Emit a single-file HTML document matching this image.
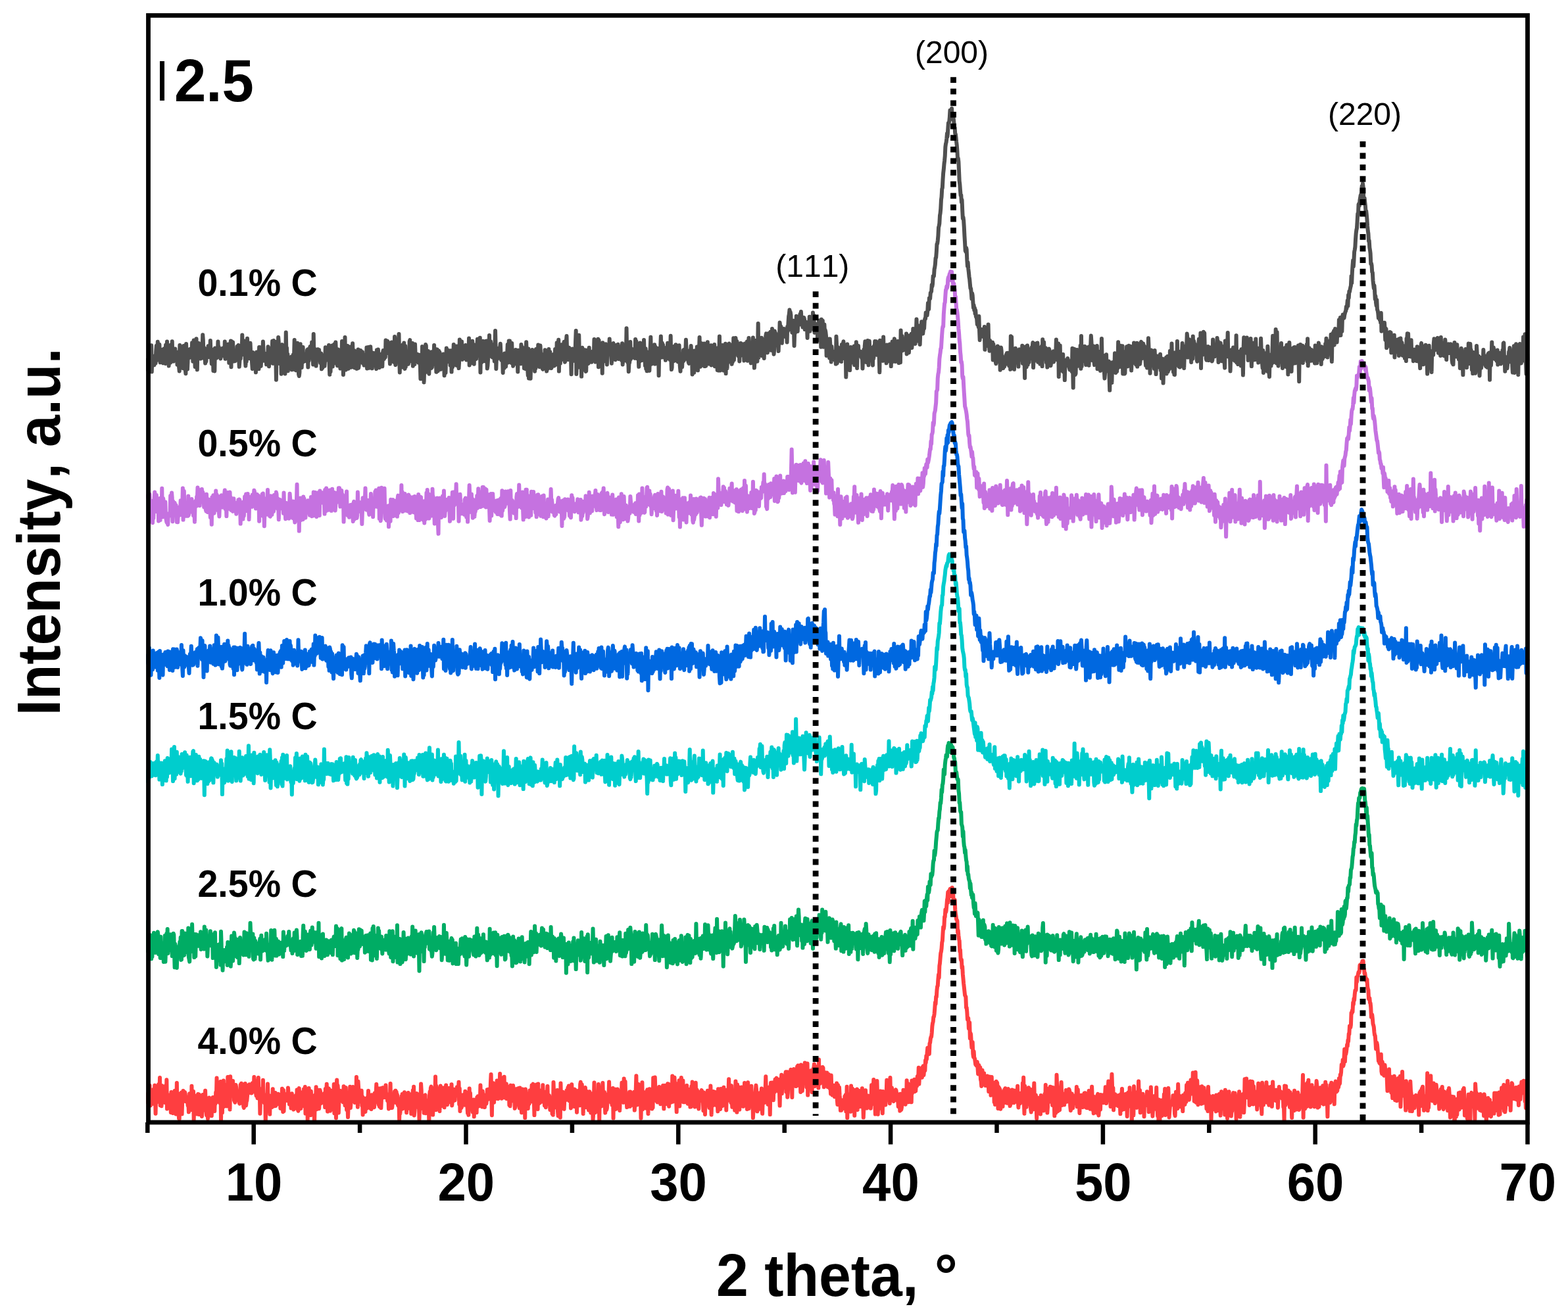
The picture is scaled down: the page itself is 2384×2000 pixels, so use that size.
<!DOCTYPE html>
<html><head><meta charset="utf-8"><title>XRD</title><style>html,body{margin:0;padding:0;background:#fff;}svg{display:block;}text{font-kerning:none;font-feature-settings:"kern" 0;}</style></head><body>
<svg width="2384" height="2000" viewBox="0 0 2384 2000">
<rect width="100%" height="100%" fill="#fff"/>
<defs><clipPath id="pa"><rect x="222" y="20" width="2104" height="1690"/></clipPath></defs>
<g clip-path="url(#pa)">
<path transform="translate(224.30 0) scale(0.64560 1)" vector-effect="non-scaling-stroke" fill="none" stroke="#4f4f4f" stroke-width="6" stroke-linejoin="round" stroke-linecap="round" d="M0 547.2 l1 15.8 1-1.4 1-20.4 1 2.6 1-2.7 1 13 1-7.4 1 9.4 1-30.8 1 40.2 1-19.8 1 8.9 1-9.9 1-3.1 1 9.6 1 4 1-12.5 1 .2 1 9.5 1-18.7 1-8 1 22.1 1-12.9 1-15.1 1 12.7 1 3.7 1-8.8 1-3.8 1 17.8 1 9.9 1-13.5 1-6.2 1 13.2 1 3.8 1-12.1 1 9.9 1 5.9 1-14.8 1-7.2 1 13.7 1-1.2 1 10.1 1-28.1 1 7.4 1-2.1 1-10.5 1 21.9 1 4.8 1-14.9 1 25 1-6.6 1-2.3 1-2.7 1 6.6 1-27 1 22.9 1-.1 1-27.9 1 25 1-7 1 12.2 1-14.3 1 5.1 1 4.4 1-14.2 1 17.6 1-8.2 1 7.3 1-11.8 1 19.2 1-5.4 1-8.9 1 9.8 1 7.7 1 6.6 1-39.4 1 29.2 1-4.7 1-6.4 1-10.5 1 26.9 1-29.6 1 21.7 1 8.7 1-34.2 1 15.3 1-12 1 18.2 1 14.8 1 5.8 1-45.2 1 13.9 1 14.7 1 9.9 1-14.2 1-14.2 1 11.8 1-4.3 1-2.8 1-6.9 1 12.6 1-1.5 1-5.4 1-2.1 1-13.2 1 8.9 1 19.4 1-17 1-15.2 1 32.2 1-9.9 1 18.3 1-24.5 1-6.5 1-11.8 1 32.5 1 14.6 1-40.1 1 2.1 1 14.6 1-16.8 1 6.8 1-.8 1 6.6 1 10.9 1-12.4 1 10.9 1-15.4 1 9.2 1-28.7 1 8.5 1 27 1-16 1 14.3 1-.1 1 9.7 1-5.6 1 2.8 1-12.9 1-6.5 1 0 1 3.2 1-7.3 1 7.1 1 5.6 1 4.3 1-6.9 1-18.5 1 21.9 1 3.5 1 10.1 1-6 1-14.5 1-1.1 1 32.1 1-15 1 12.4 1 3.2 1-35 1 13.9 1 .6 1 .9 1-.5 1-4.4 1-.6 1-20 1 15.5 1-7.2 1 10.1 1-7.2 1 12.6 1 2.2 1-6.2 1 0 1-2.8 1-6.4 1 3.3 1-4 1 10.4 1-4.4 1 6.7 1-22.5 1 26.3 1-19.4 1 .4 1 6.4 1-4.2 1 10.2 1-10.1 1-5.7 1 2.8 1 25.6 1-14.8 1-14.1 1 14 1-18.3 1 39.6 1-39 1 23.8 1 .9 1-23.4 1 20.8 1 8.3 1-6.1 1-2.4 1 8.2 1-9.3 1 2.1 1-5.4 1 8.9 1-18.6 1 20.4 1-15.3 1-7 1 17.1 1 15.6 1-8.8 1-17.5 1 14.2 1-13.8 1 3.8 1 2.4 1-28.5 1 29.6 1-14.5 1 3.9 1-9.2 1-.6 1 6.8 1 20.9 1 10 1-19.9 1 13.3 1-15.8 1-19.3 1 24.5 1 3.7 1-10.1 1 8.9 1 3.5 1-16.7 1-6.9 1 15.1 1 .4 1-1.3 1 16.1 1 9 1-25 1 13.5 1 3.1 1-2.5 1 4.2 1-16.8 1 13.5 1 15.3 1-14.3 1-16.6 1 14.5 1 7.8 1-10.5 1-11 1 24.9 1-33 1 20.6 1-6.2 1-14 1 28.4 1-10.4 1-18 1 20.7 1-12.3 1-17.5 1 14.1 1 11.1 1 4.2 1-5.7 1-1.6 1 4.8 1-8.2 1 16.2 1-12.3 1 1.5 1 2.7 1-19 1 3.9 1 26.2 1-14.3 1-7.5 1 7.1 1-9.9 1 8.7 1-11.4 1 10.8 1-22.1 1 34.1 1-22 1-12.9 1 15.7 1-1.9 1 5.9 1-15.6 1 18 1 37.8 1-58 1 18.9 1-7.8 1 5.8 1-23.8 1 7.7 1 19 1-5.9 1 19.8 1-27.6 1 10.5 1 32.4 1-43.2 1-1.4 1 10.5 1 .2 1 10.8 1-8.1 1-10 1 11.8 1 29.1 1-15.6 1-47.3 1 31.7 1-8 1 18.2 1-8.7 1 25.4 1-11.1 1 .2 1-7.7 1-2 1 5.1 1 11.9 1-8.3 1-9.8 1 19.8 1-12.3 1-2.6 1-8 1 3.1 1-.4 1-25 1 45.2 1-5 1-9 1 15 1-7.1 1-.8 1-33.6 1 26.3 1 8.9 1 12.5 1 2.5 1-5.2 1-30.9 1-12.6 1 32.1 1-6.9 1 10.5 1-13.4 1 3.4 1-21 1 22.4 1-11.3 1 8.7 1 .6 1-7.5 1 4.4 1-4.6 1 8.5 1-3.7 1-13 1-1 1 27 1-22.3 1 12.5 1-7.5 1-11.6 1-2.5 1 10 1 1.5 1 4.1 1-22.2 1 7.9 1 6 1 20.1 1-46.5 1 33.3 1-11.3 1 11.9 1-10.5 1 10.5 1 14.6 1-13.8 1 1.4 1-.2 1-12.7 1 15.8 1-8.4 1-6.6 1 9.6 1-1.8 1 12 1-8.9 1-5.4 1 23.8 1-5.2 1 3.6 1-7.5 1-8.3 1-3.4 1 1.7 1 14.6 1-9.8 1-18.8 1 17 1-16.3 1 18.6 1-16.3 1-.8 1 16.1 1-2.5 1-18.9 1 28.2 1 16.4 1-43.3 1 38.7 1-29.9 1 2.1 1 3.4 1-15.2 1 32.1 1-9.8 1-14.9 1 5.3 1-14.8 1 13.6 1 15 1-31.5 1 15 1 6.8 1 10.5 1 3.5 1-21.4 1-3.4 1 14.1 1-9.6 1 .7 1 16.5 1 7.3 1-16.6 1-5.3 1 9.2 1-28.9 1 22.3 1-12.1 1 40.9 1-19.5 1-6.5 1-3.7 1-27.2 1 38.3 1 11.1 1-27.5 1 16.9 1 .7 1-26.5 1 29.5 1 5.2 1-13 1-3.2 1 10.3 1-27.3 1 19.5 1 11.6 1-27 1 26.6 1-16.5 1-19.5 1 23.4 1-10.1 1 15.2 1-17.5 1 26.2 1-21.1 1 12.9 1-11.3 1 3.1 1 17.7 1-11.6 1-7.4 1-10.3 1 28.2 1-5.2 1-12.8 1 6.5 1-15.2 1-.1 1 2 1 13.6 1-.8 1-12.5 1 17.3 1 .4 1-7.4 1 10.1 1-15.7 1 2 1 6.9 1-5.9 1 9.8 1-24.1 1 31.8 1-25.9 1 7.5 1-14.1 1 23.6 1 8.3 1-2.1 1-2.5 1-27.9 1 9.5 1 4.1 1-5.2 1 24.6 1-10.7 1-2.2 1 6.2 1-16.7 1 .7 1 .4 1 16.4 1-1.9 1 2.8 1 5.8 1-28.9 1 9.2 1 8.1 1-18 1 9.2 1 17.9 1 .5 1-.8 1-12.8 1-3.6 1 14.6 1-17.8 1 7.7 1 10.9 1-20.7 1-3.5 1 6.4 1 6.5 1-2.1 1-4.5 1 4.1 1-26 1 8.2 1 11.6 1-13.3 1-5.3 1 1.3 1 3.1 1 8.5 1-10.1 1 14.7 1 17.3 1-21.8 1 16.9 1-11.5 1-16.5 1 10.4 1-8.3 1 20.9 1-22.4 1 29.6 1-8.4 1-30.3 1 33.5 1 9.4 1-27.3 1 21.4 1-32.5 1 24.5 1-22.3 1 25.6 1-26.5 1-9.8 1 35.9 1 22.5 1-34 1 16.8 1-8.5 1-5.1 1 10.9 1 12 1-34.1 1 21 1-2.8 1-21.1 1 35.6 1 3.7 1-34.6 1 31.5 1-20.2 1-2.8 1 19.4 1-15.3 1 .9 1 14 1-2.8 1-4.8 1-27.1 1-2 1 32 1-24.1 1 12.9 1-14.2 1 10.9 1-12.6 1 34.8 1-30.8 1 11.1 1-.3 1 17.1 1-30.3 1 17 1-1.4 1 9.5 1 0 1-10.3 1 9 1-6.5 1 10.7 1-6 1-5.8 1 8.1 1 5.2 1 23.1 1-32 1 10 1 14.1 1-41.4 1 4.4 1 6.9 1 12.9 1 30.3 1-24 1 9.8 1-16.8 1-26.5 1 1.8 1 39.2 1-10 1-17.6 1 28.3 1-31.6 1 31.2 1 3.5 1-26.5 1-4.4 1 22.7 1-23.2 1 22.7 1-24.7 1 23.3 1-8.8 1-6.7 1-5.8 1 13 1-25.4 1 18.7 1-1.8 1 12.4 1-23.1 1 34.7 1-24.2 1-10 1 29.5 1 3.1 1-22.1 1-8.5 1 10.5 1-8.5 1 4.3 1 21.9 1-13.9 1-3 1 2.3 1-4.9 1 10.5 1 .4 1-14.8 1 5.6 1 27.2 1-23.5 1-7.2 1 26.3 1-24.1 1-13.1 1 20.9 1-18.6 1 4.7 1 9.6 1-5.4 1-7.6 1 2.4 1-.5 1 20.6 1-22.4 1 1.7 1 30.6 1-30.7 1 23.9 1-2.2 1-17.6 1-15.1 1 21.8 1 2.4 1 3.3 1-10.8 1 13.1 1 2 1-29.1 1 29.1 1-15.1 1-9 1 2.8 1 25.7 1-10.8 1-32.9 1 21.9 1-2.8 1-.6 1-4.1 1-11.2 1 27.2 1-21.4 1 6.7 1-2.9 1-1.6 1 17.4 1-4.3 1-12.5 1-3.2 1 5.6 1 16.9 1-9.9 1 1.3 1-6.6 1 .9 1 5.7 1-24.3 1 40.9 1-28.2 1 2.7 1 22.5 1-13 1-2 1-7.3 1-11.4 1 20.7 1 12 1-24.6 1 26.8 1-29.3 1 4.7 1 14.6 1-5.9 1 8.2 1-16.9 1-3.4 1-9.9 1 7.8 1 1.4 1-4.2 1 20.4 1-11.6 1-15.8 1 52.7 1-39.3 1-5.2 1 29.3 1-1.1 1-27.5 1-3.9 1 5.4 1 24.9 1-17.1 1-6 1 9.1 1 14.3 1-30.7 1 11.8 1-11.9 1 41.9 1-4.2 1-10.3 1-12.9 1 9.4 1-32.6 1 28.1 1-19 1 .1 1 7.4 1 4.3 1 10.9 1 1.6 1-5.1 1-14.2 1 19.2 1-9.3 1 15.4 1-24.7 1-21.7 1 27 1 31.1 1-19.8 1-7.8 1 12.7 1-4.4 1-.5 1-11.4 1 7 1 1.5 1-9.9 1-5.6 1 14.9 1 9.9 1-3.8 1-1.7 1 .2 1 24.7 1-27.3 1 9.3 1 10.9 1-22.3 1 2.7 1 9.4 1 7.7 1-16 1 .7 1-3 1-15.1 1 27.5 1-16 1-17.1 1 18.7 1-18.6 1 8.6 1 12.2 1-11 1 23.6 1-29.9 1 20.5 1 3.6 1 10.7 1-6.3 1-8.1 1-1.8 1-1.6 1 14.2 1-21.1 1 14 1-7.2 1 4 1-5.8 1 28.4 1-32.8 1 10.9 1 .4 1 4.1 1-1.6 1-.1 1 6.8 1-29.2 1 18.1 1-14.4 1 17.6 1-16.5 1 2.9 1 10.9 1 17.5 1-9.4 1-3.1 1 13.3 1-27.4 1-13.3 1 19.9 1 2 1 18.1 1 10.9 1-40.7 1 45.1 1-10.5 1-8.3 1-5.4 1 24.5 1-27.5 1-6.3 1 7.5 1-17.6 1 21.9 1-6.6 1 5.3 1 .6 1-16.6 1 28.2 1-27.3 1 22.7 1-29.2 1 23.4 1-13.9 1 10.3 1-8.1 1-18 1 12.7 1 14.1 1 6.6 1-24.7 1-7.7 1 14.8 1 7.8 1-5.1 1-2.1 1 19.5 1 1.2 1-2.8 1-20 1 11.7 1-3.4 1-14.9 1 27 1-9.7 1-7.1 1 22.1 1-8 1 .6 1 3.7 1-6.2 1-23.8 1 9.8 1 16 1-21.4 1 9 1 3.8 1 11.9 1-2.1 1-5.2 1-13.2 1 12.6 1-4.9 1-8.5 1 17.7 1-10.5 1-15 1 23.7 1-18.1 1 9.9 1-25.1 1 17.7 1-11 1-.3 1-11 1 47.9 1-26.9 1 4.7 1 10.4 1-14.4 1 7.7 1-21.9 1 18.6 1-7 1 11 1-3.5 1-18.3 1-5.3 1 10.1 1 20.9 1-3.5 1-.1 1-28.5 1-7.7 1 24.5 1 3.5 1-3.2 1 11.3 1-6.2 1-12 1 3.6 1 12 1-.9 1-1.8 1 27.5 1-30 1 4.5 1-13.3 1 7.4 1 10.3 1 .4 1-8.6 1 6.5 1-4.1 1-22.8 1-16.4 1 65.9 1-17.3 1-10.4 1-19.7 1 5.6 1 31.3 1-48.7 1 29.3 1 14.3 1-8.2 1 7.5 1-10.2 1 30.1 1-40.1 1-3.7 1 19.6 1 13.9 1-17.3 1 13.2 1-18.5 1-7.5 1 30.6 1 2.1 1-.4 1-23.3 1-8.5 1-.2 1 11.1 1 9.4 1-1.1 1-23.2 1 19 1-2.4 1 .6 1-1.7 1-2.5 1 9 1-5.9 1 .7 1-11.2 1 12.4 1-6.6 1-24 1 30.2 1-9.3 1 13.6 1-13.3 1 .3 1 3.2 1-3.1 1-5.6 1-16.3 1 42.5 1-40.8 1 14.2 1 11.4 1-3.6 1 1.9 1 2 1 5.5 1-11.7 1 30.5 1-46.5 1 14.3 1-7.1 1-2.5 1 9.7 1 13.6 1-25.7 1-.2 1 16.8 1-2.2 1 16.6 1-11 1-9.4 1-6.6 1 6.5 1-4.5 1-13.9 1 16.3 1-2 1-.5 1-2 1 25.3 1-11.5 1 3.2 1-17.9 1-4.5 1 9.1 1 6.6 1-6.6 1 2.2 1 13.9 1-7.5 1-14.8 1 6.9 1-2.5 1 10.2 1-15.7 1 11.8 1 10.5 1-7.8 1-11 1 3.5 1 8.7 1 4.2 1 4.2 1-11.7 1-14 1 32.2 1-13.5 1 1.1 1-1.3 1-16 1 8.2 1 6.7 1 8.9 1-11.6 1-37.6 1 33.8 1 7 1 11.1 1-6.9 1 20.9 1-12.5 1-.8 1-4.7 1-27.3 1 26.4 1-2.7 1-13.1 1 13.3 1-1.7 1-10.3 1 4.3 1-1.4 1 6 1-7.5 1 11.6 1-28.9 1 19.5 1-16.4 1 14.3 1 11.9 1-5.8 1-1.5 1 2.2 1 17.7 1-31.5 1 23.5 1-28.3 1 12.3 1 7.5 1-12 1 12.5 1 6.2 1-22.6 1 13.2 1-3.4 1-18.3 1 20.8 1-7 1 25.4 1-25.9 1 30.7 1-26.1 1 29.5 1-16.2 1-.6 1 4.5 1 1.4 1 6.3 1 4.2 1-24.2 1-10.4 1-16.5 1 27.2 1 13.7 1-4.3 1-3 1-5.4 1-3.4 1 4.3 1 7.9 1-25.5 1 29.3 1-26 1 15.1 1-5.9 1 2.9 1-8.3 1-1.6 1 10.6 1-10.5 1 41.4 1-34.3 1-3.2 1 .9 1-6.5 1-16.7 1 25.6 1 6.4 1-21.8 1 17.5 1-14.6 1 13.5 1 4.5 1 1.2 1-.8 1-13.7 1 18.5 1-15.9 1 9.3 1 4.1 1-12 1-11.6 1 22.4 1-20.4 1 2.7 1-2.5 1 23.1 1-11.8 1-24.4 1 35.3 1 16 1-3 1-27.8 1 7.9 1 5.3 1 4.8 1-9.9 1-13 1 22 1-1.4 1-22.7 1 11.6 1 7.7 1-3 1 6.4 1 3.3 1-2.8 1-7.7 1-14.5 1 23.3 1 9.3 1 6.8 1-23.7 1 0 1 17.5 1-.1 1-13 1 4.4 1-17.4 1 15.9 1-16.6 1 8.1 1 .3 1-4 1-19.3 1 15.3 1 13.8 1-4.5 1-3.8 1 9.9 1 3.3 1 2 1-19.3 1 9.9 1-4 1-6.2 1-7.1 1 16.6 1-9 1 35.8 1-26.4 1-1.4 1-2 1 26.9 1-33.2 1 9.2 1-7.2 1 7.6 1 1 1 13.3 1-29.7 1 16.4 1 19.3 1-25.2 1 3.9 1-8.5 1-20.5 1 29.6 1 15.1 1-19.4 1-16.4 1 25 1-2.3 1 10.9 1-1 1-13.9 1 7.9 1-25.9 1 34.5 1-10.9 1 10.7 1-.2 1-15.9 1 1.8 1-8.5 1-13.9 1 23 1 3.5 1-14.4 1 21.3 1-7 1 4.4 1-14.3 1-11.5 1 30.2 1-1.7 1-8.3 1-3.5 1 1.9 1 1.9 1-4.2 1-17.5 1 33.2 1-26.7 1 13.9 1 .4 1 6.9 1-22.1 1 33.4 1-6.5 1 1.3 1 5.8 1-24.5 1-27.6 1 40.7 1 11.3 1-2 1-20.3 1 4.9 1 4.1 1-25.2 1 13 1-.1 1 25.7 1-27 1 25.6 1-18.9 1-20.6 1 45.4 1-38.3 1 18.2 1 12.2 1-27.1 1-8.8 1 26.2 1-12.1 1-15.8 1 1.2 1 7.6 1 15.5 1-15.2 1 10.7 1 11.4 1-4.9 1 1.7 1-2.6 1-33.8 1 33.3 1-10.7 1-5.5 1-11.4 1-6 1 5.7 1 12.9 1-13.6 1 4.4 1 2.5 1 15.3 1-11.2 1 2 1 17.6 1-19.2 1 11.1 1-19.3 1 16.6 1-2.2 1 .9 1-7.4 1-6.4 1 8.9 1-1.8 1 17.9 1-1.4 1-24.8 1 21.7 1-13 1 11.1 1-11.1 1-11.7 1 29.3 1-6.8 1-20 1-8 1 15.8 1-7.9 1 9.4 1 11.3 1 9.7 1-21.9 1 20.1 1-2.8 1-19.3 1-14.9 1 29.3 1-3.3 1 20.2 1-11.3 1-8.1 1 10.3 1-32.7 1 14.3 1-6 1 23.4 1-14.3 1-43.2 1 51.9 1-27.3 1 19.5 1-15.2 1 8.1 1 4.2 1-5.5 1-14 1 27.4 1-12.2 1-5.3 1 8.2 1-15 1 28.2 1-19.9 1 1.3 1-.5 1-15.1 1-3.4 1 16.1 1 1.4 1 11.5 1-10.8 1-18.4 1 18.9 1 3.4 1 1.9 1-8.1 1-18.5 1 28 1-22.5 1 15.2 1-25.5 1 27.5 1-18.5 1 21.9 1 7.8 1-7.2 1-27.9 1 2.4 1 .6 1 17.7 1-4 1-2.6 1 1.3 1 2.8 1 .4 1 11.8 1-21.1 1 2.5 1-24.9 1 5.8 1 6.8 1-6.4 1 16 1 9.1 1-18.1 1-1.2 1-.9 1 6.9 1-8.6 1 10.8 1-2.1 1-.2 1 4.2 1-9.6 1 .1 1 17.3 1-23.6 1 6.8 1-12.6 1-10 1-3.3 1-6.4 1 9.3 1-6 1 4.5 1 22.4 1-13.1 1 17.3 1-8.8 1 7.8 1-17 1 9.1 1 29.2 1-21.4 1 1.9 1-9.2 1 7.3 1-23.9 1 3.6 1 15.1 1 4.6 1-14.5 1 2.6 1-2 1 2.1 1-11.9 1-2.8 1 16 1-19.4 1 9 1 3.8 1-4.6 1 15.3 1-8.1 1 4.4 1-10.9 1 3.1 1 14.9 1-1.7 1-9.8 1 9.9 1-2.1 1-.3 1 17 1-23.5 1 9.8 1 .1 1-7.7 1-10.9 1 22 1-4.9 1-2.4 1-.2 1 .1 1-10.7 1 14.2 1-24.5 1 21.1 1-17.1 1 13.7 1 12.8 1-11.2 1-2.3 1 12 1-8.9 1-1.2 1 .5 1 22.9 1-9.5 1-1.6 1-19.2 1 21.9 1-21.9 1 21.6 1-18.1 1 36.9 1-42 1 35.1 1-4 1-29.2 1 19.1 1 20.9 1-2.4 1-31.7 1 14.6 1-6.4 1 3 1 5.8 1 30.4 1-18.8 1-3 1-.1 1 12.9 1 1.4 1-17.9 1 29 1-29.1 1 10.3 1 9.2 1 15.5 1-23.5 1 8 1 12.5 1-7.5 1 6.4 1-.7 1-8.8 1 4.7 1 3.6 1-10.8 1 19.3 1-41.8 1 12.7 1 27.9 1-11.8 1-12.4 1 12.1 1 8.5 1-19.2 1 15.7 1-10.3 1 .3 1 .6 1 14 1-25.9 1 8.9 1 12.3 1-21.8 1-4.1 1 25.4 1-6.4 1-1.5 1 3.6 1-12.8 1 45.8 1-45.3 1 6.7 1-11.2 1 12 1 23 1-17.3 1 7 1-12.3 1 27.1 1-18.9 1-16.2 1 23.8 1-13.1 1 11.6 1-5.3 1 1.7 1-1.4 1-12.1 1-6.8 1 28.9 1-13 1 5 1-8.8 1-18.2 1 8.6 1 31 1-25.6 1 4.6 1-12.8 1 10.7 1 1.6 1 1.5 1 1.4 1-6.7 1 .3 1 6.2 1 3.6 1-5.7 1 21.5 1-18.2 1-.9 1-9.8 1 19.1 1-24.1 1-7.3 1 7 1 18.1 1-20.8 1 27.7 1-15.6 1-17.6 1 14.4 1 22.8 1-30.9 1-5.6 1 20.6 1 8.7 1-3.7 1-15.9 1 5.6 1 1.2 1 9.4 1 10.8 1-26.2 1 15.9 1-19 1 10.4 1-17.5 1 1.8 1 13.4 1-15 1 20.4 1-16.4 1 7.3 1-1.7 1-2.6 1 5.5 1 11.1 1 23.3 1-48.4 1 17.3 1-4.9 1-7.9 1 14.1 1-12.6 1 9.6 1 15.4 1-36.3 1 26.2 1 2.7 1-15.3 1 17.2 1-1.5 1-7.4 1 17.9 1-27.9 1 22.1 1-9.5 1-9 1 9.9 1-1.8 1 13.1 1-25.8 1 14.4 1-3 1 22.3 1-30 1 23.8 1-31.4 1 22.8 1-5.7 1 5.2 1-12.4 1-14.1 1 3.9 1 30.7 1-12.6 1-12.2 1 18.6 1-18.5 1-.5 1-5.7 1 25.3 1 7.8 1-32.1 1 12.9 1 6.8 1 11.6 1-48.7 1 26.5 1 4.9 1-23.1 1 19.5 1-2.7 1 5 1-14.2 1 10 1-11.1 1 12.2 1-5.1 1-6 1-11.1 1 31.1 1-6 1-2.8 1-16.1 1 2.8 1 20 1-9.7 1-16.4 1 8.5 1 .6 1-3.8 1-7.8 1 21.1 1-7 1-8.1 1-13.7 1 9.1 1 5 1 7.7 1-12.2 1 13.2 1-9.6 1-8.7 1-19.2 1 14.1 1-3.4 1 11.2 1 3.5 1 8.3 1-13.1 1-10.5 1 28.5 1-18.1 1-5.8 1-1.1 1-9.8 1 14.3 1-3.4 1 7.5 1-5.3 1-3.4 1 .8 1-12.4 1-2.9 1 .5 1-9.4 1 4.5 1-3.4 1 3 1-6.4 1-12.1 1 6.5 1 2.9 1-16.9 1 1.1 1-.3 1-9.2 1-.6 1-1.4 1-9.9 1 2.4 1-4 1-11.6 1 .5 1-.7 1-10.4 1-2.8 1-4.7 1-9.4 1-.9 1-8.6 1-11.9 1-.2 1-5.2 1-7 1-12.9 1-2.5 1-3.5 1-12 1-3.6 1-7 1-13.2 1-4.8 1-11.7 1-2.1 1-12.6 1-9.6 1-5.6 1-7.8 1-5.6 1-7 1-13.8 1-4.8 1-2.4 1-5.8 1-7.6 1 5 1-11.3 1-9.5 1-.7 1-.9 1-6.9 1-10.9 1 6 1-1.1 1 8.4 1-16 1 15.1 1-5.3 1 7 1-2 1 5.6 1 8.1 1 .5 1 9.2 1 1 1 4.7 1 7.2 1 5.6 1 8.6 1 13.4 1-3.1 1 5.5 1 14.5 1 14.8 1 5.1 1 8.9 1 7.5 1-.4 1 11.2 1-3.9 1 15.9 1 12.4 1-1.7 1 5 1 10.1 1 13.1 1 10.5 1 12.3 1 1.5 1-6.1 1 2.6 1 16 1 9.3 1-5.7 1 9.8 1 5.3 1 6.8 1 3.8 1 7.4 1 6.6 1 .1 1 6.8 1 9 1-8.7 1 3.5 1 9.8 1 8.9 1-3.8 1 7.4 1-3.6 1 9 1-5.4 1 9.8 1 1 1 2.4 1 8.7 1 .4 1-8.9 1 12.2 1-16.3 1 21.2 1 15 1-14.7 1 1.6 1-1.9 1 7.7 1-8.8 1 10.6 1-6.5 1 0 1 5.8 1-.3 1-13.6 1 34.7 1-16.1 1-15.4 1 26.1 1-9.1 1 3.1 1 5.7 1-14.1 1-18.4 1 27.7 1 4.2 1 8.3 1-16 1 5.6 1 7.4 1-6 1 1.6 1 5.9 1-11.5 1 26.7 1-24.1 1 10.5 1-2.7 1-2.9 1 13.6 1 5.8 1 5.5 1-8.1 1-9.8 1 14.4 1-23.2 1 16.2 1 5.7 1 1.1 1-17.5 1-3.1 1 33.8 1-22.5 1-11.7 1 4.6 1 13.6 1 12.8 1-12.5 1 13 1-10.4 1 2.6 1 5.5 1-14.8 1 7.2 1-7.6 1-2.9 1 13.8 1-16.3 1 9.5 1-9.8 1 7.3 1-5.1 1 17.5 1-11.4 1-.3 1 17 1-50.5 1 19.4 1-18.2 1 30.1 1 4.7 1 2.2 1-4.3 1-12.7 1 29.3 1-16.2 1-6.2 1-9.6 1 17.4 1-10.1 1 .6 1 7.6 1 .3 1-11.5 1 23.5 1-25.2 1-1.1 1 16.2 1-1.9 1-.5 1-5.3 1 5.2 1-6.9 1-12.3 1 27 1-19.9 1 8.8 1 10.8 1-8.3 1 30.8 1-47.5 1 7.1 1 9.3 1 14.2 1-18.6 1-13.9 1 29.1 1-23.9 1 7.9 1 12.1 1-18 1 2.2 1 10.5 1-8.2 1 5.4 1-14.3 1 9.3 1-11.3 1-5.5 1 38.1 1-15.1 1 5.4 1-21.8 1 10.9 1-2 1-14 1 22.8 1-14.6 1 6.1 1-15.1 1 29.1 1-2.6 1-4.2 1-15.1 1 4.4 1 20.4 1-17.3 1 6.3 1-1.5 1-14.6 1 30.6 1-40.8 1 25.6 1-3.7 1-17.8 1 22.6 1 2 1-5.5 1-10.3 1 14.7 1 7.7 1-10.5 1 17.5 1-10.2 1-1.1 1 7.2 1-23.9 1 1.7 1 12.1 1 .1 1 11.7 1-4.2 1-11.1 1 .7 1-5.6 1-.8 1-.7 1 16 1-15.7 1 1.7 1 6.3 1-7.4 1 3.7 1-22.5 1 30.4 1-7.6 1 6.2 1 2.6 1-25.6 1 50.3 1-25.7 1 .7 1-22.5 1 28.8 1-2 1-8.6 1 7.6 1 12.6 1-18.5 1-6.3 1 26.7 1-12.2 1-4.8 1 29.4 1-24.9 1-3.6 1 5.4 1-7.6 1 7.4 1-.5 1-9.4 1 4.8 1 6.8 1 1 1 2.4 1 2.5 1-6.3 1 3.2 1-10.6 1 1.5 1 15 1-35.5 1 27.4 1 32.6 1-59.2 1 39.1 1-38.6 1 24.5 1 14.4 1-2 1-28.7 1-5 1-2.2 1 24.8 1-13.6 1 4.1 1 2.3 1 1.2 1 .9 1-5.4 1-20.9 1 35.4 1-49.9 1 46.3 1-22.2 1 4.3 1-4.3 1 1.4 1 3.7 1-3.4 1-9.9 1 22.7 1-17.1 1 22.5 1-17.8 1-6.6 1 13.4 1 5.3 1-21.3 1 7.5 1 20.3 1-28.5 1 1.9 1 12.1 1-16.1 1-14.5 1 9.5 1 24.3 1 3.6 1-.5 1-2.2 1-18.8 1 22.8 1 5.8 1-21.5 1 19.6 1-15.1 1 6.9 1 2.4 1-21.4 1 35.1 1-26.9 1 9.3 1-4.2 1 11.7 1 .2 1-4.3 1 16.9 1-12.8 1-7.4 1-28.7 1 31.2 1 .5 1-6.2 1 .7 1 17.8 1 5.9 1 10.7 1-8.4 1-21.2 1 11.8 1-18.5 1 25.1 1-4 1-11.1 1 6.2 1-1.5 1-4.5 1 23.2 1 21 1-26.9 1 2.6 1-10.8 1-6.3 1 29.7 1-30.6 1 8.5 1-6.6 1 7.8 1-8.2 1 7 1-22.6 1 13 1 16.7 1-29 1 3.6 1 23.3 1-12.1 1 7.1 1-39.6 1 27.4 1-17.3 1-1.9 1 20.7 1 8.6 1-32 1 4.2 1 5.8 1 5 1-14.5 1 42.2 1-19.9 1-11.4 1-2 1 33.5 1-1 1-32.3 1 9.9 1 10.9 1-28.9 1 7.1 1 23 1-24 1 3.2 1-10.7 1 7.1 1 17.2 1-17.7 1-5.6 1 8.1 1 28.5 1-18.7 1-8.7 1 8.5 1 3.5 1-3.8 1-22.8 1 24.9 1-6.1 1 12.4 1-26.2 1 28.4 1-18.5 1-14.5 1 35.8 1-22.1 1 10.4 1-6.6 1 14.7 1-.1 1-.1 1-5 1-27.9 1-.9 1 22.2 1-13.9 1 16.8 1-3.7 1-18.8 1 4.5 1-1.1 1 3 1 8.2 1 10.8 1 8 1-27.2 1 5.1 1 25.6 1-7.5 1-7.5 1-30.3 1 16.4 1 14.3 1-8.4 1 31.2 1-22.2 1 2.8 1-15.9 1 1.2 1 4.9 1 1 1 5.1 1 7.7 1-1.2 1 9.6 1-27.7 1 19 1 .7 1 16.4 1-21.2 1 6.8 1-13.3 1 15 1-.1 1-12 1 2.5 1 5 1 7.4 1-20.4 1 24.4 1-14.4 1 26.7 1-5.1 1-22.1 1-2.6 1 36.9 1-21.8 1-.6 1-11.8 1 3.5 1 11.2 1-2.2 1-17.2 1 24.7 1-11.2 1-15.1 1 23.2 1-14 1 11.4 1-16 1 10.8 1-23.7 1 23.7 1-22.7 1 19.9 1-32.3 1 29.3 1 9.1 1-3 1 8.2 1-27.3 1 31.2 1 .1 1-33.8 1 4.4 1 2.3 1 6.1 1 2 1-32.1 1 36 1-10.7 1-9.6 1 22.9 1-16 1 17 1-7.8 1-10.8 1 17.2 1-5 1-16.2 1-13.8 1 12 1 13.3 1-10.8 1 23.3 1-18.4 1-1.4 1 2 1-15.8 1 8.6 1-6.8 1-20.5 1 6.4 1 29.6 1-14.4 1 3.5 1-16.4 1 10.3 1 16.1 1-8.4 1-7.6 1 24.2 1-19.1 1-3.6 1 17.6 1-34.4 1 27 1-20 1 3.6 1 1 1 9.5 1-.5 1 2.1 1-1.4 1 13.9 1 3.2 1-11.9 1 .3 1-13.7 1-8.8 1 19.9 1-6.8 1 9.7 1-32 1 53.5 1-47 1 15.6 1 11.4 1-28 1 10 1-17.2 1 7.3 1-5.7 1 24.6 1 2.6 1-6.9 1 19.1 1 1.9 1-16.3 1-2.2 1-.4 1-1.8 1 21.1 1-12.5 1-6.5 1 1.3 1 9.4 1-11.2 1 8.6 1-4.2 1 16.5 1-2.3 1-30.7 1 14.8 1 10.2 1-13.9 1 14.7 1-5.8 1 2.8 1-7.9 1 4.1 1 2.4 1-23.9 1 6.4 1-1.4 1 31.9 1-16.6 1 .8 1-2.5 1-8.3 1-2.7 1 18.9 1-14.5 1 23.2 1-16.3 1-1.1 1-3.6 1 2 1 1.4 1 18 1 9.9 1-41.1 1 17.1 1 5.7 1-18.7 1 3.6 1 2.5 1-22.7 1 36.6 1-7.8 1-.1 1 2.5 1 2.4 1 24.9 1-24.9 1 8.1 1-15.6 1 10.6 1-7.6 1 2.3 1-8.7 1 1.3 1 15.3 1 3.5 1-3.2 1-13.3 1 11.8 1-33.7 1 41.1 1-11.6 1 3.7 1 10.5 1-18.9 1 16.3 1-16.7 1 11.5 1-11.4 1 8.2 1 13.3 1-25.1 1 .3 1 3.1 1 7.1 1 28.7 1-39.6 1-17.6 1 16.2 1-11.3 1 11.8 1 6.6 1-11.8 1 3 1-14.2 1 24 1-11.1 1 21.5 1-.5 1-22.8 1 5.8 1 5 1 8.3 1-28.6 1 19 1 23 1-22.9 1 3.8 1-2.4 1-13.8 1 25.6 1-7.8 1-.9 1 7 1 1.1 1-31.3 1 28.5 1-12.2 1 9.2 1-9.9 1-1.4 1 21.9 1-10.9 1-2.9 1 .4 1 4.7 1-.8 1-27.3 1 17.9 1 7.8 1 11.8 1 7.5 1-26.8 1 34 1-21.6 1 4.8 1-11.9 1-.8 1 24.1 1-19.5 1 1.4 1 14.8 1 6.5 1-38 1 15.3 1 2 1 21.3 1 7.5 1-29.8 1 4.8 1 5.6 1 3.1 1-17.5 1 13.6 1-18.5 1-23.4 1 15 1 18.5 1 6.5 1-36 1 5.2 1 20.6 1-39.5 1 46.1 1 5.4 1-47.3 1 43.9 1-11.5 1 18.8 1-13.5 1-6.2 1 4 1 9.5 1-8.9 1-1.9 1-17.6 1 22.4 1-5.4 1 21 1-21.8 1-1 1-6.5 1 15.6 1-11 1-6.1 1 26.8 1 1.9 1-26.2 1-6.8 1 25 1-23 1 42.6 1-34.6 1 12.7 1-26.4 1 14.8 1 13.1 1-7.5 1-11.4 1 34.9 1-19.9 1-11.1 1-4.3 1 4.1 1 18.9 1-24.4 1 9.5 1-9.8 1 24.3 1-16.2 1 12 1-3.2 1-13.2 1 15 1 2.9 1-24 1 21.5 1 33.1 1-44.4 1 10.8 1-22.7 1 20.8 1-12.1 1 15.6 1-9.4 1-13 1 26.1 1-15.2 1-9.2 1 12.3 1-11.9 1 15.5 1-5.4 1-3.6 1 11.7 1-22.3 1 25.5 1-34.1 1 41.1 1-16.4 1-5.2 1-5.5 1 14.4 1-8.1 1-.4 1 13.6 1-16.7 1 2.1 1 7.4 1 7.1 1-13.9 1 3.4 1-1.4 1 7.7 1 8.2 1-27.2 1 8.9 1 .9 1 7 1 10 1-16.9 1 2.5 1 10 1-26.2 1 5.2 1 3.5 1 4.8 1 2.5 1-8.2 1 24.6 1-26.8 1 5.3 1 13.8 1-3.6 1-8.6 1 3.9 1 4.5 1-9.2 1 6.7 1-16.9 1 10 1-18.4 1 7.5 1-3.1 1 24.3 1-18.3 1 7.3 1-13.2 1 6.8 1-1.4 1-6.5 1 16.5 1-25.9 1 22 1 19.2 1-34.9 1 7.5 1-16.2 1 14 1-17.1 1 21.5 1-11.4 1-13.4 1 4.3 1-3.6 1 10.9 1 9 1-12.1 1-7.9 1 1.8 1 6.9 1-22.6 1 23.7 1-3 1-24.3 1 27 1-23.3 1 9 1 8.3 1-22.2 1-3.2 1 3.1 1-1.8 1 3.8 1-4.8 1-2.4 1-2.5 1-1.1 1-6.3 1 2.8 1-4.8 1-7.6 1 8.5 1-16.7 1 4.6 1-10.2 1 .5 1-3.7 1-3.1 1-2.4 1-14.5 1 10.4 1-15.7 1-10.7 1-8 1 9.6 1-9.1 1-13.3 1-3.2 1-4.2 1-11.8 1-8.9 1-5.1 1-3 1-10 1-11.8 1 2.2 1-16.4 1-1.3 1 3.3 1-8.7 1-3.9 1-3.8 1 1.5 1-6.3 1-8.9 1 9.3 1-13.2 1 5.9 1 17.8 1 .9 1-2.5 1 6.1 1 5.7 1 9.4 1-1.6 1 5.7 1 7.5 1 9.9 1 7.2 1 4 1 11.7 1-.8 1 10.6 1 3.9 1 5.1 1 15.6 1-.5 1 3 1 10.1 1 1 1 12 1 6 1 5.6 1-4.2 1 8.2 1 12.6 1-4.7 1 10.1 1 4.7 1-8.8 1 14.7 1 1.4 1 3.9 1 7.6 1-3.7 1 .5 1 5.8 1-3.5 1 7.8 1-14.7 1 27.7 1-13.8 1 9.7 1 .2 1 .2 1 1.7 1 1.3 1-12.3 1 10.2 1 15.9 1-17.3 1 .9 1 28.7 1-6.5 1 4.4 1-12.9 1 3.6 1 5.6 1-.9 1-5.1 1-12.2 1 7.7 1-6.7 1 30.4 1-18.4 1 2.7 1 5.2 1-2.1 1 5.7 1-11.1 1-8.7 1 33.6 1-24.7 1 2.7 1-3 1 2.8 1 6.2 1 7.9 1-18.7 1 14.3 1-9.9 1 20 1-25.7 1 14.4 1 6.8 1-22.1 1 16 1 .5 1-10 1 6.5 1 13.3 1-7.9 1-6.9 1 2.4 1 7.4 1 9.3 1-4.9 1-.5 1 9.5 1-34.1 1 1.4 1-9.1 1 34.8 1-34.6 1 25.3 1 9.1 1-23.9 1 8.4 1 4.6 1 11.4 1-25.1 1 20.8 1 4.4 1-6.1 1 .3 1 12.5 1-11.5 1-2.6 1-3.5 1 11.4 1-10.6 1 10.9 1-6.2 1 11.9 1-21.7 1 10 1 3.3 1 .9 1 8.5 1-8.3 1 6.1 1 12.3 1-12.6 1-21.6 1-4 1 24.3 1-11.8 1 7.8 1-5.1 1 17.2 1-1.1 1-26.6 1 16.3 1-6.5 1-11.6 1 22.6 1-9.1 1 6.8 1 23.5 1-13.4 1-2.6 1-17.7 1-9.1 1 27.9 1-18.1 1 3.7 1-5.1 1 5.2 1 26.5 1-31.9 1 0 1 5.3 1 .6 1-17.7 1-7 1 13.5 1 3.9 1-7.1 1-2.9 1 .4 1 6.1 1 2.8 1-17.9 1 12.4 1 10.3 1-5.8 1-14.5 1 11.6 1 3.8 1 9.2 1-28 1 27 1-13.3 1 7.8 1 5.7 1-18 1 .8 1 8.2 1 10 1-14.7 1-10 1 8.6 1 12.8 1 9.2 1-19.3 1 2.3 1 1.8 1 .7 1-9.3 1 6 1 7.8 1-1.2 1-.8 1-11.9 1 5.4 1-1.7 1 20.6 1 4.9 1-12.9 1 14.8 1-21.9 1 .2 1-11.6 1 18 1-7.8 1 6.6 1 4.8 1-8.3 1-10 1 12.9 1 0 1 1.4 1 7.9 1-10 1-.3 1 23.7 1-7.4 1-13.2 1-9.5 1 6.1 1 10 1 5.7 1 18.5 1-30.6 1 4.9 1-5.7 1 5.4 1-5.2 1-7.8 1 24.5 1-10.2 1 13.6 1-20.8 1 9 1 4.7 1-29.5 1 6.5 1 24.1 1-7.5 1-22.6 1 12.8 1-3.6 1 6.6 1 23.6 1-24.6 1 30.4 1-26.5 1-5.5 1 26.9 1-7.1 1 5.2 1 6.7 1-10 1 2.1 1-34 1 10.6 1 15.1 1-2.5 1 6.3 1-13.7 1 18.8 1 10.9 1-16.5 1 3.3 1-3.6 1 5.2 1-8.1 1-8.2 1 8.4 1-.9 1-19 1 20.7 1-2.4 1 2.2 1-8.8 1 12 1 1.5 1-15.6 1 12 1 5.2 1-.6 1-19.6 1-1.3 1 12 1-12.7 1 41.2 1-38.8 1 0 1 16.6 1-13.2 1-22 1 25.5 1-10 1 5.3 1-12.8 1 8.2 1 8.6 1 .9 1-12.1 1 4.6 1-1.6 1 11.6 1-3.3 1-12.8 1 22.1 1-15.6 1 12.8 1-15.2 1 14.2 1-4.8 1 2.1 1 5.3 1-.7 1-3.2 1 .1 1-16.8 1 14 1-24.7 1-.7 1 22.4 1 1 1 19.9 1-9.8 1 5 1-16.6 1 8.6 1 8.3 1-7.5 1-2.2 1-3.1 1-12.1 1 .1 1-6.4 1 21.2 1-8.1 1-4.9 1 11.8 1-11 1 18.7 1 9.8 1-17.2 1-13.5 1-9.6 1 40.7 1-18.4 1-19.1 1 26 1-32.1 1 14.1 1 2.2 1-1.5 1-9.2 1 41 1-32.6 1 9 1-4.2 1-19.1 1 12.2 1 8.8 1 8.4 1-15 1 8.3 1-8.2 1 10.8 1-35.8 1 36 1-14.3 1 .5 1-26.4 1 20.8 1 19.6 1 19.9 1-35.2 1 .5 1 13.5"/>
<path transform="translate(224.30 0) scale(0.64560 1)" vector-effect="non-scaling-stroke" fill="none" stroke="#c572e0" stroke-width="6" stroke-linejoin="round" stroke-linecap="round" d="M0 754.5 l1 2.2 1-1.2 1 8 1 24.3 1-36.1 1 29.9 1 3.7 1-19.3 1-4.2 1 13.7 1 8.6 1 10.9 1-15.1 1 8.2 1-24.3 1-5.2 1-10.1 1 6.6 1 9.2 1 6.5 1-17.8 1 25.1 1-10.8 1-6.4 1-1.4 1 33 1-21.8 1-12.4 1-.5 1 33.1 1-28.3 1 21 1 3 1-43.9 1 43.6 1-18.1 1-10.1 1 6.6 1 13.3 1-1.9 1 .8 1-13.3 1 23.8 1 2.9 1 4.1 1-9.6 1 10.7 1 2.5 1-16.2 1 2.2 1-3.3 1-.3 1 3.8 1-30.2 1 16.4 1 9.7 1-30.5 1 7.9 1 35.8 1-31.1 1 7.1 1 9.9 1-10 1-4.5 1 4.1 1 1.1 1-1.8 1 9.1 1 16.8 1-14.8 1 15 1-10.6 1 1.1 1-3 1-10.5 1 8.4 1-1.5 1-16.8 1 21.8 1-2.2 1-2.6 1-11.2 1-24.7 1 48.2 1-18.4 1-25.1 1 33.1 1-16.2 1 16.1 1-9.6 1 14.3 1-10.9 1 .2 1-1.8 1 12.4 1-30.1 1 28.8 1-6.1 1-15 1 6.2 1-5.6 1 5.6 1 10 1-19.4 1 16.4 1 1.9 1-3.9 1 10.5 1-19.6 1 8.6 1 20.7 1-29.3 1-2.3 1 1.3 1 6.6 1-14.6 1 4.1 1-18.1 1 8 1 0 1-1.8 1 8.2 1 13.3 1-12.9 1-11.1 1 18.4 1-.9 1-18.5 1 18.4 1-14.3 1 5.4 1-1 1 18.6 1-19.1 1 6.3 1 6.3 1 10.4 1 2.2 1-25.6 1 26.4 1-10 1 11 1-1.2 1-18.3 1 7.1 1-3.6 1 8.3 1 15.4 1-18.6 1-8.3 1 37.9 1-41.5 1 11.9 1-.2 1-14.8 1 24.3 1 3.1 1-13.7 1 1.5 1-2.8 1-19.2 1 23.4 1-17.8 1 3 1 15.6 1 5.9 1-21.5 1 23.4 1 7 1-19.1 1-3.2 1 3 1-7.3 1-5.5 1 17.5 1 .7 1-14.4 1 1.1 1-2.6 1-.9 1-3.1 1-6.2 1 28.5 1-14.5 1 5.1 1 20.6 1-26.5 1 12.8 1-22.3 1 8.8 1 15.9 1-10.8 1-13.4 1-.9 1 22.3 1-14.5 1 19.3 1-4.5 1-6.6 1 3.2 1 9.9 1-8.2 1-11.3 1 15.1 1-7.9 1 1.6 1 9.4 1-2.7 1 8 1-14 1-3.2 1 1.3 1 8.2 1-13.8 1 5 1-5.8 1 .5 1 6.8 1 29.8 1-32.7 1 7.1 1-2.1 1-3.5 1 2 1 22 1-26 1 21.1 1-11.4 1-17.9 1 2.2 1 1.8 1-7.6 1 25.4 1-8.8 1 1 1-18.3 1 16.9 1-11.8 1 33.9 1-29.3 1 4.1 1 1.4 1-10.4 1 .9 1-.1 1 14.3 1-18.2 1 6.6 1 5.8 1-8.4 1-10.9 1 2.2 1 9.2 1-6.1 1 22.5 1-10.6 1-.1 1-10.9 1 17.9 1-9.7 1-6.4 1 4 1 35.1 1-33.9 1-2.5 1 23.6 1-4.3 1-11.3 1 19.5 1-32.1 1 11.7 1-12.9 1 34.9 1-14.8 1 29.5 1-24 1 .4 1-18.1 1-.3 1 8.1 1 16.1 1-22.2 1-15.2 1 37.1 1 .8 1-21 1 15.5 1 7.8 1 .5 1-31.4 1 18.6 1-9.7 1 19.7 1-10.2 1-15.1 1 14.9 1 5.4 1-24.8 1 2 1 7.5 1 4.1 1-3.3 1-14.8 1 2.8 1 17.4 1 5 1-15.2 1 12 1 19.6 1-24.3 1-2.8 1-3.1 1 13.4 1-2.9 1 .1 1-7.3 1 9 1 0 1-6.5 1 14.9 1-31.3 1 26.1 1-9.7 1 11.1 1 12.3 1-21.4 1-2.8 1 2 1 16.3 1 1.9 1-15.7 1 5.6 1 13.4 1-14.4 1-23.4 1 8.1 1 4 1 10.4 1-10.8 1 22.9 1-21.3 1 24 1-25.4 1 23.5 1-13.1 1 14.7 1 6.7 1-2.1 1-7.8 1-20.3 1-.3 1-27.2 1 54.5 1-2 1-2.5 1-24.7 1 45.6 1-39.6 1 18.2 1-28.8 1 12 1 21.6 1-2.2 1-24.6 1 11.7 1 14.1 1-34.6 1 30.3 1-27.2 1 25.3 1-10.7 1 14.3 1-18 1 1.6 1-.5 1-7.5 1 7.4 1-9.1 1 4.8 1 14 1-12.3 1 15.8 1-4.8 1 .9 1-23.6 1 17.6 1 11.5 1-6.8 1 3.2 1 2.9 1-36 1 23.9 1-.8 1-9.2 1-13.5 1 16.6 1-4 1 24.4 1-7.9 1-20.6 1-7.8 1 2.1 1 9 1-8.1 1 31.4 1-37.4 1 12.8 1 2.5 1 3.1 1-15.9 1 8.1 1 4.6 1 1.6 1-10.8 1 3.2 1 6 1 19.8 1-36.6 1 22.2 1 10.3 1-35 1 33.2 1-.5 1-15.8 1 10.4 1 6 1-19.3 1 4.4 1-15.3 1 4.3 1 8.9 1-2 1 20 1-21.5 1-11.6 1 24.6 1 .4 1-6 1-6.2 1-7.5 1 1.9 1 25.6 1-8.5 1-7.6 1 4 1-8.5 1-6.4 1 5.7 1 5.3 1-18.2 1 2.8 1-2.9 1 15.4 1 12.9 1-22.3 1 2.8 1-5 1 13.8 1-8 1 2.6 1-.6 1 39.8 1-27 1-6.1 1 2.8 1 16 1 1.6 1-7.8 1-25.7 1 34.9 1 1.4 1-3 1-3.2 1-4.3 1 13.5 1-17.3 1 16.1 1-17.6 1 1.4 1-.5 1-1.1 1 1 1 14.8 1 9.5 1-26.4 1-3.9 1 26.9 1-18.5 1 7.1 1-1.5 1 8.8 1-21.1 1 23.6 1-4.2 1-35.2 1 23.6 1-2.9 1 8.7 1-5.5 1-8.5 1 4.4 1 7.8 1-3.9 1-2.7 1 27.4 1-20.1 1-19.6 1 14.1 1 2.1 1-15.7 1 12.6 1-11.4 1-16.4 1 29.8 1 3.1 1-.3 1-9.1 1-5.4 1 9.6 1 2.1 1 5.7 1 4.8 1-6.2 1-16.2 1 6.1 1-15.7 1 24.9 1-1.5 1 7.1 1-8 1 12.7 1-26.3 1 12.1 1-6.6 1 .5 1-18 1 12.1 1-14.4 1 19.5 1-4.1 1 9.8 1-22.7 1 15.4 1 3.2 1-23.8 1 46.1 1-13.3 1-14.4 1 31.1 1-6 1-44.5 1 25.6 1-3.6 1 7.9 1-11.4 1 8.2 1 4.2 1-29.9 1 30.8 1 15.2 1-14.7 1 12.2 1 5.3 1-14.8 1 1.4 1 .5 1-9.4 1 31.8 1-21.2 1 1.6 1 4.8 1 6.4 1-33 1 4.1 1 13.7 1 4.6 1-20.2 1-1.9 1 25.1 1-.6 1-11.9 1-.2 1-4.2 1-6.5 1 3.2 1 12 1-4.4 1 13.1 1-27.1 1-4.9 1 26.2 1-18.1 1 6.9 1 3.6 1-15.6 1-3.7 1 20.6 1-35.4 1 38.7 1-28.6 1 29.9 1-6.2 1-1.2 1 2.7 1-4.4 1-18 1 25.6 1-8.3 1 3.8 1-7.1 1-1.6 1 13.9 1 .2 1-8.2 1-16.8 1 3.2 1-.7 1 25.1 1-7 1-4.8 1-2.3 1-6.7 1 18.5 1-21.5 1 2.5 1 20.1 1-2.3 1-7.8 1-13.8 1 .3 1 25 1-5.3 1 13.3 1-22.7 1 4.8 1-9.9 1 30.6 1-39 1 27.2 1 11.8 1-30 1-5.6 1 5.2 1-4.8 1 20.9 1-5.1 1-9.6 1 7.4 1 21.1 1-20.7 1-1.8 1 27.4 1-33.4 1 4.9 1 22.6 1-17 1-23.1 1 12 1-16.5 1 18.7 1 11.1 1-23.4 1 37.2 1-3.5 1-5.6 1-18.2 1 8.8 1 6 1 4.7 1 3.6 1-40.6 1 17.1 1-5.3 1 9.6 1 6.5 1 24.7 1-28.1 1 12 1-9.2 1-1.5 1 21.3 1-33.5 1 21.3 1 16.9 1 16.2 1-46.1 1-4.6 1-3.6 1 10.3 1 5.2 1 .4 1 13.5 1-16.8 1 7.7 1-23.2 1 11.9 1 6.1 1-26.1 1 29.5 1 9 1-9.5 1 1.6 1-2.8 1-14.2 1 14.5 1-7.4 1 7.6 1-.6 1 .3 1-17.4 1 14.6 1 21.1 1-10 1-14.3 1-6.3 1 20 1-12.1 1-21.4 1 15.3 1 24.8 1-40.3 1 20.4 1-10 1 7.9 1-4.4 1-5.8 1-20.3 1 27.8 1 2.8 1-2 1-11.1 1 5.3 1 33.6 1-39.7 1 9.5 1-10.8 1 12.3 1 5.7 1 11.6 1-11.6 1-2.4 1 4.4 1 2.7 1-7 1 .4 1 14.9 1-22.9 1 7.6 1-9.8 1 4.8 1 23.9 1-26 1 14.4 1 18.9 1-18.8 1-8.3 1-7.4 1-21.2 1 18.7 1 .2 1 22 1-3.3 1-24 1 22.5 1-15.2 1 28.9 1-4.4 1-9.9 1-12.9 1 25.4 1-10.8 1 3.1 1-7.5 1-9.7 1 12.3 1-19.4 1 18.9 1-7.5 1-22 1 25.1 1-6.6 1-4.2 1 3.4 1 10.1 1-22.8 1 .6 1 21.3 1-6.6 1-22.7 1 21.8 1-21.6 1 28.4 1-4.9 1 2.5 1-23.9 1 8.8 1 19.5 1-26.7 1 22.8 1-8.6 1 4.4 1-11.4 1 17.1 1-2.2 1 5.6 1 19.5 1-31.7 1 3.7 1-13.1 1 33.4 1-24.6 1 13.6 1-22.4 1 10.8 1 10.4 1-1.2 1-8.8 1 14.2 1-9 1 11.4 1-15.2 1 10.8 1-13.1 1 20.8 1-14.9 1 .7 1-7.4 1 18.8 1-10.1 1-4.6 1 18.3 1-24.8 1 20.6 1 6 1-38.4 1 30.9 1-4.3 1-4.4 1 1.7 1-18.9 1 20.1 1-3.4 1-20.4 1 15.1 1-12.2 1 15.2 1-11.8 1 11.7 1-18.3 1 10.4 1 1.4 1 2.3 1 16 1 12.3 1-43.6 1 27.9 1-13 1 0 1 0 1 2 1 1 1 11.1 1 5.5 1-10.6 1-3.3 1 6.4 1-1.7 1 16.8 1-32.2 1-5 1 13.3 1 6.9 1-6 1 5.3 1-32.8 1 21.3 1 1.3 1-7.9 1 8.6 1 4.4 1 7.2 1-15.3 1-8.6 1 24 1 17.7 1-20.7 1-.4 1-13 1 13.9 1 15.9 1-41.3 1 34.5 1-34.5 1 39.9 1-7.8 1-13.2 1 6.8 1 16 1-31.8 1 26.1 1-6.9 1-6.9 1 16.8 1-36 1 17.6 1-12.5 1 13.3 1 6.8 1-24.9 1 21.9 1 .1 1-10.1 1 6 1 13.7 1-8.9 1 15.4 1-31 1-2.2 1 28.6 1-29.3 1 29.9 1-14.1 1 8.2 1-11.5 1 16.3 1 3.7 1-1.2 1-8.1 1-20.7 1 26.8 1-9.8 1 14.4 1-32.6 1 22.9 1-10.1 1 4.9 1 10.7 1-.4 1 7.1 1-10.9 1 1.1 1-2.5 1-16.9 1 25.8 1-21.9 1 3.6 1 11 1-12.9 1 2.5 1-23.5 1 18.6 1-2.9 1 5.5 1 13.4 1-9.5 1 1.5 1 2.8 1 10.4 1 .7 1-7.6 1-7.8 1 13 1-13.7 1 1.2 1 5.5 1-9.2 1-7.1 1-1.7 1 10.6 1 6 1 4.8 1-16.4 1 11.4 1-2.2 1-5.4 1 34 1-37.4 1-1.2 1 11.1 1 16.2 1-21.9 1 19.5 1-26.9 1 7 1 2.4 1-.8 1 3.5 1-1.7 1-1.2 1-9 1 17 1-5 1 2.3 1 10.7 1-7.7 1-3 1 13.4 1-21.1 1-12.8 1 11.2 1-7.4 1 11.1 1 .2 1 1.9 1 3.9 1 4 1-2.2 1-3.1 1-5.1 1-2.1 1 5.4 1-2.7 1-9.2 1 7.5 1 12.6 1-7.1 1-9.9 1 12.1 1 4.5 1-18.9 1 30.7 1-5.7 1-14.4 1 14.3 1-9.5 1 4.2 1-16.9 1 4.3 1 2.8 1 1.3 1-4.4 1-12.5 1 5.1 1 16.8 1-9.6 1 22.7 1-3.9 1-18 1 4.4 1-23 1 27.6 1 4 1-21.2 1-.6 1 1.8 1 13.9 1 3 1-22.8 1 6.2 1 9.6 1-3.9 1-6.1 1 8.6 1-16 1-6.8 1 22.9 1 1.1 1 6.1 1-18 1-6 1 9.9 1-1.8 1 1.6 1-1.6 1 15.6 1-11.2 1 11.5 1-22.4 1-3.2 1 21.5 1-23.3 1 1 1 .5 1-7.6 1 25.8 1 13.8 1-11.9 1 3.4 1-12.6 1-6.4 1 16.9 1-18.2 1-3.7 1 7.8 1 21.5 1-7.1 1-6.5 1-8.9 1 1.8 1 14.5 1-4.3 1-7.3 1 21.4 1-19.6 1-10.4 1 15.3 1 14.9 1-3.8 1 2.7 1-19.1 1 14.1 1-3.3 1-4 1-9.9 1 26.6 1-12.4 1-7.1 1 14.5 1 20.1 1-44.7 1 19.7 1 17.5 1 .4 1-31.8 1 5.7 1-16.7 1 22.5 1-16.9 1 5.5 1 27.8 1-29.1 1-6.2 1 20.4 1 2.4 1 .5 1 10.9 1-20.7 1 6.5 1 8.9 1-11.7 1 20.5 1-4.6 1-10.5 1-2.3 1 2.5 1 3.1 1-25.9 1 7.5 1 5.4 1-.9 1 2.1 1 .1 1 7.4 1-4.9 1 7.2 1-.5 1-4.6 1-4.5 1-4 1 16.7 1-14.3 1 7.2 1 6.2 1-7.1 1-20.7 1 8.9 1 30.3 1-40.9 1 32 1-26.8 1 13 1 10.7 1-23.7 1 22.3 1-36.5 1 22.9 1-5.7 1 11.6 1 4 1 4.4 1-.6 1-17.7 1-5.7 1 15 1-11.1 1-17.9 1-.9 1 19.6 1 0 1 5.4 1 1.2 1-20.4 1 21.4 1-16.4 1 17.8 1-5.2 1 18 1-13.7 1-10.3 1 3.3 1 3.3 1 5.9 1 2.3 1-18.6 1-1.6 1 20.1 1-8.3 1 12.1 1-6.6 1 13.8 1-11.9 1-21.1 1 9 1 11.1 1-18.2 1 12 1 7.5 1 5 1-2.7 1-26.9 1 30.3 1-23.3 1 10.9 1-10.2 1 19.9 1-11.3 1 3.4 1 2.1 1-5.8 1-6.4 1 23.2 1-9.5 1 2 1-28.6 1-2.9 1 41.1 1-10.8 1-28.1 1 24.5 1-3.8 1-12.1 1 6.2 1 25.3 1-28.5 1 13.6 1-14.4 1-7.9 1 44.6 1-19.4 1-12.7 1 1.6 1 1.4 1-8.4 1 17.2 1 2.5 1-11.3 1 4.6 1-13.5 1 18 1-24.5 1 21.6 1 18 1-19 1 34.2 1-42.2 1 10 1 3 1 11.1 1 3.6 1-11.2 1-18.6 1 33.3 1-8.5 1 1.9 1-26.7 1 23.2 1-7.2 1 12.7 1 8.6 1-29 1 8.2 1 1.4 1-9.2 1 14.6 1-.6 1-15.8 1 0 1 12.3 1-23 1 23.1 1 5.8 1-.3 1-20.2 1 30 1 3 1-35.7 1 31.5 1-4.8 1-4.8 1-18.5 1 19.6 1-23.7 1 12.8 1 8.5 1-3.4 1-8.8 1 7.2 1-5.6 1 4.5 1-11.7 1-4.5 1 6.8 1-7.6 1 26.1 1 16.1 1-21 1 5.3 1-24.6 1 10.1 1-10.9 1 19.5 1-5.9 1-12.4 1 26.6 1-16 1 8.9 1 1.1 1 5.8 1-1.7 1-14 1-3.1 1-4.9 1-4.8 1 30.5 1-25.9 1 21.3 1-25.4 1 1.3 1 18 1-13 1-7.4 1 26 1-32.2 1 4.7 1 15.9 1 8.6 1-17.1 1-9.5 1 33.1 1-24.8 1-7.5 1 7.8 1 11.2 1-44.2 1 18.9 1 19 1-2.4 1-5.7 1-2.6 1 7.7 1 5 1-18.3 1 1.2 1 12.7 1-12.4 1-11 1 12.1 1-10.4 1 18.7 1 2.7 1-16.7 1 5.5 1 5.2 1 9.8 1-2.6 1-8 1 1.1 1 11.1 1-7.5 1-1.3 1-17.3 1 14 1 2.9 1-3.8 1-12 1-8.3 1 26.5 1 .4 1-5.3 1-11 1 4.8 1 4.4 1 9.1 1-6.8 1-9.8 1 3.5 1-7.1 1 32.8 1-27.4 1 23.8 1-12.4 1 17.1 1-31.5 1 20 1-17.8 1 .4 1 1.7 1-6.4 1 4.7 1 6.9 1 20.9 1-22.8 1-11.9 1 23.5 1 8.3 1-43.1 1 33 1-20.6 1-5 1 27.2 1 8.9 1 4.1 1-19.9 1-4.5 1 5.9 1 4.5 1 3.2 1 5.1 1-10.6 1 1.8 1-4.1 1-11 1 12.9 1 11.2 1-8.1 1-32.2 1 40.3 1-26.6 1 34.4 1-1.8 1-16.2 1 12.7 1-29.8 1 6.6 1-5.7 1 11.4 1-3.5 1 1.8 1-1.5 1 15 1-16.5 1-5.1 1 5.8 1 3.9 1-.6 1-16.5 1 5.6 1 1.8 1-7.1 1-7.8 1 10.6 1-22.7 1 25.8 1-11.3 1 10.4 1 1.9 1 22.6 1 .8 1 2.7 1-24.1 1-6.7 1 14.8 1-21.3 1 10.3 1-7.8 1 7.8 1 8.8 1-20.8 1 14.8 1-1 1 .1 1 2.8 1-10.1 1 3.2 1-3.3 1-13.6 1 33.8 1-9.1 1-.6 1-15.1 1-12.6 1 22.3 1-13.4 1 29.9 1-.9 1-25.7 1 20.6 1-7.3 1-9.3 1-17.1 1 24 1 2.8 1 0 1-16.5 1 6.1 1-.2 1-.6 1-7.7 1 18.6 1-6.2 1-11.3 1 8.7 1 5.6 1-7.7 1-.9 1 4.6 1-17.8 1 15.6 1-15.8 1 9.1 1 10.9 1-19.5 1 17.4 1-6.2 1 7.3 1-32.7 1-27.7 1 32.6 1 33.3 1-20.5 1-6.8 1 2.6 1 4.3 1-7.5 1 27.3 1-25.1 1-16.7 1-.1 1 12.6 1 .9 1 9 1 1 1 .6 1-23.2 1 16 1-12.2 1 9.2 1-13.7 1 26.5 1 1 1-11.7 1-14.4 1 22.7 1-8.3 1-18.3 1 22.8 1 2.9 1-4 1-25.1 1 28.2 1 3.4 1-17.1 1 19.4 1-5.9 1 5.6 1-29.9 1 16.6 1 9.2 1-21.8 1 18.6 1 18.4 1-36.3 1 33.6 1-5.4 1-19.8 1 1.2 1-.6 1 13.7 1-29.7 1 34 1-24.7 1 13.1 1-.8 1 13.5 1-19.9 1 1.8 1 22.6 1 5 1-19.5 1-3.7 1 6.6 1-2.7 1-1.4 1-12.3 1-15 1 26.4 1-5 1 11.7 1-2.1 1 4.4 1-25.6 1 13.3 1-22.3 1 17.9 1 4.2 1-12.1 1 9.2 1 31.2 1-35.2 1 23.6 1-14.1 1 16.2 1-37.8 1 16.1 1 13.8 1 23.6 1-18.9 1-10.2 1 11.1 1 15.9 1-24.3 1 20.3 1-.8 1-.4 1 11.2 1-11.3 1 16.9 1 2.3 1 14.1 1-14.4 1-3.3 1-10.6 1 7.5 1-7.7 1 31.3 1-41.2 1 31.8 1 1.1 1 2.7 1-12.1 1 30.4 1-28.5 1-14.2 1 10.7 1-.9 1 23.3 1-15.3 1-10 1-.1 1 8.8 1-3.7 1 4 1 12.4 1-27.3 1 8 1 10.1 1-19.7 1 24 1 8.2 1-14.2 1 7.8 1-13.2 1 4 1 2.8 1-3.7 1 14.2 1-19.2 1 15.4 1-15.3 1 22.8 1-2.4 1-11.7 1-19.9 1 5.5 1-20.5 1 39.4 1-15 1-3.3 1 8.6 1-16.9 1 11 1 7.3 1 9 1 14.5 1-34.7 1 19.7 1-17.6 1-5 1 15.9 1-4.9 1-16.8 1 16.8 1 22.8 1-31.1 1-.1 1 22.8 1-11.3 1-11.5 1 13.9 1-11.6 1-3.1 1 13.1 1-14.8 1 18.7 1 9 1-25.9 1-.6 1-.7 1 7.6 1-8.9 1 9.7 1 7.7 1-21.7 1 14.7 1 10.3 1-3.8 1-20.1 1 24.5 1-25.6 1 22.2 1-29.8 1 24.8 1-10.6 1-.6 1-.9 1-6.8 1 16 1-3.5 1 7.4 1-18.8 1 17.5 1 3.1 1-21.7 1 24.2 1 3.2 1-30.8 1 2.9 1 38.2 1-23.8 1-5.4 1-9 1 17.9 1-12.6 1 9.5 1-2.3 1 2.9 1 2 1-10.7 1 8.2 1 1.4 1-9.8 1-5.3 1 10.8 1 14.4 1-19.8 1-3.4 1 8.5 1-8.8 1 5.9 1-1.5 1-6.1 1 10 1-13.5 1 1 1-10.6 1 9.7 1 10.8 1 10.3 1 20.3 1-34.7 1-3.7 1 26.2 1-37.2 1 25.4 1-6.4 1 14.5 1-19.9 1 4 1-20.4 1 11.7 1 6.2 1-5.7 1-1.7 1 19.1 1-27.3 1-2.2 1 1.9 1 7.8 1-2.5 1 6.7 1-4.4 1 26.1 1-26.2 1 5.7 1 7.8 1 18.4 1-26.2 1-4.1 1 16 1-14.9 1-12.3 1 0 1 11.2 1-10 1 25.2 1-7 1 12.6 1-15.3 1-6.1 1 10.1 1-.8 1-16.3 1 25.9 1-15.7 1 5.8 1-14.2 1 15 1 11.4 1-24.4 1-8.6 1 10.4 1-.8 1 4.2 1-22 1 23.7 1-7.8 1-6.3 1-9.4 1 12 1 6.7 1-6.6 1-1.3 1-4.8 1 .6 1-15.1 1 21.7 1-5.4 1-11.8 1 .6 1-12.4 1 1.9 1 6.9 1-9.9 1-5 1 2.6 1 2.8 1-12.4 1 5.3 1-2.8 1-3.4 1-4.3 1-5.7 1-5.4 1 .8 1-12 1 4.1 1-14.9 1-.7 1-3.2 1-13.5 1 3.8 1-3.4 1-14.5 1-2.5 1-2.2 1-6.4 1-5.5 1-17 1-1.3 1-1.2 1-17.8 1-6.2 1-2.7 1-7.2 1-12.8 1-5.6 1-4 1-6.5 1-.4 1-11 1-10.1 1-8.3 1-4.1 1 .6 1-18.7 1-8.8 1-7.8 1-1.4 1-10.5 1-8.6 1-.8 1-4.9 1 2.6 1-1.5 1-11.6 1-3.1 1 3.7 1-6.2 1-2.9 1 4.1 1-7.4 1 6.7 1 6.7 1-12.8 1 9.6 1-.2 1 9.1 1 2.3 1-3.3 1 7.2 1 2 1 12.8 1-2.1 1 9 1 10.2 1 .9 1 4.2 1 6.5 1 7.5 1 10.5 1 6.8 1 10.3 1 5.4 1 12.5 1 5.8 1 10.1 1-.6 1 4.9 1 17.4 1 3.5 1-2.8 1 13 1 11 1 9.9 1 11.2 1 1.6 1 2.9 1 3.3 1 4.4 1 6.5 1 4 1 9.7 1 9.7 1 3 1-1 1 11.5 1 6.4 1-.6 1 3.9 1 5.1 1 5.9 1-7.2 1 8.3 1 .9 1 10.4 1 5.9 1-3.1 1 12.9 1-2.5 1 3.3 1 1.3 1-6.6 1 23.5 1-9 1-12.4 1 19.6 1 4.3 1-16.1 1 13.1 1 14.2 1-7.2 1-2.3 1 .6 1 4.8 1-11.9 1 6.1 1 7.6 1-2 1 13.4 1-28.9 1 37.5 1-23.7 1-1.3 1 6.4 1 11.4 1-12 1 16.1 1-1.3 1-10.3 1-1.7 1 .4 1 4.5 1-16.3 1 28.6 1-12.9 1 2.2 1-8.9 1 .5 1 22.1 1-34.7 1 22.2 1-10.3 1-9.2 1 24.4 1-16.3 1 16.2 1-11 1-18.6 1 21 1-11.5 1 9.7 1-1.1 1 7.8 1-3.8 1-4.2 1-3.6 1-9.1 1-7 1 24.2 1-15.5 1 7.6 1 12.2 1 1.9 1 0 1-7.4 1 2.7 1-.5 1-1.7 1-15.8 1 15.7 1 6.7 1-10.6 1 1.7 1-27.9 1 15.4 1 36.7 1-36.8 1 17.1 1 7.1 1-2.7 1-8.7 1-2.5 1-13.5 1 32.4 1-17.6 1 11.6 1-29.7 1-4.2 1-.5 1 30.3 1-12.1 1 .2 1 5.8 1-2 1 .6 1-9.4 1-3.3 1 12.4 1 9.6 1-17.4 1 7.5 1-4.9 1 9.1 1-18.1 1 34.1 1-1.1 1-18.3 1-2.3 1-17.2 1 29.2 1-8 1 .8 1-19.7 1 26.2 1 12.9 1-32 1 9.9 1 16.7 1-5.4 1 .8 1 27.2 1-18.1 1-13.1 1-32.7 1 29.7 1-12.6 1 1.4 1 28.9 1-25.8 1 10.9 1 17.9 1-23.3 1 2.5 1-6.8 1 8.2 1-12.4 1 20.8 1-10.1 1 13.1 1 2.1 1-7.5 1 2.4 1-5.7 1 10.4 1 4.5 1-5.1 1 10.7 1-13 1-2.7 1 6.1 1-23.4 1 12.1 1-17.5 1 25.6 1 7.6 1-25.1 1 6.3 1 1.4 1 19.7 1-9 1 10.4 1-7.4 1 .2 1-29.3 1-2.1 1 38 1 11.6 1-40.3 1 1.2 1 25.8 1 10.1 1-36.5 1 5.1 1 18.4 1-7.2 1-.2 1 5.6 1-22.9 1 2.6 1 27.6 1-36.4 1 28.3 1-15.5 1 21.1 1-16.6 1-1.2 1 15.4 1-12.9 1 .1 1-26.9 1 33.8 1-8 1 14.2 1-16.4 1-7.9 1 28.7 1-14.9 1-2.4 1-12.4 1 32.5 1-5.1 1-21.9 1 20.5 1-2.2 1 8.3 1-13.5 1 25.1 1-47.6 1 4.6 1 26.8 1 2.8 1-5.2 1 23 1-23.2 1-22.8 1 37.3 1-16.9 1-5.3 1 11.5 1-.3 1-11.5 1 14.2 1-4.9 1-6.7 1 .3 1-23 1 13.3 1 .4 1 4.3 1 21.4 1-17.6 1-5.1 1-11.3 1 9.3 1-6 1-1.1 1 11.5 1-19.5 1 10.5 1 19.5 1-10.1 1-11.6 1 4.1 1-2.3 1 22.9 1-.8 1 4.8 1-23.7 1 3 1 11.1 1-22.7 1 6.7 1 18.2 1-17.9 1-2.9 1 15.6 1-8.5 1-4.1 1 8.8 1-21.4 1 28.6 1-6.1 1 2.1 1-1.6 1 5.6 1-28.2 1 20.9 1 16 1-25 1-2 1 1.6 1-8.9 1 46.5 1-33.4 1 11.4 1-20.4 1 2.8 1-2.9 1-6.9 1 11.7 1 19.2 1-21.6 1 20 1 11.7 1-17.3 1 9 1 2 1-21.5 1 1.8 1-14.8 1 15.5 1 19.5 1-10.1 1-4.7 1-3.1 1-4 1 5.3 1 32.2 1-11.5 1-10.9 1-5.6 1-4.9 1 20.4 1-17.1 1 1.6 1 1.1 1 19.4 1-13.3 1 17.3 1-27.5 1-.3 1-5 1 15.3 1-15.3 1 7.2 1 22 1-9.6 1-10 1 .5 1-36.1 1 11.2 1 32.7 1-20.7 1 2.3 1 19.1 1-25.4 1 16.7 1-5.3 1 5.4 1-2.9 1 20.9 1-11.9 1 9.8 1-26.5 1 6.7 1 5.1 1 15.5 1-9.1 1-12.5 1-13.8 1 14.7 1-14.1 1 .9 1 4.5 1 1.9 1-2.7 1 20.9 1-14.8 1-10.9 1 12.1 1-18.8 1 22.3 1 2.6 1 .6 1-20.5 1 23.8 1-1.4 1 11.2 1-14.6 1-6.7 1-2.9 1-5.5 1-3.4 1 2.5 1 19.4 1-14.3 1 2.1 1-5.7 1 9.7 1 5 1-1.6 1-21.4 1 10.6 1 27 1-20.5 1-5.2 1-6.2 1-11.2 1-4.8 1 17 1 4.2 1-10.6 1 8.1 1 7.9 1-.5 1 7 1-30.2 1 19.9 1 4.3 1-4.9 1-15.9 1-3.5 1 38 1-25.9 1 10.4 1-10 1-1.6 1 14.3 1 6.1 1-10.6 1-2 1 13.5 1-11.8 1 .1 1-3.2 1 9.2 1-4.1 1-.4 1-1.1 1 6 1 11.4 1-14.7 1-8.2 1 34.5 1-13.2 1-17 1-14.2 1 33.1 1-22.6 1 8 1-29.7 1 37.9 1 4.4 1-15.3 1-1.2 1 1.6 1-13.6 1 .5 1 24.7 1-15.8 1 3.2 1-1.4 1 10.3 1-10.1 1 6.7 1 1.7 1-14.6 1 4.6 1 6.3 1 5.5 1-6.1 1 .7 1-16.8 1 5.8 1 9.6 1-7.6 1 2.1 1 1.6 1 16.5 1-27.8 1 20.2 1-2.1 1-5 1-11.1 1 8.2 1-5.9 1 14.8 1-9.3 1 1.3 1-11.4 1 23.3 1-36 1 48.4 1-38.2 1 3.9 1 1.3 1-11.6 1 27.4 1-20 1-2.3 1 21.6 1-5.7 1-25.9 1 3.4 1 15.1 1 2.1 1 5.6 1-8.5 1 15.6 1-1.6 1-7.4 1-4.2 1 12.3 1 3 1-12.6 1-3.9 1 9.2 1-14.4 1 9.7 1 4.5 1-21.1 1 3.6 1-13.2 1 15.1 1 11.7 1-10.8 1 10.5 1-5 1-9.3 1 23.8 1-17 1 12.8 1-6.6 1-5.5 1 19.7 1-23.7 1-3 1 21.1 1-10.7 1-13 1 3.8 1-10.8 1 20.2 1 5.9 1-7.5 1 1.7 1 5.9 1-13.2 1-10.9 1 0 1 11.2 1-2.2 1-.7 1-15.8 1 12 1 15.8 1-15.7 1 12.5 1-10.2 1-6.4 1 16 1 5.9 1-11 1 6.9 1-18.3 1-7 1-7.3 1 21 1 16.8 1-21.9 1-8.9 1 17.3 1 0 1 .2 1-10 1 29.1 1-23.1 1 5.1 1-14.1 1 24.5 1 14 1-6.5 1-24.2 1 22.5 1-19.7 1 10.4 1-.7 1 13.7 1-1.7 1-8.4 1 2.9 1 18.3 1-31.8 1 11.2 1 30.7 1-21.2 1-11.2 1 17.8 1 5.1 1-20.5 1 10.1 1-4.1 1 15.4 1-4.6 1-9.3 1 17.2 1-15.1 1 29 1-9 1-17.2 1 6.1 1 10.5 1-7.1 1-17.8 1 5.6 1 0 1 2.1 1-17.1 1 27.6 1 30.1 1-36.6 1-.4 1-4.3 1 8.3 1-13.7 1 3 1 9 1-31.7 1 18.1 1 25.5 1-10 1-7.8 1 .9 1-31.4 1 35.6 1-11.9 1 17.7 1-10 1 3 1-24.8 1-1.5 1 40.3 1-25.6 1-2.4 1 20.5 1-9 1 .3 1 12.2 1-16.5 1-6.2 1-2.8 1-19.2 1 22.4 1-.4 1-5.6 1 34.6 1-38.1 1 5.8 1-1.8 1 1.3 1 13.2 1-12.4 1 11.5 1 22.3 1-32.5 1-3.1 1 1.5 1 20.7 1-9.7 1-.3 1-8.1 1-1.8 1 27.7 1-2.3 1-29.2 1-.7 1 4.5 1 .1 1 16.1 1 6 1-17 1-9.6 1 21.3 1 6 1-34.2 1 20.4 1-14.2 1-.1 1 .5 1 26.4 1-11.9 1-12 1 7.3 1 5.1 1-21 1 24.1 1-19 1 2.7 1 27.5 1-56 1 50.1 1 .6 1-15.8 1 16.5 1-11 1-8.8 1 11.6 1-10.4 1 2.2 1-6.5 1 41.8 1-18.5 1-15 1-15 1 6.1 1 1 1-3.7 1 10.6 1 .5 1 20.8 1-2.7 1-33.3 1 32.8 1-28.6 1 24 1-10.2 1-1.6 1 3.2 1-11.5 1-6.1 1 35.9 1-38.8 1 26.3 1-19.4 1 16.1 1-5.4 1 2.5 1-11 1 13.8 1 17.7 1-12.2 1 6.6 1-21.5 1 2.7 1 13.7 1-28.1 1 31 1-12.5 1-2 1 20.4 1-27.3 1 26.9 1-30.7 1-1 1 26 1 1.7 1-30.1 1 18.1 1 21.9 1-22.9 1-15.4 1 10.7 1 3.8 1-2.4 1-11.2 1 5.6 1 11.5 1 2.8 1-8.9 1 6 1-3.2 1-20.4 1 35.8 1-2.2 1-15.8 1-2.8 1 2.4 1 .7 1 7.1 1 1.7 1-14.9 1-8.9 1-.9 1 31.2 1-21.6 1-11.9 1-13.4 1 33.7 1-8.7 1 .7 1-14.4 1 6.2 1-1.7 1 8.3 1 21.5 1-29.3 1-7.5 1 24.5 1-1.4 1-15.6 1 6.5 1-10.7 1 31 1-16.7 1-23.7 1 28.5 1 .8 1-29.2 1 17 1-.5 1-19.2 1-2.7 1 54.9 1-46.8 1 19.3 1 1.6 1 3.7 1-1.7 1-9.7 1-11.2 1-5.2 1 20.2 1-16.7 1 22.3 1-14.1 1 17 1-34.1 1 39.4 1-24.5 1 9.7 1-21.7 1 23.9 1-5.3 1 10.6 1-5.3 1 16.7 1-43.2 1 13.3 1-10.6 1 14.6 1 12.5 1-.1 1-18.5 1-10.3 1 17.4 1 7.4 1-24.4 1 18.1 1-10.1 1 14.2 1-12.9 1 20.5 1-18.9 1 7.9 1 35.9 1-85.1 1 44.6 1 1.6 1 6.4 1 .7 1-3.1 1-9.8 1 5.3 1 8 1-23.6 1 28.1 1-12.7 1 14.8 1-18.6 1 9 1-8.3 1 12.1 1 1.7 1-18.8 1 12.4 1-9.9 1 7.2 1-12.8 1-1 1 7.7 1 3 1-8.6 1 .6 1-9.9 1 11 1-11.2 1-10 1 19.4 1-25.8 1 18 1-11 1-.4 1 9.8 1-22.9 1-5.5 1-5 1 5 1 3.3 1-11 1-2.5 1-2.5 1-5.8 1-1.9 1-10.2 1-7.7 1 1.5 1-3.5 1 2.9 1-7.7 1-10.1 1 5.4 1-6.1 1-10.8 1 6.7 1-12.1 1-8.2 1-2.6 1-.2 1-6.3 1-10.5 1 7.4 1-11.5 1-6.7 1-1.7 1-2.2 1 2.3 1-4.5 1-16.9 1 2.9 1-1.6 1-2 1 .2 1-3.6 1-9.5 1 9.7 1-5.7 1-12.1 1 10.8 1-4.1 1-7.5 1 5.9 1 2.1 1-1.5 1-3.4 1 3.3 1 .7 1 .7 1 5.9 1-4.2 1 7.1 1 3.7 1 4.7 1 1.1 1-.3 1 2.9 1 2.8 1 13.1 1-4.9 1 2.4 1 6.1 1 9.3 1 5 1-5.9 1 15.5 1-.2 1 12.3 1 3.6 1-4.3 1 3.4 1 4.5 1 7 1 7.7 1 4.6 1 4.8 1 5.4 1 .3 1 5.3 1 6 1 7.2 1-1.9 1 2 1 10.2 1 1.6 1 4.9 1 .2 1 6.5 1-2 1 .3 1 9.2 1-9 1 17.2 1 13.4 1-21.5 1 3.9 1 12.5 1-8.6 1 12.5 1-4.2 1-1.1 1 13.1 1-11.5 1 1.6 1-7 1 20 1-5.6 1-3.3 1 14.8 1-8.4 1 14.2 1-1.8 1-12.4 1-1.1 1 22.9 1-15.1 1-5.1 1 6.5 1-16.4 1 21.3 1-16.2 1 21.7 1-12.9 1 9.7 1 17.1 1-4.1 1-16.9 1 8.6 1-16.8 1 17.2 1 11.1 1-3.7 1 2.3 1-7.4 1-17.8 1 13.6 1-12.6 1 23.5 1-13.6 1-2.9 1-6.3 1 15 1 3.1 1-1.8 1-23.5 1 24.4 1-12.1 1-21.1 1 34.5 1-5.6 1-22 1 29.7 1-5 1 14.4 1-14.7 1-4.6 1-21.8 1 44.9 1-42.9 1 12.4 1 12.7 1-11.8 1-30.8 1 29.4 1-1.6 1 17.6 1-14 1 18.8 1-5.9 1 1.2 1-4.8 1 19.5 1-14.8 1-.6 1-12.3 1-4.5 1-11.8 1-7.7 1 9.1 1 24.1 1-18.8 1 6.4 1-3 1 5.4 1 5.8 1 13 1-34.2 1 40.5 1-27.8 1-6.4 1 3.3 1 20.5 1-7.7 1 7.9 1-21.7 1 22.2 1-18.5 1 7.6 1-14.3 1 4.2 1-3.2 1 18.6 1-1.7 1-48.8 1 40.8 1-.1 1-16.6 1 1.4 1 28.1 1-17.3 1 14.6 1-.5 1-40.2 1 47.7 1-32.9 1 10 1 5.3 1 7.5 1 .5 1-8.6 1 1.6 1 8 1 6.2 1-15.2 1 11.4 1-.6 1-13.3 1 4.2 1 2.4 1 30.1 1-23.9 1 6.4 1 .1 1-17.3 1 13.5 1-24.8 1 2.7 1 22 1-10.6 1 8.6 1 4.1 1 17.4 1-26.4 1 2.3 1-28 1 43.1 1-16.7 1-6.8 1 18.1 1-10.8 1-9.1 1-1.7 1 18.2 1 3.8 1-11.8 1-1.7 1 27.8 1-30.9 1-7.4 1 20.1 1-15.6 1-9.3 1 20.4 1-8.4 1 26.7 1-16.4 1 7.7 1 3.5 1-8.2 1 5.3 1-26.5 1 2.4 1 9.6 1 14.1 1-5.8 1 2.2 1 3.2 1-13.7 1-7 1-.7 1 27.5 1-37.7 1 3 1 21.4 1-17.1 1 19.3 1-16.9 1 9.1 1-10 1 17.4 1-1.7 1 14.3 1-10.7 1-.5 1-16.9 1 6.5 1-3.2 1-14 1 4 1 14.9 1 6.1 1 17.1 1-29.6 1-8.2 1 26.1 1-13 1-4.9 1 4.1 1-22.1 1 27.1 1 3.6 1-2.5 1-6.6 1 5 1 15.5 1-23.5 1 35.8 1-25 1 3.9 1 31.6 1-30.9 1-8 1 8 1-18.7 1 31.9 1-15 1-1.4 1-8.7 1 12.4 1 6.4 1-43.3 1 14.9 1 24.3 1-13.5 1 4.9 1-13.4 1 1.1 1 27.9 1-9.2 1 2.1 1-44.4 1 39.6 1 2.1 1 1.1 1-13.5 1 20.1 1 2.3 1-14 1-30.5 1 30.3 1 3.8 1 6.3 1-13.7 1 13.3 1-9.3 1 2.1 1-1 1 9.4 1 8.9 1-3.5 1-23 1 22 1-12.8 1 8.1 1-36.1 1 42.6 1-13.1 1 .5 1 5.9 1-15.4 1 3.5 1-20.7 1 36.7 1-10.9 1 9.1 1 3.2 1-11 1 14.1 1-33.9 1 21.8 1 8.9 1-14.1 1 9.8 1-7.4 1 16.2 1 1.7 1-21 1 2.6 1 8 1-6.5 1 6.3 1-4.7 1 4.4 1-15.9 1 16.3 1 8.2 1-26.4 1 18.9 1-2.2 1 4.3 1-32.3 1 22.8 1-3.3 1 12.1 1 1.7 1-43.2 1 24.4 1 12.6 1 1 1-.2 1-16.6 1 5.1 1 10.1 1 5.5 1-6.9 1-14.3 1-25.7 1 29.8 1 3.1 1 1.5 1 7.5 1 1.5 1 18.4 1-24.5 1 4.8 1 14.6 1-8.7 1-18.9 1 16.2 1-24.1 1 24 1 .8"/>
<path transform="translate(224.30 0) scale(0.64560 1)" vector-effect="non-scaling-stroke" fill="none" stroke="#0068e0" stroke-width="6" stroke-linejoin="round" stroke-linecap="round" d="M0 1007.3 l1-11 1 13.8 1-6.1 1-18.8 1 30.7 1-12.7 1 8.8 1 14.7 1-18.2 1-15.5 1 5 1 20.3 1-28.9 1 20.6 1 1.6 1-17.8 1 15.8 1 4.8 1-15.5 1 3.5 1 12.2 1-21.7 1 5 1 21.7 1-10.3 1-17.7 1 16.7 1 22.7 1-40.9 1 27.3 1-.8 1-11.3 1 9 1-15.4 1 25.9 1 1.8 1-31 1 7.5 1 3.8 1-9.3 1 11.1 1-16.7 1 18.7 1-10.8 1 2.6 1 5.8 1 5 1-22.9 1 20.6 1 .7 1-12 1 19.2 1-27.4 1 2.4 1 10.7 1-12.6 1 24.3 1-14.2 1 17.9 1-32.7 1 1.2 1 27 1-28 1 25.2 1-22 1 12.8 1 10.9 1-14.3 1-12.5 1 8 1 19.5 1-10.8 1 6.4 1-7 1 2.7 1-5.3 1-9.4 1 18.7 1-4 1-25.3 1 23.7 1 11.6 1 11.5 1-38.6 1 17.4 1 5.4 1 2.4 1-17.2 1 14.3 1-11 1 4.3 1-5.9 1 9.8 1-8.4 1 8 1-4.8 1 11.6 1 8.7 1-21.1 1-8.1 1 5.6 1-3.9 1-13.7 1 19.5 1-6.5 1 16 1-12.6 1 12.1 1-2.4 1-15.3 1 1.5 1-2.7 1 .5 1 14.6 1-16.2 1 .8 1-4.9 1 25.6 1-21.1 1 2.1 1-8.7 1 12.7 1-12.2 1 1.2 1-16.4 1 4.5 1 21.5 1 6.7 1-28.7 1 21.6 1 .3 1 33.7 1-47.5 1 4 1-4.4 1 22.3 1 2.8 1-15.2 1 21.3 1 7.2 1-30 1 12.3 1-8.5 1-4.9 1 2.3 1 2.9 1-12.1 1 14.4 1 10.7 1-20.4 1 5.2 1-4.5 1 15.3 1-5.6 1 12.2 1-14.7 1-13.7 1 23.8 1-10.3 1 16.8 1-5.3 1-39.8 1 7.4 1 23.3 1-9.7 1-18 1 19.7 1 21.1 1-8.2 1-18.4 1 13.4 1 8.1 1-14.5 1 22.7 1-29.7 1 32.9 1-7 1-12.3 1-3.7 1-2.4 1-11.5 1 22.5 1 3.4 1-5.7 1-5.8 1-1.9 1-12.1 1 3.6 1-9.1 1 23.1 1-15.9 1 20.9 1-17.3 1 25 1 2.2 1 .1 1-4.2 1-16.6 1 .3 1-4.6 1 13 1 16.3 1-32.3 1 41.7 1-35 1-6.9 1 18 1 8.8 1-16.8 1-7.8 1 32.7 1-33.6 1 24.6 1-10 1-6.3 1 4.9 1-13.6 1-.4 1 16.6 1-16 1 3 1 26.1 1 4 1-8.3 1-2.6 1-13.6 1 4 1-9.8 1-24.5 1 35.5 1 .3 1 9.1 1-25.7 1 27.8 1-19.9 1-8.1 1 11.7 1 14.1 1-11 1 5.6 1-15.5 1 16.2 1 6.2 1-21.9 1 15.6 1-20.7 1 18.7 1-20.1 1 22.6 1-4.7 1-12.9 1 17.6 1-15.6 1 12.8 1-11.5 1 17.3 1-12.7 1 23.8 1-11.3 1 1.3 1-21.8 1-8.6 1 15.5 1 31.1 1-32.1 1 25.9 1 .7 1-21.3 1 4.7 1 18.3 1-18.1 1-1.4 1-1.7 1 8 1-1.9 1 16.2 1-11.5 1 11.4 1-14.9 1 31 1-30.7 1-.2 1-7.5 1-10.4 1 9.8 1 12.8 1-14.1 1 21.4 1-29 1-.6 1 23.2 1 .7 1-18 1 25.8 1 3.3 1-12.3 1-19.8 1 29.5 1-18.5 1 .9 1 7.3 1-14.4 1 25.3 1-25.6 1 19.2 1-4.1 1 11.1 1-15.5 1 3.5 1-15.4 1 1.2 1-5 1 15.3 1-17.1 1 24.8 1-19.7 1-13.2 1 5.6 1 21 1-19.8 1 12.2 1-25.9 1 23.5 1 3.5 1-3.3 1 3.1 1-20.9 1-7.9 1 4 1 25.3 1-5.1 1 4.8 1-15.8 1 16.2 1-27.3 1 23.1 1-16.6 1 7.4 1 13.1 1 2.9 1-11.8 1-1.9 1 20.4 1-3.3 1-19.7 1 11.7 1-5.5 1 14.2 1-5.6 1 .1 1-3.6 1-7 1 19.5 1-7.7 1-31.6 1 22.9 1 7.9 1-11.6 1-1.9 1 3.6 1 11.7 1-15.1 1 15.5 1 11.7 1-4.7 1 .5 1-14 1 16.3 1-13.6 1 9.9 1-23.7 1 27.7 1-21.6 1 6.9 1 11.8 1-12.7 1-5.9 1 3.2 1 14.3 1-.3 1-5.6 1-15.7 1 2.2 1 11.9 1 .5 1-17.6 1-.4 1 15.8 1 4.2 1-12.3 1-15.4 1 32 1-18.6 1 4.6 1-31.1 1 16.3 1 5.8 1 5.6 1-14.5 1-7.9 1-1.5 1 14.5 1 7.7 1-.6 1-23.2 1 11.9 1 7.2 1 12.8 1-5 1-3.3 1-22.4 1 32.6 1-13.4 1 3.9 1-9.9 1 5.9 1-1.1 1-.3 1-5 1 18.7 1 3.3 1-16.2 1-2.8 1 .8 1 6.7 1 20.7 1-17.5 1 23.5 1-35.3 1 2.6 1 4.2 1-.3 1 14.5 1 17 1-28.2 1 13 1 12 1 12.9 1-25 1 9.4 1 4.4 1-14 1 5.8 1-10.4 1-5.9 1 3.6 1 20.5 1 2.3 1-12.5 1-17 1 28.6 1-14.2 1 17.4 1-16.2 1-14.6 1 10.1 1-4.5 1 26.3 1-45 1 19.5 1 3.2 1-20.1 1 28.7 1 2.2 1 2.7 1-.2 1-10.9 1 12.1 1-16.1 1 5.6 1 2.2 1-1.6 1 5.1 1-13.5 1 6.3 1-5.3 1 7.7 1 3 1-12.3 1 25.8 1 5.9 1-16 1-5.2 1-8.2 1 5.5 1-.4 1 10.7 1-8 1 8.4 1-1.5 1-12.1 1-9.8 1 1.8 1 1.3 1 12 1 14 1-24.6 1 18.2 1-9.8 1 16.5 1 11.2 1-14.1 1-8.8 1 1.6 1 8.9 1-19.1 1-6.2 1 10.4 1 16.2 1-27.6 1 20.5 1-3.5 1-13.5 1-7.4 1-10.5 1 4.7 1 14.7 1 5.9 1-16.7 1-.1 1-3.1 1 36.7 1-45 1-1.9 1 29 1-25.7 1 24 1-21.8 1 21.3 1 3.7 1-21.7 1 4.8 1-11.5 1 21.7 1-14.1 1-7.4 1 16.2 1-.8 1-4.8 1-4.4 1 16.4 1-18.7 1-2.3 1 7.5 1 9.2 1-10.3 1-2.5 1-4.3 1 3 1 1.9 1 31.5 1-43.9 1 16 1 6.5 1-10.6 1-3.2 1 20.9 1 10.1 1-2.8 1-12.3 1-4.9 1 13.4 1-26.7 1 10 1 27.5 1-11.8 1-2.7 1-3.7 1-1.9 1-5.1 1 17.1 1-.5 1 .5 1-34.6 1 44.1 1-4.7 1 8.6 1-24.9 1-18.8 1 10.4 1 5.1 1 34.3 1-32.5 1 3.5 1 17.3 1-1.2 1 .9 1-16.9 1 27.5 1-17.3 1-14.8 1 14.7 1-21.5 1 1.9 1 6.5 1-6 1 8 1-2 1 2 1-4.8 1 23.3 1-25 1 5.4 1-4.6 1 3.7 1-8.4 1 40.1 1-28.1 1 12.9 1-14 1-11 1 9.4 1-1.9 1-6.4 1 16 1 17.9 1-16.6 1 10.3 1 3.2 1-37.8 1 45.5 1-37.6 1 37.5 1-18.8 1 4.9 1 19.3 1-13.4 1-31 1-2 1 7.4 1 26.2 1-7.9 1 7.1 1-5.4 1 9.5 1-26.5 1-9.4 1 13.8 1 17.6 1-21.5 1-15.7 1 21.1 1 14.5 1-3.3 1-9.1 1-2.2 1-19 1 24.2 1 22.3 1-28.5 1 24.8 1-34.1 1 9.3 1-1.1 1 5 1-21.3 1 34.8 1-18.3 1-22 1 32.7 1-6.2 1-17 1 13.4 1 10.8 1-1.5 1-4.3 1-12 1 11.2 1 11.7 1 10.5 1-18.2 1 2.1 1 1.8 1-14.5 1-17.8 1 13.8 1 4.1 1 4.6 1-3.2 1-9.2 1 1.7 1 3.1 1-8 1 .1 1-10.8 1 15.6 1 5.2 1-9.3 1 4.3 1 4 1-14.1 1 5.2 1-3.2 1 16.1 1-18.5 1 13.5 1-24.1 1 44.5 1-13.9 1-15.8 1 9.1 1 23.3 1-20.9 1-18.3 1 17.3 1-5 1 12 1-3.6 1-20.6 1 22.2 1 8.9 1 5.5 1-12.1 1 18.2 1-4.6 1-7.7 1 9.4 1-47.7 1 44.6 1 2.6 1-18.2 1 11 1-17.3 1 5.9 1-.1 1-10.2 1 9.8 1-18.3 1 19.1 1 21.7 1 2.3 1-22.6 1 20.7 1-15.7 1-19.9 1 7.6 1 6.5 1 .4 1 7.8 1-16.1 1 3.3 1 17.1 1-10.7 1 3.2 1-5.6 1 8.9 1 .6 1-18 1 22.5 1-21.1 1 11.7 1-7.7 1 11.4 1-4.5 1 3.4 1-5.1 1-3 1 3.8 1-2.6 1-9.6 1-8.6 1 24.6 1 8.9 1-26.5 1 17.3 1-13.1 1 9.4 1 8.2 1-6.1 1-7.1 1-20 1 20.4 1 2.1 1 14.8 1-22.7 1 7 1 3.5 1 12.5 1-28.7 1 23.6 1-10.8 1-6.8 1-8.1 1 4.7 1 21 1-15.8 1-5.1 1 6.3 1 20.4 1-4.1 1-2 1 1.8 1-2.4 1-14 1-8.1 1 27.4 1-15.9 1 2.9 1-7 1 11.4 1 9.9 1-20.5 1 6.5 1-.9 1 7 1-7.7 1 .6 1-7.3 1 7.5 1-8.8 1 17.2 1-10.2 1 21 1-27.3 1-4 1 22.7 1-3.2 1-23.5 1 46.5 1-32.6 1 15 1-17.8 1 12.5 1 4.7 1-18.8 1 9.6 1 5.8 1 13.6 1-12.6 1 4.6 1-9.8 1 1.1 1-1.9 1-9.2 1-19.3 1 1.4 1 23.4 1 1.3 1-5.1 1-7.9 1 .7 1-9.1 1 28.4 1-33.5 1 38.6 1-24.3 1 34.9 1-24.1 1-9.3 1 5.3 1-6.9 1 23.6 1-17.9 1 3.3 1-12.8 1 17.5 1-24 1 10 1 22.9 1-38.5 1 28.2 1 10.8 1-11.8 1 16.3 1-1.9 1-8.4 1-23.9 1 13.7 1 2.3 1 16.1 1-12.2 1-1.9 1-11.2 1 13.2 1 5.5 1-30.8 1 28.3 1 5.6 1-7.2 1 1.8 1-4.6 1 17.4 1-16.6 1 20.6 1-9.5 1-26.4 1 19 1 6.9 1 6.5 1-8.4 1-3 1 10.9 1 9 1-39.8 1 13.4 1 26.8 1-16.6 1-15.2 1 31.1 1 2.7 1-26.1 1 11 1-9 1 3.6 1 6.8 1-15.1 1 1.7 1-3.2 1-17 1 24.9 1 3.9 1-8.4 1-1.9 1 8.5 1-18.1 1-4.6 1 17.2 1-3.9 1 18.2 1-37.4 1 15.7 1-14.2 1 38.9 1-29.9 1 13.5 1-35.3 1 14.5 1 20 1-14 1-2.6 1 15 1-6.8 1 0 1 1.5 1-8.8 1 23.5 1-6.1 1-13.5 1-2.8 1-17.3 1 8.4 1 28.6 1-29.3 1 9 1 24.4 1-6.9 1-8.4 1 .8 1-8.4 1 6 1-1.5 1 15.1 1-6.3 1-17.3 1 25.2 1-6.4 1 3.4 1 1.9 1-5.2 1-6.5 1 13.1 1-1.3 1-16.1 1 1.2 1 5.3 1 3.3 1-6.3 1-15.3 1 30.1 1-21.3 1-5.3 1 3.8 1 10.8 1-3.1 1-24 1 9 1-.3 1 9.9 1 10.4 1-8.8 1 30.5 1-12.4 1 7 1-8.2 1-22.8 1 20.4 1-22.5 1 5.6 1 14.3 1-1.9 1 6.8 1-10.1 1 15.5 1-3.1 1-5.3 1-12.5 1 1.5 1 19.1 1 21.1 1-38.8 1 7.3 1-12.2 1-18.5 1 35.5 1-5.4 1 5.9 1-15.4 1-2.4 1 26.8 1-28.1 1 18.7 1 2.9 1-11.2 1-6.6 1 9.3 1-23.3 1 17.2 1-1 1-12 1 13 1 13.8 1 16.5 1-39.4 1 18 1-.1 1-8.1 1-3.1 1 12.6 1 2.9 1-24.9 1 34.3 1-19.1 1 3.1 1-7.7 1 21.1 1-29.5 1 9.9 1 7.3 1-12.1 1 7.9 1 8.8 1 7.8 1-15.6 1-3.3 1 10.9 1-4.1 1-13.3 1 22 1-13.4 1-7 1 21.4 1-4.6 1-15.8 1 16.8 1-16.1 1 1.4 1-5.3 1 21.1 1-11.7 1 8.2 1-22.2 1 9.8 1-14.8 1 11.6 1 2.5 1 2.1 1-15.9 1 29.7 1-31.5 1 32.5 1-15.5 1 13.5 1-24.2 1 13 1 5.2 1 18.5 1-20.4 1 15.6 1-16.2 1 12.4 1-16.2 1 1.3 1 10 1-25.3 1-4.1 1 20.9 1 22.7 1-7.6 1-15.7 1 6.3 1-4.6 1 2.2 1 12 1-29.7 1-.4 1-8.6 1 12.4 1 22.2 1-12.7 1-14.3 1 7.8 1 2 1 17.4 1-6.2 1-.9 1 9.8 1-7.9 1 6.6 1-21.8 1-1.8 1 6.7 1 28 1-36.9 1 15.2 1 3.9 1-17.3 1-3.3 1 38 1-25.8 1-2.8 1 8.4 1-3.3 1-18.3 1-3.8 1 17.5 1-7.1 1 8.1 1-13.5 1 43.3 1-24.7 1 17.7 1-29.1 1 4.3 1-4.6 1 6.3 1 4.2 1-11.2 1-6.6 1 4 1 5.5 1 11.7 1-28 1 8.9 1 13.6 1 10.9 1-20.7 1 8.7 1-5.7 1-.4 1 4.9 1-7.7 1 3.8 1-.3 1 22.1 1-17.8 1 19.9 1-20 1 3.7 1-10.9 1 12.4 1 14.6 1 3 1-30.5 1 41.6 1-24.2 1 2.8 1 6.1 1-10.4 1-10 1 10.9 1-4.3 1 26.9 1-21.5 1-26.3 1 41.7 1-8.3 1-7.3 1-21.1 1 59.6 1-41.7 1-.1 1-2.7 1 8.5 1-3 1 4.6 1 1.7 1-5.5 1 12.4 1-25.1 1 22.7 1-6.8 1-4.2 1 7.8 1-5.7 1-.8 1-8.1 1-4.9 1-7.7 1 2.4 1 6.7 1 16.4 1-12.3 1 3.9 1-14.2 1-5.8 1 18.4 1 25.7 1-40.2 1 28 1-29.1 1-.9 1 2.9 1 .5 1 19.1 1-7.7 1-1.5 1-7.3 1 16.4 1 10.2 1-17.7 1-7.8 1-8 1 8.2 1-10.8 1 29.7 1-24.2 1 22 1-27.4 1 24 1-3.2 1 2 1-5.3 1-15.6 1 43.4 1-47.6 1 29.1 1-15 1-10.5 1 21.9 1 7.5 1-4.7 1-27.2 1 6.8 1 15.3 1-1.9 1 6.3 1-13.2 1-18 1 6.2 1 17.2 1-15.1 1-4.1 1 23.1 1 8.8 1-23.3 1 5.4 1 .9 1 12 1-13.6 1-.1 1 2.5 1-13.7 1 29.3 1 2.7 1-17.3 1 .8 1 1 1-2.3 1-9.1 1 16.3 1 .4 1 3.3 1-23.4 1 13.3 1-17.5 1 36.1 1-38.9 1 15.8 1 19.4 1-38.1 1 21.2 1-20.9 1 29.9 1-14.9 1-2.6 1-4.2 1 17 1-4.5 1 6.7 1 1.5 1-16 1 10 1 12.1 1-8.8 1-.9 1-3.1 1-6.2 1 5.6 1-.6 1 29.5 1-31.6 1-8 1 16 1-6.8 1-4.4 1 16.8 1-11.2 1-7.1 1 16.2 1 16.2 1-7.3 1-12 1 .7 1-3.7 1 8.8 1-10.4 1 6.6 1-5.8 1 4.5 1-25.3 1 23.1 1-6.1 1 2.8 1 8.5 1-18.8 1 4.7 1 12.4 1-1 1 10.2 1-6.3 1-22.2 1 23.6 1-6.1 1 3.7 1 10.4 1-10 1-3.1 1-15.8 1 13.9 1 14.9 1-2.9 1-19.7 1-1.5 1 11.9 1 10.1 1-13.4 1 24.6 1 9.3 1-37.2 1 36.8 1-.7 1-45.9 1 4.8 1 17.3 1 2 1-9.8 1 10 1 9.1 1-19.4 1-15.9 1 22.4 1 12.8 1 7.8 1-4.9 1-44.8 1 17.9 1 12.3 1-9 1 15.9 1-1.5 1 4.6 1 6 1-23.4 1 26.4 1-37.4 1 3.5 1-1.1 1 1.9 1 17.4 1 11.2 1-37.5 1 25.1 1 4.8 1-11.4 1-27.7 1 28 1 4.5 1-32.2 1 14.2 1 17.4 1-9.2 1 8.4 1 .9 1-30.6 1-.2 1 23.6 1-15.3 1 13 1-4.4 1-17.2 1 19.6 1-6.6 1-13.6 1 .5 1-1.6 1 9.3 1 6.8 1-5.6 1-9.1 1-14.8 1 16.6 1-2.9 1-7.2 1-3.2 1 28.3 1-1.2 1-34.4 1 27.4 1-7.3 1 16.1 1-31 1 20.7 1-18.3 1 3.4 1 4.9 1 8.3 1-9.8 1-20 1 27.7 1-10.1 1-2.9 1-17.7 1 14.8 1 18.4 1 .9 1-9.3 1-16.1 1 19.3 1-19.3 1 19.1 1-15.7 1-11.7 1 22.9 1-2.9 1-.1 1-13 1-1.9 1 25.2 1-13.7 1 19.6 1-.1 1-31.8 1 8.3 1-29.9 1 32.9 1-6.9 1 10.3 1-6.7 1-2.4 1-3.3 1 .4 1 23.2 1-6.7 1 17.6 1-15.9 1-14 1-1 1 24.5 1-41.1 1 23.2 1-3.2 1-22.6 1 37.4 1-12.5 1-2.8 1-7.5 1 9.5 1-.9 1 13.5 1-15.7 1 32.4 1-35.3 1 8.9 1-9.1 1 17.7 1-14.7 1 22 1-4.6 1-6.8 1-24.2 1 19.5 1-.7 1 8.4 1-23.6 1 24.1 1 .7 1-8.8 1 4.4 1-9 1 17 1-24.9 1 6 1 38 1-30.7 1 .3 1-10.3 1 7.9 1 6.1 1-17 1-3.2 1 12.1 1 23.5 1-22.3 1 33.9 1-16.4 1-6.8 1-13.3 1 11.4 1 28.5 1-50.8 1 20 1 15 1-8.6 1-10.4 1-7 1 15.7 1-31.9 1 41.3 1-31.5 1-14 1 19.3 1 1.4 1-2.9 1-15.5 1 10 1 17.4 1-5 1 9 1-11.9 1-14.9 1 8.9 1 4.3 1 1.6 1 .8 1-.7 1 4.8 1 .3 1-18.2 1 22.9 1-5.9 1-12.1 1 6.3 1-5 1 4.8 1-24.6 1-.5 1 31.9 1-14.2 1 20.2 1 1.6 1-13.8 1 18.4 1-33 1 13.4 1-17.3 1 17.2 1 11.1 1-11.1 1 1.7 1-15.2 1 14.6 1-12 1 10.5 1-9.6 1 19.6 1-3.4 1-2 1 5.3 1 5.8 1-14.4 1-7.9 1 1.6 1 27.2 1-14.4 1-16.7 1 1.4 1 27.1 1-16.7 1 22.4 1-5.7 1-27.7 1-10.3 1-16.4 1 16.9 1-19.8 1 32.8 1 2.7 1 31.6 1-16.3 1-1.7 1 17.9 1-17.5 1 21.2 1-10.4 1-2.2 1 4.1 1 1.8 1-10.9 1 22.3 1-7 1-5.8 1 23 1-11.9 1 16.8 1-39.6 1 37.1 1-13.7 1 18.4 1-18.3 1-6.4 1-1.5 1 12.3 1-22.8 1 14.2 1-7.4 1 39.2 1-21 1-9.1 1-31.4 1 33.2 1-6 1 6.5 1 1 1-8.8 1-6.7 1 11.7 1 2 1 .8 1 .3 1 5.1 1-14.7 1 19.9 1-15.1 1 6.5 1-7.6 1 8.2 1 15 1-13 1-4.1 1-.8 1-8.6 1-8.1 1-10.5 1 25.1 1 4.1 1 1.6 1-30.6 1 12.1 1 13.9 1-10.4 1 13.1 1 2.1 1-26 1 24.6 1-11.3 1-5 1 9.3 1-11.4 1-11.7 1 29.1 1-3.5 1-.1 1-4.2 1-18.3 1 16.4 1 19.4 1-14.3 1-3.9 1 2.7 1-5.1 1 3.2 1 0 1-7.7 1 5.7 1 2 1 1.3 1 28.5 1-32.4 1-9.9 1 13.2 1-18.3 1 41.6 1-27.6 1 5.5 1 4.7 1 8.7 1-16.6 1 10.9 1-6.1 1 2.4 1 7.6 1-14.2 1 24.8 1-18 1 11.8 1-16.5 1 6.4 1-8.7 1 17.9 1-8.9 1-7.4 1-4.7 1 37.9 1-19.6 1 3.1 1 6.2 1-8.1 1 9.5 1-16.2 1 4.7 1 16.5 1-33.4 1 15.5 1-9.1 1 25 1-21.6 1 5.4 1-1 1-11.3 1 5.7 1-3.8 1 18 1-18.5 1 20.6 1-9.3 1 5.4 1 5.7 1-5 1-5.6 1-12.8 1 5.3 1 2.8 1 7.2 1-8.9 1-3.1 1 23.6 1-16.3 1 .4 1-14.3 1 1.6 1 .3 1-6.1 1 10.7 1 2.9 1-11.5 1 2.4 1 16.9 1-29.2 1 16 1 18.5 1-6.9 1-1.8 1 11.9 1-3.7 1-6.9 1-15.3 1-7.3 1 5.2 1 23.2 1-21.3 1 1.9 1 17.5 1-15.4 1 7.5 1-19.2 1 8.7 1-.4 1-1.2 1-9.7 1 8.4 1 18.4 1-7.9 1 7.1 1-16.5 1 27.8 1-26.7 1 2.7 1 8.5 1-9.7 1 6.9 1 14.3 1-10.8 1-9.9 1 17.5 1-19.3 1 1.3 1 7.5 1 .4 1-25.8 1 25 1-9.6 1-8.4 1-.5 1 .2 1-5.3 1 24.3 1 4 1-15.6 1 .3 1-.4 1 10.2 1-8.1 1 11.7 1-13 1 7.5 1-29 1 3.8 1 8.6 1-4.8 1-7.1 1-4.2 1-5.1 1 10.8 1-5.2 1 7 1-12.7 1 2.4 1 1.3 1-.8 1-12 1 .7 1 8.8 1-28.9 1 13.1 1-3.5 1-6.7 1-11.1 1 5 1-6.6 1-2.9 1-5.5 1-5.4 1 0 1-9.8 1 4.1 1-7.6 1-7.5 1-2.9 1-2 1-10.2 1-.7 1 1.5 1-15.7 1-4.7 1-10.4 1-3.9 1-9.7 1 2.9 1-16.1 1-1.4 1-11.9 1-3.9 1-11.2 1-7.6 1 2.8 1-8.2 1-10.4 1-9.3 1-6.1 1-11 1-1.5 1-1.5 1-15.8 1 6.7 1-15 1-.7 1-10 1-12.6 1-6.2 1 6.3 1-5.8 1-13.4 1 8.4 1-13.1 1 11.1 1-18.5 1 3.3 1-5.9 1-5.3 1 5 1-7.3 1-1.1 1 4 1-5.1 1 1.6 1 6.1 1 4.6 1 5.5 1 4.9 1-2.6 1 11.5 1-1.3 1 2.4 1 10 1 6.3 1 0 1 3.8 1 9.5 1 4.2 1 .7 1 12 1 6.5 1 7.5 1 8 1 10.4 1-2 1 11.3 1 9.7 1-6.5 1 22.5 1 2.5 1 17.7 1-1.3 1-.4 1 10.8 1 5 1 9.6 1-1.8 1 13.6 1 3.9 1 6 1 9 1 4.5 1 13.3 1-1.6 1 7.1 1-.6 1 4.8 1 14.1 1-4.2 1 1.8 1 4.2 1 5.7 1 3 1 5 1 13.3 1-3.5 1 7.6 1 12.5 1-12.8 1 3.1 1-4.4 1 21.6 1-2.4 1-13.1 1 25.3 1 .4 1-27.4 1 13.8 1 18.5 1-14.1 1 8.2 1 9.3 1-1 1-6.5 1 12.7 1 7.8 1-14.3 1 30.3 1-18.4 1-1.3 1-15.5 1 3 1 1.7 1 18.5 1-19.3 1 24.1 1-2.8 1-16.1 1 5.8 1 17.4 1-24.7 1-14.5 1 16.3 1 9.4 1 8.8 1-4.5 1 22.1 1-15.4 1-7.7 1 9.6 1 .6 1-11 1 6.6 1-1.9 1-4.6 1-2.5 1-12 1 10.6 1-8.8 1 18.4 1-7 1-14 1 11.5 1-2 1-12.3 1 8.8 1 9 1 15.9 1-16.7 1 6.4 1 9.9 1-2.4 1-10.6 1 5.8 1-9.5 1-1.5 1 4.2 1 2.1 1 9.8 1-3.2 1 3.4 1-29 1 14.4 1 3.2 1-12.5 1-12.5 1 32 1 19.5 1-35.7 1 13.8 1 19.9 1-22.5 1-.6 1-10.4 1 12 1 11.7 1 2 1-14.3 1 14.6 1-25.3 1 8.4 1 9.4 1 .4 1 9 1-14.1 1-21.6 1 38.6 1 9.9 1-17.3 1-8.4 1-2.6 1 6.9 1-17.4 1 18.1 1-5.6 1-13.6 1 19.5 1 4.7 1 15.3 1-20.2 1 18.7 1-25.1 1 2 1 9.3 1-13.2 1 10.6 1-11.3 1-.5 1 4 1 13.7 1-8.5 1-5.8 1 24.4 1-19.5 1 9.6 1-4.9 1 5.7 1-10.2 1-7.3 1 11.2 1 .8 1 2.3 1-1.7 1-.9 1-17.1 1 23 1-.3 1-12.7 1 4.3 1-1.7 1 14.9 1-34.3 1 14.7 1 10.4 1-25.7 1 11.1 1 27 1-35 1 14.4 1-9.3 1 8.2 1-7.5 1 10.6 1-18.6 1 36.4 1-14.9 1-.1 1-8.8 1 7.6 1-4.9 1 9 1-10.4 1 .1 1 20.1 1-3.3 1 7 1-8.2 1-30.4 1 25.4 1 4 1-6.3 1 8.9 1 .1 1-8.6 1 2.6 1-6.2 1 15.9 1-31.1 1-1.3 1 27.2 1-30.5 1 24 1-4.4 1 13.4 1-25.7 1-.7 1 9.6 1-.6 1-7.8 1-1.7 1 10.2 1 8.8 1-33.6 1 35 1-5.1 1-11.2 1-6.5 1 3.8 1-15.7 1 23.7 1-1 1-.7 1 4.4 1-18 1 24.5 1-12 1 2.8 1 2.5 1 .2 1 5.9 1-6.3 1 0 1-12.1 1 3.9 1-11.7 1 19.9 1-5.9 1 2.5 1 7.9 1-11.1 1 19.9 1-29.3 1 30 1-3.8 1-16.5 1 8.5 1 6.4 1-17.5 1 9.5 1 8.1 1-5.5 1-9.7 1-13 1 24.7 1 1 1 10 1-9.2 1-24 1 2.2 1-5.2 1 23.8 1-9.7 1 3.9 1-8 1-12.9 1 21.4 1-22.4 1-3.9 1 11.8 1 16.3 1 10.8 1-11 1-1.8 1 4.2 1 4.9 1 4.3 1-23.7 1 2.8 1 42.5 1-50.2 1-10.4 1 18.9 1 .9 1-3.1 1 29.4 1-6.6 1-22.2 1 39.4 1-33.1 1 7.4 1-11.3 1-1.1 1 16.6 1 12.4 1-10 1-6.4 1-3.1 1 18.8 1-32.7 1 13.9 1-7.7 1 8.1 1-.7 1-5.3 1-4.4 1 17.7 1 21.1 1-20.6 1-5.7 1-7.7 1 16.8 1-2 1 18.6 1-26.7 1 21.9 1-28.2 1 15.4 1 3.5 1-14.8 1-14.8 1 22.8 1 1.9 1 10.5 1-1.5 1 8 1-31.8 1 29.6 1-13.5 1 4.1 1-32.8 1 28.5 1-4.7 1 .5 1 29.3 1-38.8 1 3 1 7.3 1 .7 1-17 1-1.1 1 13.2 1-14.2 1 21 1-13.4 1-11 1 24.2 1-2.2 1 1.1 1-6.1 1 4.8 1-11.1 1-16.5 1 15.5 1 .3 1-2.4 1 7.7 1 16.3 1-10.6 1-4.5 1 1.4 1-19.3 1 34.1 1-21.7 1 13 1-3.3 1-.4 1 7.6 1-20.5 1 10.9 1-13.6 1 1.5 1-24.8 1 25.4 1-2.3 1 4.4 1-14.3 1-2.9 1 16.8 1-6.1 1 8.3 1-17.7 1-5.8 1 23.4 1-1.8 1-.6 1 2.4 1-2 1-3.7 1-8.6 1 12.9 1-3.3 1-2.9 1-12.1 1 11.2 1 11.6 1 2.2 1-24.3 1 27.6 1-17.7 1 19 1-13.6 1-9.7 1 23.5 1-28.4 1 21 1-4.3 1 5.7 1 1.7 1-3.1 1 10.2 1-32.2 1 27.5 1 6.1 1-31.9 1 .3 1 9.7 1-5.8 1 23.8 1-4.3 1-14.5 1 2.1 1 25.6 1-25.9 1-1.7 1 30.9 1-7.8 1-18.8 1 12 1-26.4 1 30.1 1 22.7 1-38.8 1 13.1 1-9.6 1-9.4 1 9.1 1-4.5 1-9.7 1 15.7 1 3.2 1 2.7 1-1.9 1-.9 1-2.7 1-5.6 1-12.1 1 16.1 1-5.4 1-11.3 1 15.7 1 7.8 1 10.2 1-27.4 1 24.7 1-22.4 1 10.7 1 12.7 1-14.7 1-3.9 1-7.4 1 24.6 1-22.3 1 12.4 1-2.9 1 6.3 1 11.8 1-10.1 1 18.5 1-3.3 1-21.7 1-12.8 1 11.5 1-.4 1 20.1 1-16.2 1 7.1 1-24.2 1 24 1 12.3 1-17.7 1-10.9 1 7.5 1 4.4 1-1 1-.6 1 3.1 1-13.2 1 6.4 1-1.5 1 0 1-17.5 1 21.6 1 3 1-19.6 1 32.4 1-21.4 1 1 1 6.8 1-5.5 1 10.1 1 .9 1-37.9 1 24.6 1 10.6 1-4.3 1 2.7 1-7.5 1-6 1-10.9 1 34.3 1-16.4 1-1.4 1 1 1-4.5 1 2.2 1 11.5 1-8.4 1-19.8 1 13.4 1-4.3 1 4.6 1-2.1 1 17.8 1-30.6 1 20.7 1-1.3 1-13 1-11.3 1 17 1-18.2 1 31.9 1-7.1 1-35.1 1 28.2 1-6.5 1-4.9 1-.8 1 28.2 1-28.6 1 1.8 1 21.1 1-13.1 1-17.7 1 52.5 1-28 1-13.7 1 42.7 1-25.5 1-1.1 1-6.4 1 13.6 1-2.9 1-1.3 1 12.8 1-15.2 1-8 1-2.7 1 22.7 1-4.1 1-9 1 18.4 1-4.6 1-14.5 1-9 1 10.3 1-6.6 1 11.6 1 5.1 1 2.6 1-31.3 1 19.3 1 10.6 1 1.3 1-3.5 1-7.4 1 5.6 1 11.3 1-15.3 1-4.8 1 15.3 1 1.6 1-21.9 1 5.2 1-8.9 1 14.4 1 5.7 1-7.3 1-8.3 1-.7 1 11.6 1 9.6 1-8.1 1-1.7 1 14.9 1-18.8 1-.6 1-8.1 1 26.3 1-3.7 1-12.7 1 3.5 1-15.7 1 4 1 10 1 5.4 1-35.4 1 44.5 1-8.1 1-21.7 1 16.2 1-8.5 1-2.3 1 1.5 1 0 1 7.7 1 1.2 1 9.3 1-13.1 1-6.7 1 11.1 1 4 1-4.3 1 13.5 1-17.5 1-11.3 1 21.9 1 1 1-7.5 1 1.2 1-12.8 1 10.3 1 4.4 1-4.1 1-13.6 1 16.9 1-11 1 13.6 1-2 1 5.7 1-17.5 1 12.1 1 2 1-2 1 10.6 1-24.7 1 20.6 1 2.2 1-11.3 1-12 1 10.3 1 1.1 1 .9 1 10.2 1-5.4 1-24.3 1 27.9 1-31.7 1 11.7 1-11.8 1 23.8 1-10.4 1 17.8 1-20.5 1 9.8 1 15.5 1-20.5 1 17.1 1-10 1-2.4 1-16.2 1 15.4 1 20.1 1-20 1 6 1 11.1 1-23 1 8.5 1 .6 1-7.7 1 13.5 1 8.7 1-7.9 1-6.2 1 2.8 1-20.5 1 24 1-15.8 1 23.2 1-20.4 1 20.4 1-17.3 1 1 1-12.6 1 22.8 1-.2 1 8.3 1-20.9 1-8.9 1 28.3 1-39.4 1 17.4 1 22.2 1-11.6 1-13.5 1 12.1 1 18.2 1-16.9 1-2.4 1 17 1-19.5 1 8.6 1 12.6 1-33.1 1 10.2 1 16.8 1-9.4 1 21.1 1-21.4 1 2.3 1-17.2 1 3.7 1 29.3 1-25.3 1 10.8 1-6.1 1 30 1-45.3 1 24.9 1-6.3 1-11.8 1 8.4 1 10.5 1 25.4 1-17.1 1-7.8 1-4.4 1-18.5 1 .4 1 21.8 1-23.1 1 30.1 1-6.5 1 10.1 1-12.3 1-13.8 1 23.8 1-25.2 1 11.8 1-2.5 1-7.2 1 7.6 1 2.3 1-10.7 1 26.4 1-22.7 1 1 1 9.9 1-9.4 1 2.3 1 2.5 1-21.8 1 40.1 1-32.8 1-8.3 1 23.1 1 .2 1-2.6 1-12.3 1-1.1 1 10.5 1-1.9 1 12 1-12.2 1 6.3 1-7.1 1-19.9 1 9.6 1 26.6 1-13.8 1 10.9 1-14.3 1-.6 1-5.4 1 18.1 1 4.8 1-27.4 1 12.9 1-11.4 1 9.6 1-18.1 1 1 1 21.5 1-3.7 1-3.5 1 17.2 1-24.4 1 6.4 1 15.7 1-13.9 1-6 1 17 1-12.5 1-2.2 1-9.6 1-3.2 1-1.4 1 7.2 1 7.5 1 7.3 1-19.5 1 18.3 1 12.8 1 .7 1-21.6 1 35.6 1-20.8 1 3.2 1 7.2 1-30 1 6.3 1 4.8 1 3.4 1-15.9 1 21.5 1-16.4 1 9.6 1 3.5 1-14.7 1 22 1-24.8 1-14.1 1 34.3 1-13.5 1-17 1 13.2 1 6.9 1-5.8 1 8.2 1-17.5 1 9.4 1-5.6 1 .2 1 6.7 1 7.1 1-14.1 1-2.4 1 11 1-5.5 1-26.3 1 20.9 1-4.5 1-5.6 1 3.1 1-1.3 1 25.9 1-25.8 1 1 1-15.8 1 16.1 1 9.2 1-14.3 1 10.4 1-3 1-3.8 1 26.4 1-34.8 1 9.3 1-15.4 1 19.3 1-15.2 1-.1 1 10.5 1-13.3 1 11.9 1-24.1 1 20.9 1-14.5 1-11.7 1 22.7 1 3.2 1-11.8 1 7.2 1-8 1-13.7 1 13.6 1-13.9 1 4.8 1-7.2 1-9.4 1-.7 1-6.7 1 4.6 1-11.5 1 10.3 1-11.3 1-10.7 1 3.2 1-9.5 1 5.8 1-8.2 1-10.4 1 5.1 1-6.1 1-6.7 1-11.6 1-4.1 1 8.7 1-21.6 1 3.3 1-5.4 1-10.9 1-5.9 1-5.8 1 6.2 1-12.9 1 3 1-5.8 1-6.6 1-5.7 1-4.6 1-.6 1-6.5 1-6 1 1.5 1 6.4 1-3.4 1-9.2 1-5.4 1 1.4 1 1.3 1 5 1-.2 1 5.9 1 4.7 1-5.3 1 7.5 1 .5 1-1.5 1 4.9 1 2.2 1 .2 1 15.9 1 5.3 1 3 1 1.4 1 6.7 1 6 1 4.2 1 2.8 1 6.5 1 5.4 1 8.8 1 5.8 1-4 1 20.1 1-3.4 1-.3 1 1.3 1 12.5 1 7 1-3.3 1 6 1 12.5 1 1 1 2.8 1 3.7 1 10.6 1-8.4 1 7.6 1-1.3 1-.5 1 0 1 8.5 1 1.4 1 3.7 1 10.7 1-5.5 1-.8 1 5.2 1 .5 1 4.1 1 13.6 1-12.2 1 5.9 1-1.5 1-2.6 1 9.5 1 1.5 1-3.1 1 7.9 1-5.4 1 8.7 1-13.8 1 12.7 1-1.7 1-6.8 1-3 1-1.8 1-2.6 1 5 1 .7 1 1.6 1 23.9 1-21.7 1-7.9 1 24 1-3.8 1-16.3 1 14.7 1-4.1 1 6.4 1-13.7 1 6.5 1-3.4 1-3.8 1 6.3 1 15.4 1-17.6 1-3.6 1 .3 1 13.6 1-7.9 1-11.5 1 .5 1 9.3 1 12.5 1 7.4 1-3.4 1-12.3 1 6.1 1 7.4 1-16.4 1-29.4 1 52.7 1-4.2 1-6.8 1 9 1-5.2 1-15.1 1-6.2 1 10.9 1-8 1 6.1 1 14 1-23 1 13.6 1 24 1-21.6 1-15.4 1 18.4 1-5.3 1 14.8 1-17 1 22.6 1-3.6 1 8.6 1-15.6 1 12.7 1-40.2 1 8.9 1 17.3 1-3.5 1-5 1 10.5 1 .4 1 3.1 1-25.2 1 28.4 1-2.7 1-9.8 1-4.5 1 15.8 1-8.4 1-.7 1 12.6 1 8.4 1-18.7 1-5.3 1 6.8 1-5.4 1-11.5 1 24.2 1-4.4 1-15.3 1 6.9 1 1.7 1-8.6 1 22 1-7.6 1-17.5 1-7.2 1 41.7 1-47.1 1 35.6 1-5.1 1 1.8 1-19.7 1 9 1-1.5 1 22.5 1-16.7 1-20.1 1 22.2 1 5.3 1 .9 1-15.8 1 4.4 1-9.4 1 6.4 1 7 1 1.4 1-26.1 1 20.5 1 3.8 1-1.5 1-34.1 1 26.3 1 16.3 1 6.9 1-18.5 1 .8 1-15.3 1 9.6 1 3.3 1 24.3 1-50 1 41.5 1-.7 1 1.3 1-25.2 1 13.3 1-3.4 1 7.4 1-9.4 1-3.2 1 .2 1-4.7 1 27.7 1-25.3 1 2.1 1 20.9 1-14.2 1 1.2 1 13.4 1-10.9 1 6.5 1-7.1 1-24.1 1 16.7 1 12.6 1-8.3 1 17.8 1-18 1 2.6 1-3 1 2.3 1 27.4 1-30.9 1-12.2 1 10.9 1-10.2 1 20.1 1 .7 1-4.2 1-3.2 1 2.9 1-19.2 1 23.5 1-5.2 1 26.6 1-20 1 3.6 1-11.9 1 8.7 1 13.5 1-23.5 1 14.2 1-2 1 9.3 1-13.1 1 4.1 1-2.9 1 22 1-5.7 1-13.6 1 8.1 1-18.4 1 9.8 1 .3 1 1.8 1 14.9 1-20.5 1-2 1 11.4 1-2.6 1 12.6 1 20.5 1-28.3 1-11.4 1-2.1 1 20.1 1-27.7 1 7.2 1 7.7 1-.2 1-10.4 1 24.8 1-4.2 1 1.6 1-20.7 1-5.9 1 16 1-8.3 1-.6 1-.7 1 16.3 1-21 1 43.5 1-61.3 1 20.8 1 2.2 1-5.2 1 6.6 1-3 1-13.8 1 21.2 1 19.9 1-39.1 1 6.9 1-4.1 1 13.9 1-16.2 1 16 1 1.3 1 4.2 1 7.5 1-22 1-2 1 17.9 1 5 1-15.4 1-18 1 32.4 1-.2 1-36.2 1 33.4 1-12.1 1-16.5 1 34.6 1-8.1 1 19.4 1-21.3 1-4.9 1 13.4 1 11.6 1-12.6 1-12.5 1 3.5 1-5.1 1-10.1 1 7.2 1 6.9 1-8.4 1 13.9 1-17.2 1 11.7 1-18.8 1-6.3 1 31.3 1-8.9 1-7.2 1 13.2 1 21.3 1-24.5 1 9.1 1-18.5 1 6.2 1-2.5 1 26.5 1-14.2 1-23.4 1-6.8 1 47.9 1-21.3 1-6.4 1-6.5 1 4.4 1-8.4 1 4.5 1-9.9 1 13.2 1-4.9 1 18.1 1-8.5 1-23.7 1 13.5 1 18.4 1-13.2 1-4.7 1 14.3 1-3.9 1-16 1 18.3 1-6.3 1-14.2 1 7.3 1 9.6 1-12.5 1 8.4 1 6.5 1-9.5 1-6.9 1 1.3 1 4.8 1-11.4 1 37.3 1-24.7 1 5 1-.4"/>
<path transform="translate(224.30 0) scale(0.64560 1)" vector-effect="non-scaling-stroke" fill="none" stroke="#00cdcd" stroke-width="6" stroke-linejoin="round" stroke-linecap="round" d="M0 1188.2 l1-15.8 1 2.6 1 9.5 1-3.7 1-3 1-11.3 1-7.6 1 16.3 1-10.5 1 15.7 1-7.4 1-11.4 1 11.9 1 5.1 1-6.4 1-11.5 1 12.3 1 .9 1 5.4 1-1.3 1-19.4 1 4.8 1 12.9 1-27.3 1 29 1-19.2 1 4.9 1 21.9 1-17.9 1-2.9 1 6.8 1-4.6 1-6.4 1 10.3 1 22.2 1-14.5 1-5.8 1-2.2 1 6.3 1-2.1 1-17.6 1 16 1-5.4 1 19.5 1-22.8 1 17.1 1-28.5 1 17.2 1-12.2 1-2.1 1 19.5 1-21 1 9.8 1-6.8 1 12.7 1-1.6 1-29 1 33.5 1-15.6 1 30.6 1-13.5 1 .6 1-39.3 1 48.2 1-20.2 1-16.4 1 18.9 1 11.2 1-33.8 1 30.6 1-16.4 1-3 1 1.4 1-4.9 1 11.7 1 .4 1 9 1 4 1-19.9 1 16 1-25.8 1 20.7 1-19.9 1 6.2 1 13.5 1-15.3 1 14.3 1-22.2 1 8.8 1 14.5 1 11.4 1-30.3 1 31.7 1-14.8 1 23.3 1-29.2 1-2 1 9.9 1-15.8 1 14.2 1-1.8 1 16.2 1-11 1-18 1-.3 1 4.3 1-12.4 1-.8 1 49.2 1-33.7 1 24.6 1-23.2 1 4 1-14.9 1 34.4 1-19.1 1 23.9 1-27.3 1 22.9 1 2.4 1-34.5 1 22.6 1-17.1 1-1.5 1 14.8 1 8 1 6.2 1-19.6 1 15.5 1-4.9 1-6.7 1-10.8 1 11.5 1 40.4 1-51.6 1 9 1-8.4 1 26.5 1 5.1 1-5.3 1 7.6 1-23.9 1 20.5 1-29.1 1 27.8 1-.6 1-24.6 1 18.4 1-23.5 1-3.8 1 .2 1 3.4 1-.4 1 12.1 1 21.7 1-23.3 1-6.9 1 17.9 1-10.8 1 4.1 1 3.6 1 .5 1-13 1 5.2 1 14 1-15.3 1 1.7 1 6.6 1 1.5 1-8.6 1 10.5 1-6.6 1-15.2 1 23.2 1-17.8 1 46.5 1-32.6 1-6.6 1 13.3 1 7.3 1 .7 1-14.3 1 9 1-4.3 1-7.3 1-19 1 18 1-30.7 1 19.7 1 26.3 1-14.1 1-2.9 1-10 1 0 1 1.8 1-8.6 1-10.6 1 38.7 1 7.1 1-27.3 1 16.4 1-23.8 1 18.5 1-20.7 1 26.9 1-10.2 1-15.8 1 21.4 1 12.9 1-19.5 1-.6 1 .6 1 1.4 1 13.3 1 .5 1-40.2 1 39.2 1-16.6 1 22.1 1-14.2 1 6 1-17.3 1-9.7 1 18.7 1 8.6 1-2.6 1 .5 1-6.5 1 5.9 1-18.2 1 8.1 1-16.7 1 17.8 1-3 1 4.3 1 11.7 1-11.6 1-35.1 1 50.4 1-14.4 1 7.2 1-18.6 1 19 1 8.2 1-37.4 1 33.4 1-25.8 1 1.7 1 8.9 1 24.4 1-46.4 1 13.6 1 7.7 1 6.9 1-9.3 1 6.1 1-17.7 1 21.1 1 3 1-25.8 1 3.4 1 13.8 1-1 1 2.1 1-20.9 1 9.6 1-1.2 1 21.8 1-17.3 1-4.8 1-4.7 1 10.8 1 14.3 1-32.4 1 20 1 5 1 17.9 1-15.2 1 8.4 1-15.1 1-16.6 1 .1 1 8.9 1 10.7 1-4.4 1-1.6 1 27.7 1-49.4 1 16.6 1 41.6 1-24.2 1-11 1-4.8 1 23.5 1-.7 1 1.9 1-24.7 1 17.5 1-3.8 1 8.2 1-24.2 1 26.6 1 11.4 1-34.5 1 26.9 1 9.6 1-9.4 1-11.2 1 2.1 1-8 1 8.8 1-15.3 1 12.9 1-10.9 1-7.6 1 35 1-40.4 1 43.2 1-47.6 1 36.9 1-9.2 1-21.8 1 13 1-6.3 1 .6 1 21.8 1-24.7 1-9 1 36.3 1-8.7 1-4.7 1-3.4 1 11.8 1-3.8 1-5.8 1-5.6 1 20.1 1 4.6 1-11.7 1 30.3 1-33.1 1-.4 1 16 1-14.7 1-.4 1-7.5 1 10 1-26 1 11.3 1-4.3 1-13.4 1 39.1 1-17.3 1-6.7 1 14.8 1-19.6 1 25.5 1 5.9 1-34.2 1 31.1 1-11.9 1 10.9 1-11.3 1-12.7 1-9 1 5.7 1 7.3 1 18.6 1-5 1-4 1 14.1 1-39.6 1 8.2 1 .5 1 14.6 1-20.6 1 13.2 1 23.6 1-4.2 1 6.8 1-25.1 1-5.3 1 15.8 1-14.1 1 10.2 1-.3 1 8.2 1 11 1-.4 1-5.2 1-13.6 1 10.5 1-12.4 1-6.3 1-7.3 1 11.4 1 12.9 1 2.1 1-7.7 1 6.4 1-13.9 1 26.6 1-18.3 1-5.8 1 11.6 1-10.1 1 5.6 1 13.5 1-27.6 1 6 1 1 1 2.4 1 21.8 1-12.1 1 4.5 1-46.4 1 36.3 1-2.9 1 2.9 1-6.5 1-8.4 1 16.2 1-11 1 2.1 1-7.3 1 4.6 1 8.5 1 3.4 1-10.3 1 1.4 1-3.5 1 13 1-15.8 1 1.7 1 4.8 1-6.3 1 8.7 1 16.3 1-19.6 1 17.8 1-6.2 1-8.7 1 6.3 1 9.1 1-27.1 1 18.8 1 6.6 1-23.4 1 25.1 1-7.9 1-17.3 1 15.3 1-22.1 1 2.5 1-3.3 1 21.2 1-7.5 1-4.4 1 2.9 1 5.4 1-2.9 1-1.8 1 7.9 1-13.1 1 5.1 1 20.3 1-9.5 1-25.6 1 40 1-28.5 1 29.9 1-18.4 1 10.4 1-32.6 1 11.9 1 1.5 1 1 1-2.7 1 1.8 1 6 1-5.8 1 5.4 1 5.7 1-25 1 18.2 1-8.8 1 10.2 1 8.3 1-23.8 1 11.8 1 15.3 1 1.3 1-18.7 1 16.6 1-7.3 1-3 1-6.8 1 8.8 1 4.5 1-16.1 1 13.1 1-19.4 1-.7 1 20 1-9.4 1-7.3 1 13.2 1 3.9 1-8.2 1 16.4 1-25.8 1 0 1 18.1 1-23 1 19.8 1-27.7 1 6.9 1 9.2 1-3 1 22.4 1-29.5 1 10.6 1 2 1-3.3 1 14.4 1-20.2 1 .5 1-5.6 1 21.8 1-7.3 1 .2 1-.6 1-15.5 1 19 1-2 1 13.1 1-11.6 1-13.9 1 5.8 1 24.8 1-34.8 1-1.6 1 18.9 1 14.3 1-15.8 1-14.2 1 39.4 1-34.1 1 18.7 1 7.5 1-15.5 1 6.2 1 10.4 1-32 1 24.4 1 4.8 1 1.1 1-19.2 1 10.3 1-11.7 1-.1 1-3.7 1 18.4 1-4.8 1 11.2 1-40.8 1 17.6 1 14.4 1 16.7 1-28.4 1-12.1 1 14 1 6.2 1 10.6 1 3.8 1-4.6 1-9.3 1 25.7 1-32.3 1 8.1 1 7 1-12.8 1 3.4 1 10.3 1-18 1 8.4 1 .4 1 28.3 1-16.8 1-17.5 1 16.8 1-21.1 1 17.3 1-24 1 27.6 1-10.3 1-13.5 1 20.4 1 5 1-5.3 1-2.4 1-17.2 1 24.6 1-34.4 1 18.5 1 29.5 1-38.9 1-4.5 1 9.8 1 15.1 1-5.4 1 12.5 1-11 1-12.7 1 22.7 1-17.3 1 14.1 1 8.2 1-10.3 1 9 1-29.2 1 8.9 1 6.8 1-15.9 1 28.7 1-1.3 1-9.1 1 1.3 1-8.7 1-11 1 4.9 1 3.8 1 5.4 1-4.5 1 4.5 1-18.7 1 6.3 1 10.3 1 8.9 1-30.1 1 22.4 1 4.4 1-9.4 1 1.5 1-5.7 1 4 1-4.1 1-13.1 1 32.8 1-12 1-9.8 1 21.2 1-18.5 1 10.5 1-26.6 1 12.3 1 19.3 1 4.5 1 4.7 1-5.1 1 4.3 1-28.6 1-8.2 1-11.5 1 29.1 1-3.9 1 20.6 1-20.2 1 21.6 1-37 1 38.9 1-21.1 1 16.9 1-4.3 1-21.3 1 20.8 1-17.3 1 17.6 1-3.3 1-1.7 1-6.6 1-.7 1 3.8 1-28.6 1 39.8 1-12.1 1 3.7 1-13.2 1 14.7 1-8.7 1 24.2 1-34.8 1 31.3 1-23.7 1 13.8 1-7 1-8.2 1-12.6 1 33.1 1-28.8 1 14.9 1 21 1 .4 1-12.2 1-22.4 1 17.6 1 2.4 1-10.3 1 25.2 1-13 1 .9 1-5 1-14.9 1 5.1 1-.7 1 25.7 1-13.9 1 4.8 1-.6 1-.2 1 14.8 1-9.8 1-6.5 1-1.8 1 15.3 1-38.3 1 36.9 1-22 1 12 1-8.9 1 3.6 1-3.3 1-39.8 1 29.4 1 3.7 1-6 1-6.4 1 28.3 1-18.2 1 13.4 1 13 1-26.7 1 10.7 1 15.6 1-16.9 1-.7 1-20.6 1 41 1-18.8 1-12.9 1 25.8 1-15 1 4.1 1-6.9 1 16.3 1-.8 1-13.5 1 5.6 1 17.9 1-16.5 1-7.4 1 21.8 1-24.4 1 8.3 1-15.3 1 3.7 1 3.6 1 12.8 1 5.5 1-17.7 1 13.9 1-10.2 1 9.1 1-17.8 1 12.3 1-5.2 1 3.2 1 27.6 1-26.1 1 12.9 1-4 1-30.8 1 22.7 1 7.7 1-31 1 8.8 1 50 1-39.5 1-6.2 1 5.7 1-10.4 1 11.5 1 1.5 1-5.9 1 20.3 1 3.6 1-7.6 1-21.1 1 3.2 1-9.5 1 20.8 1-10 1-.7 1-1.2 1 11.1 1-.7 1-15.2 1 31.8 1-15.7 1-17.9 1 26.3 1-20 1 31.8 1-5.5 1-9.3 1 21.3 1-38 1 14.2 1-6.6 1-7.4 1-4.5 1 28.4 1-16 1-8.3 1 5.1 1 43 1-36.2 1-8.5 1 5.8 1 16.9 1-15.2 1-.7 1 1.6 1-5.1 1 3.4 1 19.6 1-18.7 1 1.9 1-33 1 42.7 1 6.7 1-22.5 1 14 1-18.2 1 16.8 1 .7 1-30.4 1 39.4 1 2.8 1-17.1 1-11.1 1 13 1-1.6 1 12.8 1-11.6 1-.9 1 13.4 1-4.1 1-6.6 1-9.3 1-.9 1 .8 1-1.6 1 4.9 1 18.3 1-18.2 1 1 1-21.5 1 36.3 1-16.8 1 11.7 1-1.8 1-13.8 1 13.4 1-23.6 1 9.1 1 25.8 1-28.9 1 16 1-5 1-9.8 1 26.9 1-19.2 1 10.5 1 15.4 1-42.4 1 16.7 1 11.9 1-12.1 1 15.1 1-6.3 1-4.8 1 3 1-15 1-9 1-3.1 1 25 1-15.1 1 28.1 1-30.3 1-6.3 1-3.1 1 40.8 1-15.9 1 6.1 1-21.2 1 33.1 1-36.1 1 17.4 1-4.8 1 17.8 1-25.9 1 8.6 1 1.2 1 3 1 1 1 8.5 1 2.6 1-15.1 1 2.1 1 3.7 1 2.6 1-6 1 7.7 1-3 1 6 1-17.1 1 9.9 1-9.4 1-14.5 1 12.7 1 10.1 1-8.1 1-5.8 1 19.6 1 6.4 1-6.6 1 .1 1-24 1 22.1 1 12.9 1-4 1-14.5 1 12.8 1-16.8 1-1.1 1 9.4 1-.4 1-12.3 1 5 1 15 1-18.4 1 7.7 1 2.1 1 7.8 1-12.4 1 4.4 1 10.9 1-19.6 1-1.9 1-8.9 1 25.4 1-14.2 1-.8 1-14.7 1 16 1-6.2 1 7.6 1-.4 1 4.3 1 18.6 1-32.2 1 11.7 1-5.9 1 2.9 1 5.1 1 8 1-9.4 1 .8 1 4.8 1-6.6 1-7.3 1 4.3 1 1.1 1-20.7 1 27 1-7.5 1 5.6 1-6.2 1-17.6 1 6.1 1 6.9 1-14.5 1 27.4 1-28.1 1 32.5 1-16.1 1 3 1-20.6 1 10.2 1-1 1 20.2 1 7 1-2 1-48.9 1 28.8 1-15 1 13.8 1-3.9 1-13.8 1 5.5 1 21.3 1-8.8 1-5.4 1 8.7 1-13.4 1 19.6 1-11 1 16.5 1-34.8 1 26.9 1-8.5 1-10.8 1 4.7 1 12.1 1 6.3 1-11.8 1 3 1-3.3 1-.3 1 27.8 1-13.5 1 9.7 1-22.3 1 9.2 1-6 1 13.4 1-8.9 1 15.5 1-16.3 1-6.4 1-6.9 1 4.4 1 15.5 1-14.4 1 6.6 1 8 1 5.5 1-26.8 1 9.2 1-11.1 1 16 1-2.5 1 2.8 1-16.6 1 9.4 1-14.2 1 26.4 1-12.8 1-1.6 1 10.9 1 4.5 1-13.7 1 6.6 1 3 1-6.6 1-7.1 1 2.9 1 16.5 1-6.1 1-15.1 1 7.5 1 13.3 1-7.4 1-9 1-4.2 1 15.4 1 17 1-20.8 1-7.6 1-.2 1 21.2 1-33.7 1 16.7 1 4.7 1-6.1 1 30.4 1-20.9 1-.7 1 10.1 1-12.2 1-18.7 1 22.1 1-8.3 1-.9 1 20.7 1-23.9 1 10.3 1-.2 1 3.4 1 20.1 1-33.2 1 9.5 1 13.1 1-11.7 1-8.6 1 3 1 18.4 1-27.2 1 33.8 1 1.3 1-19.2 1 3.3 1 1.1 1-8.9 1 7.7 1-27.5 1 4.7 1 8.4 1 2.2 1 13.6 1-3.5 1 6.6 1-9 1 0 1 4.9 1-14.4 1-1 1 2.9 1-9 1 9.7 1 2.9 1-9.2 1 1.8 1 2.7 1 19.1 1 2.2 1-24.1 1 20.8 1-12.8 1-10.9 1 8.5 1-5.3 1-.7 1-7.2 1 16.9 1-19.1 1 10 1 13.1 1 13.6 1-21.1 1 2.5 1 7.1 1-10.1 1 16.5 1-39.9 1 29.1 1-13.2 1 11.3 1 12.8 1-13.9 1-5.1 1 6 1-5.8 1 6.1 1-5.2 1-3.9 1-6.7 1 22 1-9.9 1-10.6 1 .9 1 14.6 1-10.3 1 12 1 10.3 1 23.4 1-31 1 13.9 1-34.4 1 10.4 1 9.4 1 3.2 1-21.8 1 28.9 1-5 1-1.9 1 1.5 1-10.6 1 16.8 1-8.6 1-5.8 1 10 1-17.4 1 7.2 1-.1 1 7.3 1-6.3 1 6.2 1-17 1 1.4 1 18.3 1-5.4 1-8 1 11.2 1 .5 1 7.3 1-6.4 1-13 1 8.7 1 10.7 1-5.4 1-13.5 1 19.7 1-21.2 1 5.4 1-18.2 1 20.5 1 2.2 1-6.1 1 1.9 1-8.1 1 13.2 1-11.7 1 11.8 1-1.9 1-4 1 2.4 1-.6 1-5.1 1-15.1 1 34.2 1 6.8 1-22.1 1-11.5 1 10.6 1-17.6 1 20.5 1 11.6 1-12.8 1 .3 1-27.7 1 17.5 1-10.8 1 32.4 1-19.7 1-2.5 1 9.2 1 5.7 1-4.8 1-15 1 12.1 1 2 1-9.3 1 11.4 1-15.8 1 14.5 1 6.6 1-7.4 1-14.4 1 15.4 1 4.6 1-1.2 1-17.8 1 10.3 1 1.6 1 33.7 1-25.9 1-9.9 1 16 1-15.1 1 2.8 1 18.5 1-3.4 1-10.5 1-11.7 1-24.8 1 34.8 1-11.8 1 22.8 1 .9 1-27 1-.4 1 9.8 1 6 1 9.2 1-25.3 1-9.3 1 20 1-2.5 1 4.1 1 17.3 1-22 1 17.3 1-14.1 1 7.9 1 4.2 1-11.1 1-17.1 1 6.6 1 9.2 1-15.3 1 1.7 1 9.3 1-5.6 1 19.7 1-.4 1-37.2 1 35.5 1-15.2 1 6 1 18.1 1-14.3 1-4.8 1-6.7 1 11.3 1 4.9 1 3 1-15.1 1 28 1-23.5 1 21.8 1-19.5 1 18.3 1-.6 1-27.8 1 7.5 1-.1 1 10.5 1-18.4 1-3 1 48.1 1-25.9 1 5.2 1-11 1 1.9 1 4.9 1-5.1 1-5.9 1-.8 1 19.8 1-24.3 1 15.8 1-6.7 1-3.8 1 12.4 1-14.9 1-19.8 1 34.4 1-8.3 1 2.1 1 8.3 1-14.4 1 15.7 1-18.4 1 28.2 1-40.2 1 13.2 1-3.7 1-11.9 1 2.5 1 11 1-20.9 1 19.4 1 8.5 1-22.2 1 3.3 1-8.1 1 11.1 1 3.2 1-7.7 1 1 1 10.2 1 2.5 1-18.2 1 8 1-2 1-10.3 1 18.4 1 5.9 1-1.7 1-12.5 1 23.4 1-2.5 1-17.2 1 5 1 14.7 1-15.2 1 19.7 1 5.2 1-17.7 1 2.2 1 .6 1 15.6 1-4.6 1-21.1 1-3.3 1 9.1 1 3.9 1-7.3 1 22.4 1-8.9 1 10 1 1.3 1-21.8 1 34.1 1-4.7 1-21.1 1-7.7 1 .2 1 15.3 1-12.6 1 9.4 1 16.8 1-22.2 1-3.7 1 8.4 1-2.1 1-16.2 1-9.6 1 17.5 1-3.4 1-1.8 1 5.3 1 4.2 1-16.1 1 17.6 1-19.2 1 7.1 1 3.6 1 5.5 1 5.2 1-10.1 1-6.4 1 4.9 1-.8 1-12.6 1 7.2 1-4.2 1 6.6 1-23 1 2.6 1-9.3 1 34.9 1-14.2 1 4.6 1-22.6 1 29.2 1-3.6 1 13 1 2.3 1-12.8 1-3 1 2.6 1-4.7 1-2 1 3.6 1 2.7 1-11.2 1 5.4 1 25.7 1-27.6 1 1.4 1 10.2 1-15.9 1 6.3 1-12.5 1 16.1 1-10.1 1-13.2 1 28.6 1 3.9 1-11.4 1 24.2 1-42 1 1.5 1 18.8 1 9.8 1-13.1 1-3.9 1-8.1 1 33.8 1-28.9 1 13.7 1-5.4 1-20.2 1 26.2 1-18.4 1 11.8 1 .7 1-9.3 1 21.8 1-4.6 1-18.1 1 10 1 4.2 1 5.5 1-25.7 1 27.2 1-35.8 1-4.4 1 21.2 1-20.1 1 30.9 1-43.4 1 21.6 1 6.9 1-28.2 1 31.8 1-30.4 1 20.7 1-1.9 1-.4 1 6.9 1-.6 1-19.9 1-1.6 1 11.9 1-21.2 1 35.4 1-18.1 1 30 1-21.3 1-14.1 1-4.8 1 27.3 1-53.8 1 33.2 1 30.4 1-25.9 1 9 1-8.2 1 6.8 1-16.5 1 10.9 1 13.8 1-14.8 1 1.7 1 13 1-2 1-10.1 1-12 1-3.3 1 15.5 1-2.2 1 20.4 1 17 1-17.9 1-25.4 1 2.6 1-15.5 1 22.4 1 .1 1 8.2 1-22.1 1 15 1-3.4 1 12 1-28.4 1 32.9 1-14.8 1-.7 1-13.5 1 12.4 1 6.4 1-6.3 1 5.7 1-15.5 1 14 1-10.4 1-10.7 1 6.1 1 13.5 1 8.2 1-3 1 15.7 1-11.7 1-2.9 1-6.5 1 12.7 1-7 1-21.2 1 21.8 1 .6 1-1 1 34.4 1-25.1 1 2.8 1-2.4 1-12.9 1 8.5 1 .3 1 .3 1-12 1 12.7 1-7.7 1-10.4 1 2.1 1 7.5 1 4 1-14.4 1-3 1 6.9 1 5.6 1 24.8 1-12.1 1-32.2 1 20.7 1 8.3 1 11.2 1-13.2 1 22.9 1-29.1 1 33.5 1-28.2 1 4 1 5.8 1-10.1 1-6.2 1 18.7 1-1.8 1 16.6 1-7.8 1-17 1 14.5 1-15.8 1-9.4 1 16.9 1-3.8 1-.9 1 19.9 1-11.6 1-10 1 5.4 1 9.2 1-27.2 1 30.3 1-2.6 1 3.2 1 10.4 1-.3 1-20.2 1 18.8 1-10.5 1-16 1 13.8 1-1.3 1 7.8 1-14.8 1-.1 1 13.7 1-11.9 1 3.4 1-2.4 1 12.5 1-1.5 1-7.3 1-28.3 1 41.9 1-18.6 1 12.7 1-7.1 1-15.3 1 27.9 1-12.1 1 5.5 1 2.6 1 26 1-32.6 1 2.5 1-3.8 1 4.5 1 7.1 1-6.1 1 5.3 1-2.1 1-.7 1-.4 1 31.1 1-37.9 1 9.9 1-11.4 1 19.1 1 .3 1-9.3 1-9.7 1 20 1 6.2 1-33.3 1 9.7 1 7.6 1 1 1 1 1 7.4 1-11.5 1 3.2 1 8.3 1-11.4 1 20.6 1-14.9 1 10 1-8 1 5.7 1-8.3 1 1.3 1 3.4 1-10.3 1 23.1 1-26.1 1 21.7 1-18 1 14.1 1-4.9 1 8.5 1 19.1 1-5.2 1-33.5 1 5.3 1-10.1 1 10.6 1-17.2 1 18.4 1-21.7 1 33.3 1-22.2 1-10.5 1 7.5 1 6.6 1-15.1 1 31 1-14.4 1-11.8 1-8.5 1 16 1 1.7 1 3.2 1-10.3 1-9.3 1 18.9 1-11.5 1-10.2 1 10.7 1-2.7 1-3.6 1 12.9 1-38.3 1 38.1 1-13.9 1-1.4 1 1.1 1 7.7 1-17.5 1 12.4 1 12.2 1-2.6 1-20.8 1 2.8 1-7.5 1 .5 1 25.4 1 1 1-24.2 1 35 1-5.9 1-8.3 1-11.3 1-1 1 15 1-3 1-22.3 1 19 1-.2 1 13.1 1-24.7 1 5.7 1 1.6 1-.1 1-4.6 1 21.2 1-24.4 1 3.7 1-5.1 1 7.3 1 14.1 1-9.6 1 5.8 1-2 1-8.6 1-17.8 1 21.1 1-2.9 1-2.7 1-2.6 1 2 1-5.6 1-1.3 1 1.1 1 8.5 1 14.8 1-11.8 1-26.4 1 20.3 1 3.2 1 2.5 1-15 1-10.5 1 23.1 1-13.6 1 21.7 1-30.3 1 29.4 1-31.5 1 28.7 1-17.4 1 5.9 1-4.7 1 3.3 1-8.1 1 3.1 1-18.7 1 7.7 1-11.2 1 8.3 1 .7 1-4.3 1 7.3 1-3.8 1-3.6 1 .2 1 1.3 1-17.4 1 .6 1 .3 1-8.4 1 .2 1-8 1-.7 1 9.1 1-10.4 1-10.3 1 5.2 1-6.5 1-10.4 1 .7 1-2.3 1-2.3 1-8 1 2.4 1-10.5 1 5.7 1-10.8 1-3.2 1-6.2 1-16 1 4.6 1-.2 1-9.7 1-11.7 1-12 1 2.8 1-13 1-3.3 1-3.7 1-5.5 1-14.6 1 .9 1-8.2 1-9.8 1-6.4 1-3.4 1-.7 1-14.7 1-.5 1-12.9 1-4.3 1-3.3 1-5.5 1-4.9 1-7.1 1-3.7 1-3 1 .9 1-4.4 1-1 1-.8 1-6.9 1-3.9 1-1.3 1 9.2 1-3.1 1 3 1-.6 1-4 1 4.5 1 .6 1 11.2 1-3.7 1 7.6 1-2.3 1 9.1 1 0 1 1.2 1 12.9 1-3 1 7.2 1 10 1 4.3 1 2.6 1 8 1 11.5 1-2.1 1-1.3 1 21.2 1 0 1 7.2 1 10.9 1 1.3 1 7.3 1 11.8 1 4.3 1 3.2 1 2.9 1 5.4 1 13.6 1 4.4 1-.7 1 10.5 1-4.4 1 16.7 1 3.5 1 .8 1 12.5 1 1.6 1 1.6 1 4.4 1 4.5 1 8.7 1 3.1 1-.5 1 .3 1 7.3 1 6 1-3.1 1 2.8 1 6 1 5.5 1 4.6 1 5.4 1-17.2 1 21.8 1-2.5 1-4.8 1 12.3 1-20.5 1 2.6 1 32.7 1-25.8 1 14.3 1-10.1 1 6.6 1-3.9 1 19.4 1-26.6 1 19.2 1-8.5 1 .4 1 18.6 1-15.8 1 8.5 1 6.5 1-3.1 1 6.4 1 4.9 1-7.3 1-5.2 1 3.4 1-3 1 15 1-16.6 1 11.6 1 4 1-13.5 1-8 1 25.8 1-7.1 1-1.4 1 1.6 1 2.9 1 3 1-4.6 1-4.9 1 12.9 1 2.9 1-13.9 1-13.2 1 32.8 1-1.2 1-.5 1-12.7 1 18.2 1-7.3 1-7.9 1-4.2 1 26.8 1-16 1-1.7 1-10.1 1 19.1 1-10.4 1 21.8 1-17.3 1 3.9 1-14.8 1-4.1 1 3.1 1 4.7 1-9.1 1 2.5 1-2.6 1 19.3 1 4.4 1-17.9 1 25.5 1-11.9 1-4 1 2.4 1 16.7 1-12 1 5 1 21.7 1-36.9 1 .5 1 7.7 1-16.1 1 3.7 1-1.8 1 29.7 1-14.1 1-10.8 1-4.4 1 17.7 1 2.9 1-15 1 15.3 1-17.5 1 20.9 1-7.6 1-8.9 1-12.5 1 16.5 1 4.9 1 15.9 1-26.6 1 3.5 1-8.1 1 15.5 1-8.3 1-8.7 1 7.7 1 .4 1-6.7 1 13.1 1-10.4 1 1.5 1 5.1 1-18.4 1 20.9 1-6.2 1-4.6 1 30.3 1-16 1-14.1 1-8.1 1 9 1 24 1-40.5 1 30.4 1-17.5 1 15.6 1 23.8 1-12.4 1-8.9 1-7 1 12.3 1-18.7 1-1.5 1 13 1 20.6 1-17.3 1 10.5 1-20.3 1 8.7 1-18 1 19 1-9.2 1 21.9 1-6.2 1-.5 1 7.1 1-18.5 1-22.4 1 6.1 1 20.3 1-15.2 1 5.8 1 1.5 1 10.1 1-35.5 1 39.6 1-1.1 1-7.9 1-.8 1 22.6 1-21 1-29.9 1 43.9 1-29.1 1 13.9 1 18.2 1-30.8 1 7.8 1 11 1-10.4 1 11 1-14.9 1 .6 1 4.5 1-1.1 1 6.7 1 5.9 1 4.6 1-31 1 11 1 4.8 1 11.7 1-1.9 1-21.8 1 35.2 1-25.4 1 29.8 1-37.1 1 2.6 1 25.1 1-23.3 1 6 1 12.7 1-6.9 1 17.6 1-31.8 1 10.2 1-10.8 1 17 1 2.5 1-5.2 1-18.7 1 18.5 1-17.5 1 2.9 1 3.4 1 6.6 1 4 1-14.2 1 5.9 1 25.2 1-24.3 1 6.7 1-12.4 1 34.4 1-34.5 1 5.9 1-1.1 1 .4 1 12.8 1-12.9 1 10.9 1 15.3 1-35.4 1 7.5 1-6.1 1 12 1-6.6 1 12.4 1-45.1 1 50.2 1-19.1 1 10.8 1-27.2 1 38.4 1-38.4 1 8.5 1 18 1-14.6 1 3.2 1 33 1-19 1-9.9 1-2.2 1 15.5 1 0 1-12.6 1-19.5 1 15.1 1-21.4 1 16.8 1 19 1 10 1-1.6 1-8.3 1 4.8 1-29.2 1 24.8 1-28.2 1 9 1 14.2 1 23 1-31.7 1-4.2 1 18 1 2 1-22.5 1 15.6 1-10.7 1 17.4 1-3.5 1-3.2 1-2.8 1 6.5 1-15.1 1 30.4 1 4.8 1-13.7 1-22.6 1 33.4 1-37.1 1 25.4 1 .8 1-6.3 1 9.1 1 6.1 1-31.8 1 27.6 1-21.9 1 8.1 1-12.5 1 8 1 4.5 1-5.9 1 7.4 1-6.1 1-.2 1 1.1 1-4.2 1 23.4 1-31.8 1 33.8 1-24.4 1-11 1-3 1 11.1 1 4.8 1 5.3 1 16.7 1-36.5 1 23.8 1 .7 1-20.6 1 17.1 1 12.9 1-4.2 1-21.8 1 24.7 1-14.7 1-3.9 1-2.4 1 14.2 1-9.2 1 6.8 1-10 1 2.6 1 6 1-.2 1-8.1 1 4.3 1-4.5 1 6.1 1-17.4 1 9.4 1 20.1 1-9.8 1-2.7 1-13.8 1 15.7 1-4.4 1-3.2 1 23.9 1-39.2 1 23.9 1 11.1 1 .1 1-5.9 1-4 1-4.6 1 6.2 1-3.6 1-.7 1 1.6 1 12.5 1-13 1-8.1 1-4.7 1 16 1-25.1 1 35.5 1-22.7 1 15 1 11.5 1-8.3 1 9.9 1 11.6 1-18.4 1-23.7 1 31.5 1-12.3 1 9.3 1-1.3 1-25.6 1 27.9 1-26.1 1 7.6 1-14.1 1 34.6 1-20 1 7 1-26.7 1 11.8 1 18.9 1 6.2 1-16.1 1-9.4 1 8.4 1 3 1 2.8 1-5.2 1 16.8 1-25.2 1 16.1 1-2.7 1 7.4 1-27.5 1 13.5 1 6.3 1 6.9 1-8.8 1 8.5 1-10.9 1-4.1 1-11.1 1 27.3 1 26.8 1-57.5 1 14.1 1-6.3 1 14 1 20.7 1-27.7 1 19.2 1-13.2 1-13.5 1 1 1 24.1 1-15.8 1 20.8 1-11.9 1-.6 1-17.7 1 9.4 1-17.5 1 28.1 1-7.8 1 18.9 1-24.2 1 10.2 1-8.9 1 16.8 1-25.1 1 14.6 1-5.8 1-21 1 15.3 1 26.2 1-3 1-14.3 1 19.3 1-12.5 1 3.2 1-8.6 1-9.4 1 8.1 1 17.6 1-19.7 1-28.4 1 35.7 1-10.3 1-24.5 1 27.2 1 0 1 2.8 1 6.7 1-9.4 1 5 1-11.4 1-3.1 1 14.2 1-6.3 1-1 1-3.4 1 10.6 1-16.7 1 8.3 1-1.8 1 28.3 1-12.3 1-3.7 1 19.1 1-37.6 1 21.7 1 8.9 1-15.6 1-3.3 1 0 1 8.5 1-1.2 1-7.6 1 18.2 1 .3 1-6.5 1-29.3 1 21.7 1-3.2 1-12.5 1 18.8 1-18.9 1 22.4 1 1.1 1-12.8 1 19.6 1-34 1 33.3 1-17.2 1-5.5 1-1 1 20.6 1-18.8 1-5.3 1 30 1-26 1 24.1 1-29.6 1 7.1 1-18.4 1 1 1 6.6 1-17.8 1 11 1-6.1 1 4.7 1 17 1-15.6 1-2.6 1-7.6 1 15.7 1-3.5 1 13.7 1-12.6 1 5 1-7.7 1 14.1 1-35 1 21.3 1-16.6 1-6.8 1 16.5 1-9.9 1 21.5 1-7.1 1-11.2 1 .6 1 17.9 1-6.7 1 13.7 1-22.1 1 35.9 1-34.5 1-16.8 1 27.8 1 18.9 1-27.6 1-6.4 1-10.3 1 13.4 1 11.8 1 3.5 1 4.6 1 13.3 1-27.3 1 21.4 1-10.3 1 20.1 1-13.7 1 1.4 1 .3 1-12 1-2.5 1 11.4 1-11.3 1 30.3 1-33.9 1 19.1 1 .8 1-8.8 1 2.2 1 6.6 1 8.8 1-8.7 1 2.4 1-3.3 1 31.1 1-45.5 1-13.2 1 44 1-2.1 1-10.3 1-20.2 1 32.5 1-6 1-1.7 1 7.2 1-22.1 1-6.1 1 14.4 1-3.3 1-6.4 1 9 1-15.5 1 12.5 1 12.6 1-27.8 1 6.6 1-1.9 1-8.4 1 23 1-5 1-9.9 1 18 1-12.8 1 8.1 1-7.3 1 9.9 1 8.4 1-26.9 1 16.1 1-4.7 1-2.3 1 4.6 1-4.3 1 19.8 1-15.4 1-.5 1 22.3 1-11.1 1-14.2 1 3 1 6.1 1-4.9 1-3.5 1 5.4 1-7.6 1 27.2 1-2.7 1-23.5 1 19.4 1-13.8 1-8.8 1 11.7 1 10.6 1 6.2 1-16.3 1 .6 1 10.6 1 3 1-31.5 1 32.8 1-26.5 1 25.3 1 5.2 1-16.8 1-9.5 1 4.7 1 17 1-23.2 1-10.5 1 25.2 1-6 1-7.6 1 17.9 1-1.2 1-9.2 1-3.4 1-6.7 1 6.3 1-24.2 1 8.5 1 8.1 1 12.7 1-29.3 1 20.2 1 13.2 1-9.8 1-9.6 1 23.5 1-2.8 1 1.6 1-14.5 1-5.2 1-8.8 1 9.3 1 1.8 1 3.2 1 12.9 1-10.9 1-1.5 1-13 1 1.1 1 9 1 6.5 1-.3 1-8.9 1-.2 1-21.1 1 48.8 1-25.7 1-12.8 1 .4 1 13.4 1-7.1 1 8.4 1-18.3 1 15.3 1 16.2 1-21.8 1-4.4 1-.8 1 3 1 5.8 1 17.3 1-1.5 1-30.2 1 15.6 1-11.3 1 11.4 1-6.8 1 16.3 1-8.5 1 16.1 1-11.8 1 16.3 1-17.3 1-11.3 1 28 1-20.2 1-20.4 1 27.7 1 8.4 1-22.9 1 6.6 1 10.4 1-7.1 1-.3 1-18.8 1 5.4 1-2.8 1 26.4 1-7.2 1-4.3 1 13.1 1 7.5 1-16.8 1-16.1 1 12.2 1-23.3 1 17.4 1 6.8 1-18 1 21.6 1 6.9 1-16.6 1 .6 1 16.5 1-4 1 9.3 1-1.6 1-29.1 1 8.2 1-5.3 1 9.1 1-15.4 1 16.7 1-1.9 1 10.9 1 9.4 1 1.7 1-45.4 1 28.5 1-2.7 1-16.9 1 34 1-22.7 1 11.7 1 5.1 1-14.8 1 21.3 1-42.7 1 37.3 1-29 1 25 1-21.5 1 7.2 1 13.4 1 .8 1 10.5 1-2.7 1-29 1 7.5 1 13 1-7.6 1-9.8 1 10.1 1 6.5 1 1.5 1 6.9 1-26.2 1 8.7 1 5.9 1-20.9 1 8.6 1 2.9 1-9.2 1-2.4 1 30.5 1-31.1 1 29.1 1-4.1 1-16.5 1 18.3 1-16.2 1 4.2 1-1.8 1-.8 1 19.2 1-9 1 5.2 1-2.9 1 31.6 1-45.8 1 18.3 1 12.2 1-24.8 1 7.5 1 18.7 1 5.1 1-6 1 8.6 1-19.9 1-2.8 1 11.1 1 5.4 1-26.3 1 29.7 1-19.8 1-13.6 1 26.6 1-19.8 1-7.5 1 16.6 1-14.8 1-5.9 1 23.2 1-29 1 11.9 1 10.3 1-8.8 1-16.7 1 4.1 1-3.1 1 12.5 1-21.1 1 30.4 1-25.9 1-.4 1-12.6 1 11.5 1-8.3 1-3.6 1-10.9 1 22 1-13.2 1-12 1 1.4 1 7.2 1-8.8 1 .3 1-12.6 1 9.4 1-17.6 1 4.6 1-11.7 1 7.2 1-3.4 1-5.7 1-1.5 1-2.3 1-12.1 1-1.3 1-6.4 1 4.7 1-17.4 1-.7 1-2.5 1-3.2 1 3.3 1-14.7 1-1.2 1-3.2 1-1.9 1-7.6 1-3.1 1-5.3 1-3.4 1-4.7 1-11.9 1 3.6 1-5.5 1-4.3 1-.6 1-1.7 1-1.7 1-8 1-4.1 1-1.4 1-9.4 1 2.1 1-5.1 1 11.7 1-6.1 1-3.4 1 3.6 1-.8 1-3.9 1 3.3 1-2.1 1 4.4 1-5.1 1 3.4 1 2.9 1 4 1-4.1 1 7 1-1.6 1 6.4 1-4.7 1 1.8 1 10.9 1 5.8 1-.8 1 17.7 1-9.5 1 4.2 1 8.2 1 2.3 1 8 1-1.3 1 11.9 1-4.7 1 7.1 1 6.1 1 1.3 1 10.3 1 2.6 1 7 1-3.3 1 7.4 1 4.8 1 7.8 1 1.1 1 5.5 1 4.1 1 6.4 1-.7 1-6.1 1 9.1 1 14.7 1-8.1 1 9.1 1 10.7 1-10.4 1 3.4 1 0 1 15.2 1-5.6 1-4.7 1 5 1 .5 1-3.5 1 19.5 1 5.6 1 8 1-17.6 1 15.1 1 15.2 1-40.3 1 11 1 2.4 1 29.9 1-13.4 1-3.4 1-1.1 1-2.4 1-4.5 1 8.8 1-9.3 1 20.7 1-3.9 1 2.1 1 17.4 1-6.9 1-4 1-.3 1-8.6 1 15.2 1-8.7 1-6.9 1 3.3 1 4.7 1-10.4 1 16.9 1 20 1-42 1 5.7 1 4.6 1 4.4 1-9.4 1 21 1-14 1 13.8 1-2.3 1-12.7 1 10.4 1 21.1 1-30.3 1-3.7 1 33.4 1-26.3 1-8.2 1-11.6 1 30.2 1-3.6 1-22.4 1 23 1-22.9 1 28.6 1 7.6 1-12.3 1 15.6 1-35.6 1-3.9 1 35.2 1-28.4 1 15.8 1 22.9 1-12.7 1-10 1 .7 1 15.5 1-22.7 1 13.6 1-1.9 1 1.4 1-5.2 1-6.7 1-8 1 29 1-15.5 1 16 1-5.6 1-32.3 1 32 1-10.4 1 12.5 1-21.2 1 21.7 1 11.4 1-44.1 1 19.9 1 4.1 1 7.6 1-.5 1-18 1 10.1 1 8.1 1-19.7 1 9.9 1-4.2 1 3 1-23.1 1 30.5 1-9.5 1 10.5 1 1.5 1-1.5 1 .2 1 .1 1 7.4 1-22.5 1-16.6 1 20.7 1 1.2 1 7.9 1-5.8 1-7.1 1 15.7 1-14.4 1-14 1-8.7 1 17.3 1 32.1 1-25.9 1-5.8 1 7.2 1-20.4 1 38.1 1-33 1 1.4 1 6.3 1 21.2 1-3.2 1-4.9 1-1.7 1-29.2 1 40.2 1-12.7 1-11.5 1-6.2 1 17.9 1-20.2 1 8.7 1 27 1-28.8 1 8.4 1-4.1 1 16.6 1-22.5 1 18 1 1.3 1-6.3 1-10.2 1 12.7 1-19.3 1-17.7 1 33.7 1-18.4 1 10 1 3.5 1 13.3 1-32.1 1 29.4 1-10.3 1-8.8 1 1 1 4 1 10.7 1-6.8 1-15.5 1-.3 1 10.2 1-15.8 1 39.7 1-3.1 1-22.7 1 10.2 1-30.1 1 53.8 1-46.1 1-2.5 1 49.9 1-37.6 1 13.9 1-21.5 1 12.5 1 7.8 1-2.4 1-4.5 1 .4 1 2.1 1 4.5 1 10.5 1-23.6 1 3 1-4.5 1 4.7 1 .9 1 6.7 1-7.7 1 29 1-16 1-2.8 1 5.5 1-11.5 1 20.6 1-30 1-.2 1 18.6 1-3.1 1-5.6 1-5 1 1.7 1 32.4 1-15.3 1-38.2 1 37.4 1 3.1 1 .3 1-17.4 1 12 1 10.4 1-12.4 1-7.9 1 4.6 1 10.6 1-22 1 22 1-19.6 1 11 1-7 1 7.8 1-13.8 1 7.2 1 4.8 1-13.1 1 1.3 1 28.6 1-9.8 1-6.2 1 1.6 1-6.3 1 11.9 1-3.7 1-12.6 1 6.9 1 2.3 1 2.2 1-18.5 1 24.5 1-10 1 8.6 1-12.1 1-9.6 1-3.6 1-5.9 1 14.3 1 15.2 1 14.5 1-21 1-13.1 1 17.4 1-3.6 1 7.4 1-20 1 16.5 1-10 1 18.8 1-18 1 10.6 1 1.9 1 11.2 1-19.4 1-1.8 1-7.1 1-7.7 1 22.7 1 5 1 4 1-6.6 1 26.5 1-13.4 1-9.8 1-2.2 1 2.8 1-22.9 1 16.7 1-7.6 1 2.2 1 1.1 1 4.1 1-13.1 1-1.4 1 .6 1 21.7 1-16.3 1-6.5 1 23.4 1-9.3 1-1.8 1 0 1-21.7 1 10.7 1-5 1 2.6 1 14.1 1 28.1 1-15.4 1 2.4 1-31.6 1 26.5 1-12.4 1-12.5 1 4.4 1 16.3 1 28.6 1-37.6 1-1.4 1 14 1-20.6 1 19.2 1 1.8 1 4.4 1-16.6 1-6 1-12.9 1 39.7 1-51.2 1 31.9 1-.1 1-5.6 1 16.1 1 12.8 1-26.2 1 9.2 1 .1 1-11.6 1 3.2"/>
<path transform="translate(224.30 0) scale(0.64560 1)" vector-effect="non-scaling-stroke" fill="none" stroke="#00ac64" stroke-width="6" stroke-linejoin="round" stroke-linecap="round" d="M0 1446.4 l1-45.1 1 31.4 1 20.7 1-31.9 1 15.3 1 17 1-31.6 1 23.4 1 12.7 1-17.1 1 13.9 1-20.9 1-3.4 1 10.4 1-22.5 1 30.1 1-12.6 1-15.8 1 28.6 1-5.3 1-11.9 1-3.5 1 11.9 1-23 1 5 1 29 1-10.9 1 10.8 1-12 1 17.8 1-32.2 1 27 1-2.7 1 2.8 1 5.5 1-22.9 1 4.8 1 23.7 1-8.4 1-3.2 1-28.4 1 39.8 1-16.7 1 5.1 1-31.3 1 24.5 1-31.3 1 37.1 1-9 1 2.8 1-14.4 1 15.6 1-5.4 1-18.4 1 23.8 1-5.9 1-14.8 1 29.7 1-28.3 1 7.4 1-13.5 1 2.2 1 25.8 1 23.6 1-35.8 1 4.3 1-.5 1 16.2 1 16.5 1-24.3 1-6.4 1 14.1 1-3.7 1-11.4 1 3.8 1-11.7 1 11.6 1-18.3 1 34.2 1-.3 1-43.5 1 0 1 14.1 1 8.5 1 14.5 1-18.1 1 17.1 1-32.7 1 15.6 1 1.1 1-11.3 1 1 1 19.3 1-4.2 1 7.6 1-37 1 44 1 3.4 1 3.6 1-27.3 1-7.9 1 15.3 1-5.5 1 9.8 1-41.2 1 24.5 1 7 1-15.8 1-.5 1 35.1 1-15.8 1-19.3 1 33.5 1-26.5 1-6.7 1 .9 1 2.3 1 14.3 1-7.6 1 3.5 1-9.4 1 13.5 1-17.2 1 13.7 1-18.1 1 26.7 1-4.5 1-11.9 1 5.4 1-9.6 1 2.1 1 7.9 1 10.1 1-34 1 16.9 1 13.4 1-23.7 1-1.5 1 28.7 1-17.9 1 29.2 1-12.6 1-8.9 1-2.3 1 .1 1-1.1 1-2.2 1-11.3 1 11.3 1 10.7 1-16.5 1-.6 1 5.6 1 30.4 1-2.7 1-8.9 1-13.6 1 19.7 1-33.3 1 31.5 1-6.3 1 27.5 1-19.6 1-12.5 1 9.2 1-11.2 1 15.1 1-10 1 15.4 1 3.4 1-25.5 1 32.3 1-50.9 1 18.3 1 26 1 .4 1 14.3 1-26.4 1 1.9 1 11.4 1-17.5 1 13.9 1-14.2 1 1.9 1 15.8 1-3.9 1-18.2 1 27.6 1-35 1 22.4 1 3.9 1-15.5 1-10 1 2.3 1 14.4 1 19.2 1-25.5 1-20.7 1 16.1 1-14.9 1 36.9 1-9.7 1-1.1 1-32.3 1 5.4 1 4.5 1 11.8 1-.2 1-4.4 1 19 1-25.9 1 27.4 1-7 1-18.8 1 6.2 1 28.6 1-18.8 1-20.3 1 13.4 1-3 1 12.6 1-17 1 18.3 1-14.2 1-3.8 1 20.2 1-8.9 1-26.1 1 23.2 1-2.4 1 4 1 10 1-33 1 25.7 1-12.5 1 14.4 1-21.5 1 13.4 1 16 1-19.3 1 9.7 1-41.5 1 17.2 1 1 1 9.3 1 .4 1 11.3 1-22.3 1 37.7 1 1.1 1-32.9 1 17.4 1 14.3 1-27.1 1 7.2 1 10.7 1 1.4 1-11.3 1-4.1 1 8.1 1-7.5 1 15.1 1-15.8 1-2 1-5.5 1 32.1 1-26.9 1-9.9 1 22.6 1-13.4 1 14.5 1-8.8 1 2.2 1-.3 1 3.8 1-5.8 1-8.5 1 13.9 1 2.8 1-25.9 1 15 1 8.7 1 5.7 1 11.6 1-9.4 1-2.5 1-7.9 1 3.3 1-5.3 1 8.1 1-32.2 1 22.9 1 21.9 1-27.6 1-10 1 9.7 1 5.4 1 13.8 1-36.2 1 20.4 1 18.2 1-10.2 1-15.2 1 25.6 1-14.4 1-2.5 1 2 1-7 1 17.7 1 2 1-10.9 1 6.2 1-8.4 1-4.5 1 5.4 1-5.8 1 3.4 1-.9 1 19.2 1-37.6 1 14.7 1 13.8 1-17.4 1 6 1 2.4 1-1.7 1 3.1 1-11.1 1 3.6 1-7.2 1 8 1-5 1-9.6 1 17.6 1 2.4 1 1.7 1-1.4 1 8.2 1-5.2 1-1.8 1 11.4 1-11.5 1-11 1 19.1 1-7.9 1-20.2 1 14.1 1-7.4 1 16.9 1-7.6 1-20.1 1 9.8 1 27.8 1-14.9 1 1.5 1-5.3 1 4.3 1 12.5 1-9.4 1-8.8 1 4.9 1 17.2 1-11.6 1-8.6 1 19.9 1-31.8 1-14.1 1 23.6 1 5.3 1 1.4 1-21.4 1 16.6 1-5.1 1 17.8 1-1.1 1-10.6 1-12.8 1 16 1-4.5 1-1.2 1 2.3 1 9.9 1-23.2 1-5.2 1 18.3 1 3.7 1-5.7 1-21.5 1 17.7 1-4.4 1 6.9 1 1.7 1-14.4 1 6.5 1-4.3 1 7.5 1 15.1 1-24.4 1 18.1 1-1.2 1-13.8 1 21.6 1-39.3 1 51.4 1-6.1 1-17.7 1-8.5 1 3.1 1-3.7 1 35.3 1-34.8 1 19.3 1-21.6 1 18.7 1 5.9 1-10 1 18.9 1-13.7 1 8.7 1-9 1-10.5 1 10.4 1 7.6 1 4.9 1-16 1-5 1 8.2 1-4.8 1 6.2 1-3.8 1 8.7 1 3.4 1-19.5 1 14.3 1-9.3 1 17.4 1-20.6 1-2.1 1-4.9 1 11.2 1 3.4 1-10.5 1 9.9 1-30 1 30.7 1-2.1 1-24.9 1 41 1-11.1 1 1.4 1 5.8 1-20.3 1-7.8 1 36.9 1-30 1-15.1 1-.9 1 48.5 1-23.8 1 2.7 1-1.6 1 3.1 1 17.9 1-28.9 1 17.8 1-10.2 1-8 1-3.9 1 8.7 1-6.2 1 19.1 1 9.2 1-14.8 1-12.6 1-9.5 1 3.9 1 22.5 1-2.3 1 6.8 1-27.3 1 10.7 1 15.2 1-11.2 1-16.7 1 1.9 1-8.3 1 2.4 1 32 1-30.4 1 30.3 1-4.3 1-8.2 1-14.5 1 34.8 1-15.1 1 2.5 1-12.7 1-18.4 1 24.2 1 2 1-25.1 1 16.2 1 2.9 1-18 1 17.1 1-1.7 1 5.1 1-5.8 1-3.6 1 2 1-3.4 1 23.6 1-12.6 1-13.2 1 6.8 1 13.8 1 3.3 1-24.2 1 18.8 1-1.6 1-.8 1-16.9 1 25.3 1-20.1 1-7.9 1 40.4 1-21.9 1 1 1 21.6 1-48.4 1 11.8 1-14.8 1 18.5 1 25.6 1-14.4 1 3.2 1-17.1 1-1.5 1-.4 1 34.9 1-23.2 1 7.6 1-30.9 1 29 1-24.6 1 15.8 1 10.2 1-2.1 1 3.3 1-17.4 1-1 1 15.8 1 10 1-15.7 1 1.7 1 .8 1-5 1 6.2 1-8.9 1 4.4 1 10.7 1-21.7 1 12.4 1 1.2 1 1.4 1-7.4 1 8.8 1 6.1 1 5.1 1-34.3 1 27 1-8.9 1 21.7 1-28.8 1 7.8 1 8.3 1-27 1 45.9 1-10.9 1-14.8 1-12 1 19.7 1 4.7 1 .4 1 .2 1 6.8 1-2.6 1-46.5 1 56.4 1-7.1 1-20 1 7.6 1 10.1 1-26.1 1 38 1-27 1 5 1-11.9 1 14.1 1 17.1 1-4.5 1-17.7 1-23.2 1 21 1-5.7 1 8.4 1-14.2 1 31.7 1-11.6 1-9.6 1-.3 1 4.5 1 8.3 1-24 1 6.9 1 5.8 1-3.3 1 12.3 1-10.3 1 13.6 1-21.1 1-6.3 1 10.6 1-25.2 1 20.4 1 16.6 1 8 1-32.5 1 13.3 1 7.1 1-26.9 1 31.8 1-2.6 1 4.9 1-1.2 1-19.9 1-7.1 1 18.1 1 1.5 1 35.8 1-56 1 1.8 1 13.6 1-7.1 1-10.9 1 6.7 1 22.2 1-13.4 1 9.1 1-8.1 1 27.4 1-34.8 1 13.2 1-14.3 1-4.3 1-2.4 1-2.4 1 7.1 1-.7 1-6.5 1 3.5 1 14.9 1-18.8 1 26.9 1-3.7 1-8.6 1-3.8 1 18.9 1 .4 1 8 1-5.4 1-15.8 1-15.2 1 7.7 1-16.1 1 18.3 1 .9 1 11 1-14.4 1 19.5 1-3.1 1-12 1 4.6 1-3.7 1 2.4 1-4 1-5.3 1 4.6 1 13.5 1-17.4 1 .8 1 9.3 1 25.3 1-16.1 1-7.3 1 11.1 1-5.4 1-35.7 1 32.7 1 6.9 1 4.3 1-2.8 1 .4 1-29.3 1 14.2 1 7.2 1 20 1-29 1 19.3 1 2.6 1 7.6 1-10.3 1 8.7 1-13 1-15.4 1-4 1 24.2 1-21.6 1 35.9 1-8.8 1-6.6 1-7.9 1 4 1 11.6 1-6.4 1-16.7 1 31.5 1-19.7 1-4.3 1 7.1 1-1.8 1 18.7 1-15.5 1-6.4 1 4.5 1 2.6 1-15.6 1-7.2 1 12 1 7.2 1-20.5 1 1.2 1 12.2 1 7.1 1 3.8 1-17.9 1 20.9 1-29.6 1 15.3 1 1.8 1 25.5 1-13.8 1-25.2 1 22.3 1-11.8 1 3.4 1 12.3 1-16.3 1-9.7 1 10.5 1 4.9 1-4.3 1-9.8 1 5.2 1 1.2 1 1.6 1 9.8 1 4.4 1-17.1 1-10.6 1 19.2 1-14 1 24.8 1-11.9 1 3.5 1-34.4 1 24.7 1 9.7 1-24.3 1 15.4 1 15.8 1-6.3 1-19.7 1 23 1-1.4 1 .1 1-4.3 1-.2 1-6.3 1-4 1-12.6 1 26 1-1.7 1-4.4 1 6.2 1 1.6 1-16.4 1 9 1 6.6 1 12.1 1-21.9 1 5.9 1-9.8 1-.4 1 22.3 1-43.7 1 39.5 1-20.5 1 2.4 1 5.3 1 .7 1 6.2 1 3.1 1 .6 1-31.6 1 18 1 3.7 1 .4 1-22.2 1 34.3 1-6.7 1-12.1 1 35.4 1-47.5 1 9.2 1 1 1 9.2 1-14.7 1 .4 1 21.2 1-15.7 1 14 1 5.5 1-19.3 1-7.4 1 5.7 1 12 1 7.8 1-9.2 1-17.6 1 17.9 1 17.8 1-1.3 1-26.1 1 11.5 1 2 1-22.6 1 23.6 1-24.9 1 2 1 8.8 1-7 1 19.1 1 3.3 1-11.3 1 3.8 1 12.9 1-5 1 21.2 1-8.2 1-36.9 1 17.8 1-6.4 1-5.9 1 28.8 1-12.5 1-14 1 32.2 1-.3 1-20.8 1 10 1-13.6 1 6.1 1-18.3 1 13.9 1 6.7 1-12.1 1 26.4 1-29.6 1 15.3 1-.8 1-22 1 32.7 1-12.1 1 9.9 1-10.4 1 1.6 1 16.4 1-21.1 1 3.5 1-11 1 9.3 1-5.4 1 1 1 15 1-21.8 1 6 1-5.5 1 32.8 1-29.8 1-4.5 1 5.3 1-20.2 1 35.5 1-30.1 1 .4 1 17.1 1-21.8 1 30.2 1-14.5 1 13.3 1-38.6 1 18.4 1 7.9 1-15.3 1 28.5 1-17.9 1-5.9 1 5.4 1 7.4 1-11 1 .2 1-4.3 1 9.4 1-5.9 1-1.6 1 14.6 1-17.7 1-9.3 1 9.6 1-4.1 1-3.5 1 18 1-7.8 1 1.2 1 15.7 1-8.8 1-4.6 1-7.3 1 16.7 1-16.1 1 21.7 1-3.1 1-15.4 1 10.9 1 1.8 1-7.9 1 5.5 1 11.2 1-35.1 1 24 1 3 1 0 1-12.5 1 5.2 1 2.5 1 24.5 1-29.7 1 18.7 1 4.2 1-12.8 1 24.3 1-25.3 1-6.7 1 4.6 1 8.5 1 8.6 1-23.7 1 1.6 1 24.9 1-5.6 1-14.8 1-7 1-6.1 1 9.2 1 21.2 1-16.5 1 21.8 1-13 1-16.5 1 27.1 1-10.3 1-1.1 1 9.4 1-15.6 1 43.6 1-43.7 1 6 1 1.7 1 22.8 1-17.6 1-15.5 1 24.1 1-14.4 1 1.6 1-6.9 1 24.1 1-9.2 1-12 1 3.4 1 15.7 1-27.6 1 29 1-34.7 1 28.5 1-9.7 1 10.2 1-7 1 25.6 1-27.4 1-3.4 1 7.3 1-12.4 1-7.9 1 12.9 1 3.6 1-11.6 1 17.8 1-10.8 1 18.6 1-6.7 1-36 1 29.3 1-.4 1-19.9 1 26.1 1-26 1 12.2 1-.7 1 23.2 1-30.4 1 18.7 1-9 1 .2 1-16.8 1 54.3 1-57.7 1 14.8 1 20.3 1-17.7 1 7.1 1-12 1 16.7 1-.7 1 .4 1-13.7 1 .7 1 1.4 1-25.9 1 26.3 1 24.7 1-33 1 25.7 1-10.9 1-1 1-15.7 1 32.9 1-23.6 1 11 1 6.4 1 6.1 1-9.9 1-1.8 1-3.9 1 17.9 1-32 1 12.9 1-1.1 1 8.1 1-1.8 1 3.4 1-15.6 1 2.6 1 15.6 1 12.2 1-24.7 1-6.2 1 16.1 1-8.6 1-20.6 1 34.1 1-17.3 1 10.9 1-18.4 1-11.1 1 20.6 1 .8 1 3.5 1-1.8 1 16.3 1-8.6 1-7.2 1-10.6 1-9.6 1 21 1-7.6 1 2.8 1-9.1 1 8.4 1 1.3 1-2 1-2.6 1-5.3 1 14.5 1-1.4 1-20.4 1 4.8 1 .3 1 1.3 1-.4 1-4.4 1-8.7 1 35.1 1-22.7 1 6 1 17.1 1-8.1 1 9 1-24.5 1 10.2 1 11.4 1-14 1-7.3 1 13.5 1 10.3 1-34.4 1 29.6 1-4 1-19.9 1 6.5 1 11.4 1-29.5 1 21.4 1 4.3 1-6.8 1 .7 1-22.7 1 7.4 1 13.4 1 34.5 1-29.2 1 4.3 1-4.1 1 7.1 1-21.8 1 40.3 1-33.7 1-11.9 1 14.1 1 6.9 1-.3 1-18.5 1 20.9 1-9.1 1 23.8 1-22.3 1 22.4 1-37.4 1 20.2 1 19 1-7.5 1-4 1-7.4 1 5.4 1 4.7 1-28.6 1 25.9 1 .3 1-18 1 17.6 1-19.1 1 4.2 1 14.6 1-37.8 1 21.1 1-7.4 1 8.8 1-7.4 1 8.1 1 6.9 1 6.3 1 .3 1 10.5 1-2.5 1-.5 1-17.2 1 5.5 1 8.4 1-27.3 1 12.8 1 4.3 1-2.5 1 5.3 1-.6 1 20.1 1-24.8 1-14.5 1 3.3 1 3.2 1 13.8 1 9.5 1-5.2 1-16.1 1 16.9 1 15 1-25.5 1 1.6 1 12.2 1-3.9 1-19 1-19.2 1 14.4 1 32.5 1-32 1 17.8 1-2 1-6.6 1-7.7 1 9.8 1-1.1 1 22.3 1-13.1 1 29.5 1-16.4 1-9.5 1-22.7 1 17.6 1-6.7 1 9.8 1-9.4 1 1 1 29.3 1-22.7 1 3.5 1-7.3 1 7.9 1 19.7 1-35.4 1 14.7 1-5.1 1 13.6 1-25.2 1 34.4 1-10.1 1-3.7 1-15.1 1 13.5 1 19.5 1-12.4 1-17.9 1-1.5 1-4.3 1 30.4 1-24.9 1 3 1 9.9 1-25.5 1 20.5 1 12.8 1 6.4 1-10.9 1-15.4 1 14.7 1-7.6 1 .6 1 8 1-26.7 1 2.7 1 38 1-36.2 1 12.3 1-20.4 1 21 1 3.2 1-23.3 1 33.6 1-19.2 1 27 1-36.2 1 15.6 1 13.6 1-3.4 1 2 1-6.6 1-9.7 1 8.5 1-4.9 1-12.4 1 13.9 1 5.3 1-3.3 1-41.6 1 31.6 1 .1 1 3.2 1 5.6 1 3.7 1 0 1-8.6 1 11.7 1-25 1 13.4 1 16.9 1-15.1 1-16.1 1 11.2 1-2.7 1-11.6 1 13 1 6.5 1-20 1 19.8 1-36.6 1 20.6 1 11.9 1 .1 1 5.9 1-13.9 1-4.2 1-19.2 1 17.6 1-4.5 1 24.1 1-4.2 1-5.8 1 10.3 1 5.6 1-8.6 1-15.1 1-4.2 1 19.6 1 16 1-19.3 1-13.9 1 13.4 1-16.5 1-10.2 1 23.8 1-10.4 1 24 1-51.2 1 27.9 1 8.4 1-6.2 1 4.1 1 16.2 1-31.8 1 2.4 1 .1 1 27.2 1-17.4 1 6.5 1-18.9 1 4 1 11.6 1 37.8 1-43.2 1-4 1 22.6 1-4.8 1-36.8 1 35.5 1-13.4 1 12.7 1-5 1 18 1-16.4 1-10.4 1 15.9 1-23.9 1-4.3 1 22.8 1-17.7 1 21.7 1-4.1 1-3.5 1 11.2 1-3 1-5 1 1.7 1-1.7 1-2.8 1-19 1-19.9 1 11.5 1 9.6 1 17.3 1-27.3 1 15.4 1 1 1 4.6 1 4.6 1-9.1 1 1.3 1-23 1 15.4 1-.4 1 25.7 1-3.2 1-1.7 1-14.2 1-3.7 1-8 1 5.7 1-16 1 11.8 1-1.8 1 7.8 1 46.8 1-24.9 1-29.4 1 28.9 1-25.3 1-5.3 1 14.7 1-6.8 1-6.4 1 8.3 1 4.6 1 27.6 1-36.9 1 7.2 1 21.1 1-24 1 3.7 1-7 1 9.7 1 5.6 1-12.8 1 27.6 1-34.2 1 11.1 1-1 1 3.5 1-15.9 1 7.5 1 7.6 1 12.5 1-4.3 1-7.6 1-.9 1 22.4 1-21.8 1 3.6 1-.8 1 2.1 1 1.2 1-6.2 1 13.7 1-2.9 1-6.1 1 19.1 1-36.1 1 15.7 1 7.3 1-18 1 15.6 1-8.7 1-10.5 1 21.8 1-19.2 1 4.2 1 4.6 1-4 1-.3 1 4.3 1-1.7 1 19.6 1-14 1 19.1 1-20.9 1 16.9 1-20.3 1-9.3 1 16.8 1-20.8 1 36.3 1-6.7 1-2.4 1-7.8 1 5.2 1-4.3 1 23.9 1-14.7 1-11.9 1-2.5 1 19.8 1-10.7 1 12.3 1-10.9 1 7.8 1-37.6 1 32.1 1-15.1 1 18.5 1 .3 1-5.1 1-7 1-.2 1 0 1-.7 1-18.1 1 20.9 1-4.8 1-8.2 1 19.4 1-19.3 1 10.6 1 5.2 1 10.5 1-24.1 1 7.4 1-27.8 1 17.7 1-5.5 1 9.2 1-23.5 1 27.9 1-2.9 1 8.1 1-13.4 1-1.5 1 1.2 1 6.6 1-24.3 1 31 1-18.2 1-17.2 1 25.8 1 19 1-30.4 1-5 1-19.2 1 10.9 1 24.7 1-12.4 1 14.8 1-13.7 1 15 1-16.3 1 24.3 1-22.1 1 32.8 1-31.5 1 .4 1 21 1 4.8 1-32.5 1-7.1 1 34.3 1-20.5 1-8.8 1 29.6 1-33.3 1 18.5 1 6.1 1 4.1 1 2.2 1-23.6 1 16.1 1-.3 1 13.5 1-12 1-19.9 1-2.3 1 8.9 1 33.5 1-29.5 1-10.7 1 13.8 1 9.5 1-8 1-7.8 1 22.9 1-7.8 1 .7 1-26.5 1 2.5 1 .2 1 6.6 1 1.8 1-19.1 1 4.1 1 14.4 1 2.3 1 16.5 1-20.9 1 11 1-35.2 1 27.9 1-23.1 1 7.6 1 12.1 1 0 1-9.1 1 16.4 1-28.7 1 14.8 1 8.8 1-7.8 1 8.9 1 21.4 1-29.4 1 5.5 1-9.1 1-3.4 1 13.1 1 14.2 1-20.4 1 23.2 1-8.9 1-16.9 1-2.2 1 2.4 1 19.4 1-6.7 1 17.5 1-15.5 1 5.7 1 7.4 1 13.9 1-40 1 30.7 1-12.3 1 9.8 1-13.6 1 20.9 1-25.1 1 15.2 1 .8 1 7.2 1-25.9 1-5 1 40.8 1-5.7 1-17.3 1 3.4 1-13.9 1 35 1-37.7 1 23.9 1-5.7 1 13 1 1.6 1-26.2 1 1.7 1 14.7 1-22 1 30.9 1-5 1-29.6 1 43.7 1-30.2 1 20.2 1-22.2 1 29.1 1-20.5 1-6.6 1 22.2 1-17.4 1-6.8 1 .6 1 13.3 1 1.8 1-9.9 1-.7 1 5 1-7.9 1 22.6 1-.1 1-24.7 1 3.2 1 37.4 1-23.1 1-18.2 1 13.3 1-8.9 1 2.8 1 16.7 1-20.9 1 .4 1 4.2 1 6.9 1-7.8 1 26.2 1-31.2 1 20.1 1-23.8 1-3.2 1 12.9 1-.4 1-20.3 1 10 1 23.1 1 6.4 1 5.4 1-4.5 1-24.1 1 11.5 1-.8 1-7.7 1 16.1 1-9.4 1 13.1 1-1.6 1 2.7 1-5.6 1-14.3 1-1.6 1 14 1-3.3 1 13.3 1-27.3 1 26 1-8.6 1-18.6 1 27.5 1-6.3 1-9 1-2.6 1 20.9 1-21.5 1 27.8 1-21.7 1 8.1 1-3 1-.9 1 2.6 1-16 1 27.7 1-7.7 1-2.8 1-6 1-1.1 1 14.8 1-16.2 1-4.3 1-5.7 1-6 1 25.2 1-6 1-20 1 16 1 1.9 1 14.6 1-13.2 1 6.2 1 20.7 1-48.1 1 36.5 1-13.4 1-3.1 1-12.2 1 6.5 1 13.3 1-21.8 1-1.5 1 26.9 1-15.3 1-.9 1-11.9 1 13.3 1 .3 1-.2 1-.3 1 4.2 1 7.3 1-21.5 1 12.7 1 2.7 1-8.1 1 1.7 1-12.2 1-1.2 1 10.2 1 5.8 1 6.8 1 13.4 1-14.7 1 7.1 1-19.7 1 3.7 1-3.4 1-4.3 1 23.9 1-21.6 1 3.5 1 13.5 1-16.6 1 7.2 1 4.4 1 2.9 1-8.8 1-13.3 1 3.9 1 4.2 1-8.1 1-5.1 1 19.1 1 8.2 1-17.9 1-20.5 1 43.1 1-28.2 1 2 1 2.6 1-9.4 1 16.7 1-6.2 1 1.5 1-6.8 1-5.5 1 10.3 1-20.7 1 .2 1 9.5 1-2.4 1-13.4 1 .8 1-.8 1 16.6 1-18.1 1-5 1-3.5 1 11.2 1-10.6 1 3.5 1 12.2 1-12 1-17.8 1 16.3 1-17 1 3.6 1 5 1-11.8 1-6.1 1 8.7 1-20.5 1 7.2 1 1.5 1-4.6 1-11.9 1 4.7 1 .1 1-16.4 1 4.5 1-3.5 1 .5 1-6.3 1-10.9 1-5 1-.2 1-14.3 1 7.1 1-4.4 1-6.5 1-10.4 1-6.9 1-7.6 1-2 1-.8 1-10.4 1-7.7 1 0 1-9.9 1-4 1-9.7 1 .9 1-7.9 1-12.6 1 3.6 1-11.2 1-1.8 1-7 1-14.3 1 0 1 6.9 1-14.1 1-6.1 1-4.2 1-5.1 1-.2 1 3.3 1-11.9 1-5.5 1 3.7 1-7.4 1 3.4 1 7.5 1-4.1 1-6.5 1 13.7 1-10.7 1 8.4 1-4.9 1-.6 1 4 1 4.1 1 8.1 1 .6 1 7.5 1-1.6 1 15.2 1 3.8 1-3.4 1 5.6 1 4.9 1-.5 1 1.5 1 16.2 1 4.6 1 14 1 0 1 12.2 1 2.6 1-.4 1 18.5 1 1.7 1 2.7 1 14 1-7.7 1 14.7 1 7.4 1 2.2 1 8.3 1-4.2 1 9.1 1 6.3 1 2.6 1 13.4 1-6.8 1 12.7 1-.3 1 6.7 1 2.4 1 1.1 1 10.7 1-7 1 9.9 1 7.3 1-3.6 1 8.1 1 .8 1-5.4 1 12.6 1 7.2 1-3.6 1 12.5 1-15.7 1 11.4 1 8 1-5.7 1 4.6 1-3 1-.9 1 14.4 1 20.1 1-24.3 1 6.2 1 6.5 1-9.8 1 16.9 1-9.7 1 16.4 1-12.5 1-9.9 1 18.3 1-21.3 1 25.9 1-19.7 1 1.4 1 2.5 1 19.4 1-12.7 1 19.3 1-5.6 1-4.9 1 2.8 1-7.4 1 4.3 1-8.6 1 10 1-8.6 1 16.6 1-4.5 1-1.7 1 10.3 1-18.6 1 19.6 1-4.8 1-27.8 1 22.5 1 3.9 1-10.9 1 18 1-28.5 1 9.9 1-1.9 1 26.1 1-11.2 1-20.1 1 32.8 1 2.2 1-5.7 1-33.8 1 10.9 1 5.9 1 3.1 1 4 1-7.3 1 9 1-8.8 1-15.2 1 10.9 1-10.9 1 6.4 1 15.3 1 4.3 1-5.3 1-23.9 1 4.8 1 16.4 1 4.7 1-30.1 1 1.4 1 13.9 1 5.5 1 2.3 1-12.3 1 24.5 1-36.2 1 22.1 1 3.8 1 3.9 1-7.8 1 12.3 1-10.7 1-19.4 1 15.4 1 6.2 1-17.1 1 38 1-42 1 21.5 1 12.7 1-21.2 1 23.1 1-31.4 1-1.4 1 20.2 1 5.6 1 7.7 1-.8 1 2.3 1 1.9 1-7.6 1-1.2 1-13.8 1-10.1 1 32.2 1 7.5 1-25.6 1 2.4 1 6.2 1-18.1 1 8.5 1 2.5 1-16.7 1 32.4 1-19.2 1 7.9 1-19.8 1-6.1 1 20.8 1 .8 1-2.3 1 2.2 1 1.5 1-8.4 1 8.4 1 13.1 1 7 1 1.6 1-31.7 1 11.6 1-4.2 1-.3 1 23.5 1-23 1-1.9 1-4.1 1 7.1 1-4.8 1 9.9 1-4.5 1 23.5 1-11.6 1-24.1 1 14.4 1 6 1 5.4 1-23.8 1 .1 1 9.6 1 14.9 1-3.5 1-.4 1-31.2 1-7.1 1 25.3 1 6.6 1-1 1 4.7 1-16.7 1 40.7 1-41.4 1 26.1 1 5.4 1-32.3 1 12.8 1 6.1 1-6.6 1-10.5 1 18 1-5 1-3.1 1 10.5 1 1.8 1-7.7 1-3.1 1 8.1 1-19.8 1 6.8 1 16.8 1-1.3 1 2.3 1-17.9 1 13 1-13.3 1 10.1 1 5.8 1-23 1 16.2 1-5.7 1 8.3 1 19 1-23.9 1 8.9 1 7.4 1-22.9 1 5.4 1 8.3 1-5.7 1 3.9 1 .7 1-8 1-12.6 1-1.4 1 9.2 1 13.6 1 6.7 1-16.7 1-8.5 1-.8 1 11.2 1-8.8 1 6 1 4.4 1 15.9 1-2.7 1-32.4 1 19 1-14.5 1 26.7 1-1.7 1-28.3 1 27.7 1-4.7 1 5.1 1 15.6 1-12.9 1-4.2 1-14.4 1 5.1 1 6.3 1 11.2 1-23.7 1-9.3 1 35.7 1-.3 1-26.4 1 34.4 1-18.1 1 3.2 1-18.8 1 24.3 1-20.7 1-8.3 1 11.5 1 16.9 1-.7 1-1.9 1-17.1 1 13.4 1-13.8 1 13.9 1-14 1-4.3 1 3.7 1 3.2 1-5.2 1 8.6 1-5 1-7.5 1 18.2 1-10.4 1-1.9 1-6.8 1 24.3 1-11.4 1-17.2 1 19.7 1 3.5 1-17.7 1 4.1 1 .4 1 16.1 1-9.8 1 9.8 1-3.7 1-13.2 1-2.7 1 7.9 1-15.4 1 18.4 1-5 1 13.1 1-11.2 1-8.2 1 25.8 1-8.1 1 .3 1 10.3 1-15.2 1-14.3 1 26.9 1-23.9 1 1.9 1-6.8 1 13.7 1 4 1 7.3 1-17 1 2.2 1-10.7 1 .5 1 16 1-16.4 1 15.5 1 4.5 1-6.7 1 16.5 1-12.2 1-.5 1-.1 1-12.7 1 20.6 1-9.4 1-.2 1 2.3 1 2.1 1 6.2 1-21.5 1 22 1-23.6 1 16.6 1 1.1 1-2.8 1 17.1 1-31.8 1 21.6 1-20 1-13.6 1 2.1 1 21.1 1-4.8 1 24.1 1-6.2 1-26.9 1 18.9 1-11.8 1 9.9 1 20.7 1-23 1-8.4 1 3.5 1 4.6 1-7.1 1 12.9 1-3.9 1 21.8 1-43.4 1 11.6 1 2.5 1 7.4 1-2.2 1-1.4 1 8.2 1 11.5 1-16.3 1 1.7 1-23 1 2.7 1 .2 1 19.7 1-19.1 1 22.8 1-1 1 11.8 1-28.3 1 18 1 2.7 1-31.2 1 20.9 1 9.5 1-14.3 1 18.4 1-6.5 1 28.6 1-44.9 1 16.4 1-1.3 1-18.7 1 15.4 1 19.3 1-32.9 1 32.1 1-25.7 1-6.5 1 1.6 1 1.6 1 6.3 1-5.3 1 11.8 1-3.3 1 5.2 1-2.5 1 4.8 1-12.9 1-16.7 1 13 1 12.9 1 15.3 1-46.3 1 28.9 1 11.4 1-7.7 1-18 1 10.2 1-12.5 1 3.5 1 13.9 1-1.6 1-5.2 1-6 1 1.1 1-7.3 1-2.9 1 7.3 1 16.7 1 4.8 1-11.5 1-6.3 1 11.6 1-6.9 1 3.2 1-19.6 1 23.9 1 5 1-26.4 1 2.9 1 30.8 1-7.4 1-11.1 1 7.8 1-17.6 1 13.7 1-17.9 1 34.1 1-32.3 1 2.5 1 .3 1-5 1 18.5 1-16.9 1 45.9 1-36.3 1-.1 1 22.3 1 9.2 1-19.6 1-22.1 1 12.7 1 15.3 1-16.1 1 1.9 1 13 1-4.9 1 18.4 1-16.2 1-11.8 1 14.7 1-15.7 1 2.6 1 12.4 1 5.9 1-17.9 1 10.2 1-13.7 1 6.2 1 5.3 1-13.6 1 20.5 1-23 1-6.5 1 19.9 1 .4 1 .4 1-19.4 1 32.4 1-21.5 1 11.9 1-28.4 1 22.2 1-3.6 1 9.1 1-6.2 1-16.2 1 3.9 1 12.6 1 1.6 1 25.2 1-38.5 1 1.3 1-13.2 1 1.9 1 10.1 1-5.3 1 20.5 1-6.2 1-12 1-10.9 1 14.5 1-10.3 1 16.7 1-6 1-18.8 1 16.1 1 18 1-43.3 1 18.2 1 2.4 1 5.9 1-13 1-2.9 1 12.3 1-1.9 1 6.6 1-13.3 1 17.9 1-21.6 1 .6 1 1.9 1-2.1 1-4.3 1-8.9 1 36.5 1-28.9 1 9.7 1 7.1 1 9 1-1.9 1-13.4 1-1.8 1 8.9 1 14 1-32.4 1 10.8 1 1.3 1 1.7 1-14.5 1 12.2 1 21.1 1 5.4 1 13.4 1-26.6 1-19.9 1 28.7 1-9.8 1 7.5 1-24.4 1 25 1-1.1 1-19 1 18.7 1 19.6 1-22.6 1 3.2 1-1.3 1 4.2 1 10.6 1-6.1 1-.9 1-21.7 1 31.6 1-6.1 1-12.9 1 .2 1 6.6 1 9.8 1-28.3 1 20.1 1-2.5 1 18.9 1-16.3 1 .4 1-13.2 1-10.6 1 19.5 1 7.1 1 13.5 1-5 1-6.6 1-11.3 1 4.5 1 4.4 1-7.7 1 12.8 1-5 1-17.8 1 5.2 1 23.6 1-25.3 1-2 1-3.7 1 10.2 1 7.8 1-19.4 1 17.6 1-25.9 1 14.8 1 4.9 1-4.3 1 22.5 1-23.1 1 7.6 1-21 1 27.1 1-9.8 1-1.4 1-3.3 1 7.6 1-11.1 1 1.7 1 11.5 1-17.6 1 4.5 1-3.2 1 32.3 1-17.4 1-4.3 1 17.4 1-30.1 1 1.6 1 14.9 1 2.4 1-7.9 1 1.9 1 9.4 1-7.5 1-6.2 1-4.3 1 5.2 1 7 1-20.7 1-10.5 1 17.6 1 3.3 1-5.6 1 15.7 1-10.6 1 4.4 1-9.6 1 9.3 1-5.7 1 9.8 1-13.6 1 16.5 1-1.9 1-12.6 1 21.1 1-14.1 1-6.4 1 9.6 1-7 1 10.1 1-19.4 1 22.5 1-5 1-8.1 1 9.5 1 3.1 1 3 1-19.7 1-15.1 1 14.9 1 1.7 1-8 1 5.3 1 4.6 1-16.1 1 38.7 1 8.6 1-31.3 1 16.5 1-9.2 1-11.8 1 10.7 1-13.5 1 46 1-39.9 1-1.9 1 10.1 1 .9 1 8.8 1 7.9 1-10.2 1-3.5 1-10.6 1 23.4 1-27.1 1 4 1 8.7 1 22.6 1-25.2 1 16.9 1-8 1 5.9 1 23.2 1-41.8 1 1.2 1 23.5 1-11 1 9.5 1 7.7 1-31.8 1 15.2 1-4.5 1-6.1 1-13.1 1 31.8 1-4.5 1-4.9 1 7.1 1-8.9 1 4.3 1 5.5 1-11.1 1 3.6 1-12.2 1 4.2 1-13.6 1-3.7 1 14.7 1 15.8 1-37.1 1 7.7 1-8.8 1 12 1 25.2 1-5.3 1-1 1-10.6 1 6 1 0 1-5.1 1 16 1-30.5 1 12.3 1 4.5 1-20.2 1 16 1-7.4 1 23 1-19.3 1-6.6 1 10.7 1 11.7 1-8.4 1 17.3 1-23.9 1-16.4 1 25.2 1-6.1 1 7.9 1 8.7 1-9.6 1-4.1 1-5.3 1-2.8 1 7.3 1 12.5 1 11.5 1-14.4 1 8.5 1-5.8 1-2.2 1-30.6 1 20.5 1-.1 1-2.3 1-2.1 1-3.8 1 13.2 1 2 1-6.3 1 10.3 1 16.8 1-20.9 1-4.6 1-9.5 1 .6 1 22.2 1-9.3 1-20.8 1 20.2 1-19.9 1 3.5 1 24.5 1-5.7 1-.2 1-29.2 1 29.5 1 6.6 1-22.3 1 15.6 1-17.9 1 6.2 1 2.2 1-13.4 1 1.4 1 21.3 1-23.2 1 13.7 1 1.1 1 5.1 1-5.1 1-17.5 1 19.5 1-19.3 1 23.9 1-28.5 1 15.5 1-5.3 1-5.9 1 3.2 1-5.7 1 2.7 1-3.1 1 18.4 1-17.4 1 4.2 1 31.7 1-7 1-16.5 1-.4 1 19.1 1-21.8 1 3 1 14.3 1-29.2 1 29.2 1-23.1 1 .5 1 10.3 1 6.9 1 1.7 1-34.3 1 23.3 1 6.5 1-2 1-.7 1-5 1 14 1-15.3 1-3.1 1 18 1-13.5 1 8.5 1-9.2 1-.4 1 1.9 1-36.4 1 31.8 1-9.1 1 13.4 1-32.1 1 13.8 1-5.4 1 20.7 1-2 1-35.3 1 18.8 1 4.6 1-3.8 1-16 1 10.8 1-18.3 1 15.2 1-3.6 1-19.7 1-1.3 1 12.2 1-6.9 1-9.2 1 .1 1-15.6 1 5.9 1-9.4 1-.4 1-1.2 1-10.1 1 .1 1-12.3 1-1.2 1-2.4 1-7.7 1-8.3 1-2.8 1-9.8 1-1.2 1-9 1 .9 1-10.3 1-4.5 1-12.4 1 1.8 1-8.3 1-2.6 1-13.1 1-10.1 1 .7 1-8.7 1-.7 1 .2 1-7.5 1 0 1-4.1 1-2 1 3.6 1-4.3 1 9.1 1-5.8 1 2.8 1-5.7 1 5.9 1 11.8 1 3.1 1 6.6 1 9.5 1-7.7 1 16.6 1-4.5 1 10.9 1 8.6 1 11.8 1-2.5 1 15.6 1 1.2 1 9.2 1 7.1 1 1.5 1-6.5 1 22.1 1 .1 1 10.9 1-2.4 1 4.3 1 8.1 1 6.4 1 3.1 1 2.4 1 5.1 1-2.6 1 .5 1 2.2 1 .4 1 16.8 1 .6 1 6.1 1 0 1 14.5 1-18.4 1 3.5 1-5.6 1 31.7 1-6.4 1-14.7 1-4.7 1-2.9 1 14.5 1 22.4 1-3.4 1-11.7 1-7.3 1 22.8 1-10.9 1 12.1 1-7.4 1 .1 1 1.3 1-10.2 1 15.4 1-7.6 1-12.3 1 30.9 1-11.1 1-15.1 1 23.2 1-16.4 1 5.3 1 3.6 1 1.6 1-5.3 1-15 1 12.4 1 4.4 1 9.3 1-18.3 1 5.6 1 21.8 1-29.1 1 13.6 1-11.9 1-.7 1 3.2 1 18.7 1-2.9 1-5.3 1 6.1 1 5 1-11.4 1 7.8 1-.8 1 9.3 1-7.4 1-4 1-7.2 1 42.6 1-40.3 1 2.6 1 .6 1-11.9 1 19.5 1-4 1-10.1 1 17.2 1 5.5 1-18.7 1 9 1-21.1 1 7.3 1 23.5 1-20.4 1 8.6 1-1.3 1-1.8 1 3.7 1-.3 1 3 1-1.3 1 .6 1-13.5 1-1.2 1 25.8 1 10.3 1-37.8 1 14.5 1-1 1-7.6 1 14.3 1 1.5 1 11.9 1-30.4 1 19.1 1-9.8 1 3.4 1 3.1 1-1.6 1 14.7 1-15.9 1 10.3 1-35 1 25.6 1 13.2 1-22.6 1 1.8 1 16.2 1-.9 1 9.8 1-15.2 1-4.4 1-14.3 1 35.7 1-33.4 1-3.8 1 13.1 1 15.2 1-20 1 7.6 1-23.7 1 28.5 1 2 1 9.3 1-9.9 1-14.6 1 25.3 1-42.4 1 30.5 1 2.7 1 8.8 1-9.3 1-2 1-17.6 1 9.9 1 14.6 1-18.3 1 8.6 1-5.5 1 6.5 1 9.5 1-3.6 1 16.1 1-27.7 1 3.8 1 5 1 7.6 1-8.5 1-8.3 1 2.7 1 1.5 1-1.2 1 8.2 1-9.1 1-8.4 1 4 1 19.5 1-8.7 1 18.5 1-19.6 1 13.9 1-6.8 1-7.6 1-2.3 1-3.3 1 20.4 1-5.9 1-2.2 1 4.8 1-17 1 23.9 1 1.5 1-15.6 1 9.5 1-27.1 1 12.7 1-4.3 1 1.9 1 23.7 1-12.4 1 7.8 1-13.3 1-.6 1 3.6 1 2.5 1-27.8 1 14.2 1-12.2 1 16 1 29.4 1-23.2 1-20.3 1 28.8 1-16 1-5.8 1 21.2 1-13.2 1-6.3 1 23.6 1 8.9 1-21 1 11 1-21.5 1 9.2 1-10.9 1 11.3 1 6.8 1-18 1 2.2 1 1.6 1-6.5 1 31.5 1 1.9 1-24 1 7.7 1 12.3 1-14 1 10.5 1-44.1 1 12.5 1 18.3 1 6 1 2.1 1 1.7 1-11.3 1 8.2 1-4.1 1 4.9 1-18.3 1 10.5 1-1.8 1 4.9 1-15.9 1 28.1 1-12.6 1-20.8 1 16.6 1-3.1 1-2.5 1 8.1 1-9.6 1 26.6 1-1.5 1-9.7 1-12.7 1 17.8 1-18 1 12.1 1-1.4 1 5.1 1-12.1 1 29.2 1-13.6 1-8 1-1.7 1-11.7 1 8.8 1 7.8 1-20.9 1 13.4 1-3.1 1 4 1-6.4 1 7.9 1-2.7 1-19.7 1 20.1 1 22.7 1-33 1 6.3 1 9.1 1-4.3 1 4.8 1-19.1 1 24.1 1-24.9 1 19.7 1-13.4 1 4.8 1 6.4 1-13 1 31.5 1-33.9 1 34.8 1 12.4 1-23.6 1-6.5 1-1.7 1 24.7 1-17.5 1-9.4 1 4 1 22.4 1-16.3 1-6.6 1 10.6 1-14 1-.6 1 18.2 1-7.6 1-18.7 1 3.7 1 11.3 1 4.4 1-5.2 1-36.6 1 16.5 1 10.6 1 4.6 1-.8 1 10.3 1 1.5 1-11.7 1 1.8 1 19.3 1 .3 1-6.4 1-21.3 1-10.4 1 35.8 1-33.3 1 6.7 1 4.3 1-7.3 1-.9 1 13 1 20.3 1-11.5 1-2.2 1-16.5 1-12 1 7.3 1 21 1 3.5 1 11.1 1-25.4 1 15.6 1-16.8 1 15.1 1-21.3 1 6.6 1 4.6 1 7 1-28.1 1 12 1 17.9 1-15.4 1 8.6 1 15.1 1-22.9"/>
<path transform="translate(224.30 0) scale(0.64560 1)" vector-effect="non-scaling-stroke" fill="none" stroke="#fe3e40" stroke-width="6" stroke-linejoin="round" stroke-linecap="round" d="M0 1676.4 l1-12.9 1 .3 1-6.9 1-3.4 1-2.9 1 23.9 1 7 1-8.2 1-2.2 1-.2 1-5.3 1 12.7 1-21 1 21.5 1-14.8 1 .8 1-14.1 1 15.1 1 28 1-30.3 1-4.1 1 9.1 1 6.8 1 .4 1-20.7 1-5.8 1 1.4 1 11.6 1-23.1 1 42.1 1-26.2 1 5.3 1 21.9 1-31 1 12.2 1-7.8 1 15.2 1-14.6 1 11.4 1-12.4 1 21.7 1-17.5 1-8.4 1 18.7 1-27.4 1 44.1 1-12.8 1-.9 1-1.9 1 13.7 1-13.3 1-2.3 1-3.8 1 9.8 1 17.1 1-31.1 1 23.3 1-7.6 1 3.5 1 13 1-9.3 1-20 1 11.3 1-16.1 1 19.5 1-13.6 1 29.6 1-12.3 1-35.3 1 46.2 1-22.7 1-1.6 1 22 1 10.4 1 .7 1-32.4 1-6.3 1 28.6 1-12.4 1-17.8 1 32.7 1-21.2 1 2.7 1-16.8 1 13.6 1-2.5 1 .3 1-9.3 1 2.8 1 11.1 1-7.1 1 5.3 1 1.6 1 .7 1 5.8 1-5.4 1 15.4 1-9.8 1-18.3 1 7.3 1 6.1 1-7 1 18.4 1-36.2 1 27.9 1 1.9 1-20.7 1-1.1 1 43.7 1-21.8 1-.8 1-14.3 1 21.6 1-15.4 1 1 1 12.8 1 7.8 1-13.6 1-16.9 1 16.4 1-15.9 1 30.7 1-17.9 1-6.4 1 1 1 8 1 9.6 1 8.5 1-8.1 1-24.8 1 7.1 1 16.3 1-12.1 1 9.2 1-18.2 1-8.5 1 22.2 1 3.3 1 11.8 1-16.6 1 5.5 1 16.4 1-9.9 1-12.4 1-9.6 1 19.2 1-16.2 1 24.2 1-12.3 1 .8 1 11.9 1-16.9 1 4.5 1-15.6 1 7.3 1 1.4 1-4 1 16.2 1-22 1 10.6 1-17.4 1 6.1 1-27.8 1 36.6 1-7.4 1-.6 1-10.8 1 .5 1 1 1 1.4 1 17.8 1-32.9 1 58.5 1-26.8 1-12.8 1 28.2 1-35.6 1 11.2 1-24.4 1 39.5 1-21.2 1 6.2 1 7.3 1-25 1 18.7 1-2.7 1 16.2 1-5.9 1-38.6 1 31 1-24.8 1 8.7 1 6.5 1 28.1 1-50.2 1 20.5 1-7.4 1 12.8 1 2.6 1-11.5 1-10.1 1 22.7 1-11 1 17.9 1 1.3 1 1.6 1-18.8 1-7.7 1 4.1 1 7.9 1 3.8 1 1.1 1-.4 1 7.1 1-10.1 1 13.7 1 1.3 1-.3 1-28.6 1 18.5 1-20.5 1 8.3 1 18.3 1-3.5 1-17.2 1 29 1 2.4 1-24.1 1-1.2 1-11.6 1 17.4 1 15.9 1-6.1 1-1.4 1-7.2 1-3.7 1-12.3 1 5.5 1 6 1-12.9 1 .3 1 .1 1 10.5 1-10.3 1 12.6 1-12.7 1-2.5 1 7.5 1 2.5 1 2.9 1-22.1 1 17.3 1-.1 1-8.1 1 14.7 1 4.8 1-22.8 1 18.6 1 7.8 1-22.7 1-8.7 1 26.9 1-6.8 1-2.3 1 37 1-21 1-16.5 1 12.1 1 2 1 2.9 1-3.5 1-27 1 24 1 .5 1 10.2 1-7.8 1-3.8 1 42.2 1-31 1 9.5 1-16.8 1 5 1-26.1 1 25.4 1 1.3 1-9.4 1 12.9 1 15.8 1-26.6 1 5.1 1 4.4 1-9.6 1 16.1 1-10 1-17.8 1 23.9 1-15.3 1 17.5 1-19 1 16.1 1-17.4 1 19.9 1-6.9 1 3.4 1 1.1 1-10 1-4.9 1-.7 1 5.8 1 5.5 1-3.6 1-1.4 1 15.5 1-2.4 1-12.1 1 1 1-16.4 1 26.7 1 8.4 1-33 1 31.9 1-19 1-7 1 9.9 1-6.4 1 5.8 1-.6 1-6.8 1 8.2 1-8.4 1-11 1 9.6 1-1 1 16.4 1-11.5 1 7.8 1-10.2 1 19.8 1-2 1-20.1 1 10.6 1 8.1 1-4.5 1 10 1-6.2 1-12.7 1 12.8 1-13.6 1-1.8 1 3.4 1 16.2 1-28.2 1 9.3 1 21.2 1 1.7 1-31.2 1-3.3 1 20.5 1-.2 1 2.3 1 8.2 1-15.8 1-8.5 1 12.7 1-1.3 1 8.9 1-15.3 1-10 1 3.7 1-1.4 1-5.8 1 40.5 1-18.1 1-13.7 1-4.8 1 7.2 1 38.7 1-45.5 1 29.5 1-31.9 1 6 1 29.2 1-25.6 1 31.5 1-36.3 1 9.6 1-3.6 1 15.8 1 5.6 1-7.8 1-4.9 1-1.9 1 38.8 1-31.7 1-14.4 1 9.7 1-21.8 1 34.1 1-30.3 1 10.3 1 .3 1 3.4 1 5.7 1 9.5 1-9.3 1-19.2 1 2.6 1 7.5 1 10.1 1-6.7 1-3.7 1 .2 1-3.4 1 9.9 1-8.1 1 3.8 1-7.4 1 21.6 1-28.2 1 10.7 1-5.5 1-12.3 1 33.5 1 8.3 1-28.8 1 14.3 1-20.5 1 1.6 1 6.2 1 26.2 1-31 1 17 1-5.9 1 4.9 1-11.9 1-1.7 1 9.6 1 17.4 1-38.9 1 44.1 1-30.1 1 13 1-2.7 1 27.1 1-51.6 1-6.3 1 20.5 1-12.3 1 9 1 32.7 1-20.5 1-10.4 1 .4 1-3 1 10.7 1 4 1-14.3 1 9.2 1 4.3 1 3.2 1-2 1-21.9 1 11.4 1 0 1 17.6 1-6.1 1-20.9 1 18.8 1 14.9 1-8.8 1 1 1 19 1-15.7 1-9.1 1-10.3 1 7.1 1-18.4 1 32.4 1-7.8 1-8.1 1-4.4 1 6.7 1-11.2 1-7.3 1 2.8 1 15.4 1 .4 1 5.3 1-15.2 1-5.9 1 16.5 1-34.3 1 36.3 1-8.9 1 18.3 1-38.9 1 10.7 1 20.4 1-8.7 1 6.5 1-15.1 1 7.2 1 6.4 1-13.4 1 22.5 1-13.4 1 27.6 1-24.3 1 7.4 1-1 1-7.1 1 10.6 1 9.8 1-12.7 1 .4 1-3.9 1 10.8 1-16.3 1 2.5 1-12.7 1 19.8 1-13.4 1 14.5 1-9.2 1 15 1-19.7 1 20.9 1-21.7 1 17.8 1-14.7 1 1 1 6.1 1 2.2 1 6.6 1-21.7 1 14.1 1-2.5 1-11.6 1-13.4 1 25.6 1-10.7 1-.9 1-7.8 1 24.3 1-3.2 1 6.5 1 .6 1-7.6 1-20.7 1 29.9 1-15.2 1-8.6 1 8.6 1-15.7 1 15 1-8 1 4 1-3.7 1-.5 1 3.7 1-14.2 1 19 1-5.9 1 .4 1 10 1-9.1 1 5.6 1 15.9 1-19.6 1 17.9 1-14.7 1-22.1 1 37.1 1-16.7 1 .3 1 16.4 1-6.4 1-13.5 1 4.5 1 .7 1-4.4 1-6 1 13.4 1-14.6 1 18.2 1-16.5 1 5.7 1-1.3 1 15 1 1.8 1-10.2 1 .1 1 31.1 1-24.4 1 15.3 1-21.4 1 3 1-7.8 1 13.4 1-16.8 1 22.5 1-10.4 1-.8 1 3.9 1-17.9 1 12.3 1 2.3 1 .8 1-5.5 1 21.1 1-22.6 1 16.9 1-13 1-11.6 1 18.8 1-8.5 1 7.4 1 4 1-8.7 1-5.6 1 24.7 1-29.9 1 .5 1 8.6 1-15 1 21.3 1-26.7 1 43.7 1-5.8 1-7.6 1-7.7 1-6.3 1 4.7 1-10.7 1 3.4 1 7.1 1-.1 1 11.1 1-8.8 1 26.9 1-20 1-19.1 1 14.6 1-29.7 1 10 1 27.2 1-8.8 1 4.3 1-10.4 1 1.4 1 20.5 1-1.1 1-25.1 1-1.1 1 27.8 1-19.2 1 10.3 1 2.9 1-1.2 1-12.6 1 .4 1 4.2 1 29.3 1-40.8 1-6.2 1 3.8 1-9.6 1-1.9 1 5 1 19.9 1-18.2 1 36.3 1-15.3 1-11.2 1-11.5 1 25.2 1-16.5 1-28.9 1 50.7 1-36.6 1 6.3 1 21.3 1-6.4 1-12.2 1 6.3 1-8.6 1 17.9 1 13.8 1-33.2 1-5.3 1 10.5 1 20.2 1-.5 1-1.8 1-11 1-4.9 1-9.4 1 3.2 1 26.6 1-17.5 1-.8 1 .9 1-16.5 1 9.7 1 6.8 1 13.3 1-7.1 1 2.2 1-2.3 1-17.9 1 9.2 1-5 1 16.9 1-9.9 1-.2 1-16.9 1 32.2 1-6.1 1-6.4 1 .8 1 4.6 1-17.6 1 9 1 7.6 1-14 1 6.3 1-4.2 1 3.9 1-12.1 1 8.8 1-3 1-1.9 1-11.4 1 33.8 1-23.9 1 34.3 1-18 1 8.1 1 4.9 1-1.4 1-17.6 1-.5 1 15.4 1-11.4 1 1.5 1 6.8 1 2.9 1-20.8 1 18.4 1-16.9 1 18.8 1-14.7 1 17.8 1 9.8 1-13.7 1 16.5 1-12.2 1-28.1 1 26.2 1-19.1 1 15.3 1 3.9 1-4.2 1 5.5 1-9.2 1 17.4 1-9.1 1-9.6 1 25.7 1-12.6 1-1.4 1-1.2 1-6.1 1 8.2 1 6.9 1-23.2 1 .6 1-2.2 1 10.1 1 5.1 1-9.5 1 7.4 1-4.9 1-25 1 22 1 .8 1-9.6 1 19.7 1-23.9 1 7.1 1-.8 1 9.7 1-10.1 1 18.7 1-10.3 1 5.8 1-9.8 1 8.8 1-8 1-13.3 1 15 1-11.8 1-3.8 1 11.2 1-8.3 1-1.7 1 13.4 1-25 1-12.3 1 34.9 1 27.4 1-39.4 1 12.6 1-22.2 1 17 1 12.3 1-20.3 1 5.6 1-10.1 1 8.3 1 10.7 1-11.8 1-15.6 1 17.8 1 1.4 1 8.6 1-11.5 1-15 1 8.4 1-20.1 1 26.9 1-3.6 1 9.9 1 4.6 1-31 1 25.3 1-7.7 1 6.8 1-16.6 1-9.9 1 31.8 1-.1 1-14.6 1 13.7 1-19.9 1 22.5 1-12.5 1 1.8 1 3 1-9.8 1 .5 1 26.5 1-20.5 1 22.1 1-31.4 1 18.6 1-1.7 1 6.8 1-11 1 8.3 1-20.7 1 12.2 1-5.2 1 9 1 18.7 1-1.7 1-4 1-23.9 1 17.1 1-11.5 1 10.9 1-4.3 1-13.2 1 13.7 1 2 1 14.4 1-30.9 1 25.2 1-21.8 1 26.9 1 7.6 1-33.4 1-2.4 1 6.7 1 17.6 1-15 1 1.8 1-10.6 1 43.1 1-43.6 1 8.9 1 3 1-1.5 1 10.3 1-3.6 1 12.5 1-14 1-1.8 1 8.3 1-20 1 6.5 1 2.9 1 2 1-.9 1-18.5 1 24.9 1-22.3 1-4.6 1 21.7 1 2.4 1 23.4 1-44.1 1 14.3 1-5.9 1-2 1-9 1 5.2 1 3.4 1 29 1-38.4 1 30.2 1-9.6 1-11 1 19.1 1-11.6 1 10.3 1-16.2 1 12.1 1-3.4 1 7.1 1-25.3 1 21 1-7.7 1-3.2 1 20.9 1-11.8 1 6 1 8.7 1-17.6 1-4 1 1.5 1-12.1 1 26.5 1-10.3 1 7.5 1-9.6 1 6.2 1 15.6 1-7.1 1-9.7 1 0 1-1.6 1 24.5 1-14.8 1 16.5 1-49.6 1 17.5 1 .4 1 2.2 1 18.2 1-9.1 1 5.5 1-3.6 1-11.3 1-7.8 1 31.9 1 7.3 1-11.9 1-5.8 1 .2 1-7.8 1 27.7 1-52.2 1 32.1 1-2.2 1-13.1 1 16.1 1-19.6 1 8.7 1 8.3 1 9.1 1-13.5 1-9.7 1 2.7 1-1.2 1 7.9 1-14.5 1 2.5 1-.3 1-6.6 1 3.3 1-6.1 1 22.7 1-11.8 1 5.4 1-13.7 1 31.4 1-3.1 1-33.1 1 17.7 1-8 1 18 1 .7 1-20.8 1 26.2 1-26.2 1 .5 1 9.6 1 4.2 1-10.3 1 30.9 1-20.1 1-7.6 1 .6 1-5.8 1 6.4 1 8.7 1 7.3 1-32.1 1-3.4 1 21.8 1-4.3 1-13.8 1 12.6 1 6.4 1 25.5 1-34 1 7.8 1 4.6 1-14.1 1-4.2 1 16.6 1 13.6 1-1.5 1-22.7 1 15.8 1-14.2 1 19.9 1 6.9 1-19.6 1-8.5 1 6.3 1 3.3 1 22.6 1-29.2 1 23.3 1-2.5 1-9 1 28.3 1-9.8 1-18 1-29.2 1 28.3 1 17.4 1-21.6 1 5.2 1-.3 1-7.8 1 20.2 1-12.6 1 15.4 1-41.5 1 19.4 1 35.7 1-34.2 1 2.6 1-12.6 1 5.9 1 16.7 1-2.2 1-24.4 1-8.9 1 21.4 1 8.7 1-13.7 1-2.6 1 17.8 1 13.8 1-17.3 1-10.7 1 23.5 1-2.4 1-9.7 1-1.5 1-7 1-2.5 1-19.4 1 24 1-9.3 1-2.5 1 10.3 1 9 1-4.1 1 7.8 1-7.8 1-17.8 1 45.5 1-36.1 1-.4 1 5.4 1 6.8 1-19.6 1 30.2 1-9.7 1-17.7 1 5.1 1-8.2 1 5.7 1 12.6 1-13.8 1 2.4 1 25.6 1-18.4 1 1.5 1-.7 1-1 1-23.5 1 11.9 1 14.7 1-7 1 10.4 1-36.3 1 10.5 1 24.6 1-30.5 1 28.4 1-6.6 1 5.4 1 11.7 1-10.4 1-.5 1-4.3 1 6.3 1 3.3 1-17.7 1 22.1 1-22.2 1 8 1 7.1 1-10.2 1 15.2 1-16.7 1 15 1 .7 1-12.2 1-6.8 1 27.9 1-12.1 1-2.5 1-16.6 1-21.1 1 37 1 7.3 1-8.8 1 1.5 1-24.4 1 10.3 1 18 1-13.9 1 9 1-8.8 1 37.2 1-25.1 1-4.6 1-24.7 1 40.9 1-16.9 1-9.3 1 18 1-9.9 1 16 1-18 1 11.9 1 6.6 1-2.6 1-23.7 1-1.9 1 15.5 1 21 1-31 1 16.8 1-23.4 1 15.1 1 5.1 1 6.2 1-8.1 1-11.4 1 23.2 1-30.3 1 28.4 1-45.2 1 21.9 1 12.7 1-19.9 1-15.4 1 19.8 1 4.5 1-6.4 1 18.2 1-16.1 1 17.8 1-10.4 1 3.5 1-9.3 1-7.3 1 20.7 1-9.2 1 14.8 1-1.4 1-9.9 1 3.7 1-3.8 1-.9 1-16 1 21.5 1 13.9 1-25.5 1-9.8 1 26.8 1-8.9 1 4.7 1 5.4 1-5.7 1-17 1-8 1 16.2 1-15.8 1 34 1-15.8 1-4.3 1-4.6 1 17.6 1 1 1-6.4 1 5.1 1-38.8 1 39.2 1-11.6 1-7.1 1-6.7 1-11.5 1 14.7 1 5.9 1 .4 1 11.5 1 19.8 1-42.7 1 29.4 1-25.6 1 20.3 1 .1 1-29.4 1 39.3 1-16.3 1 .6 1-7.1 1-20.8 1 21.4 1-6.1 1 21.2 1-32 1 32.9 1-10.5 1 10.5 1-21.1 1-1.6 1 14.4 1-13.9 1 8.4 1-11.6 1 24.4 1 3.5 1-.6 1-1.1 1-6.2 1 .4 1-14.5 1 26.8 1-17.9 1 17.5 1-31 1 17.9 1-24.6 1 4.2 1 17.5 1-7.5 1 2.8 1 .8 1 20.1 1-18.3 1-18.3 1 24.6 1-2.7 1-10.9 1 17 1-14.9 1 22.1 1 4.5 1-13.3 1 1.6 1-4.8 1-8.2 1 10.7 1-11 1-3.4 1 12.4 1-7.7 1 7 1 19.4 1-27.8 1 18.1 1-6.2 1 21.7 1-28 1 15 1-1.6 1-9.5 1 5.3 1-17.5 1 11.4 1 11.4 1-6.1 1 9.5 1-13.6 1 12.8 1-32.6 1 25.2 1 18.7 1-30.5 1 15.9 1-4.5 1 4.9 1-21.1 1 4.1 1 1.9 1 8 1-13 1 10.1 1 9.6 1-15.1 1 4.1 1 6.1 1 14.4 1-34.1 1 18.7 1 2.7 1 4 1 3.2 1 2.2 1-31 1 19.1 1 5.7 1-10.9 1 12 1-26.2 1 6.8 1-8.7 1 24.4 1-3.1 1-17.3 1 2.7 1 1.5 1 26.5 1-30.8 1 15.8 1-6.6 1 7.1 1-14 1-18.8 1 20.8 1 2 1-1.3 1-5.8 1 19.9 1-25.5 1 23 1 9.5 1-7.3 1-5.8 1-6.3 1 6 1-10 1 28.2 1-19 1-25.2 1 21.1 1 6 1 20.1 1-42.1 1 38.5 1-14.2 1-20.6 1 21.2 1 13.2 1-14.7 1 8.5 1-12.4 1-1.5 1-14.1 1 14.8 1 6 1 8.5 1 .1 1-20.4 1 13.2 1-28.5 1 19.2 1-18 1 20.5 1-8.7 1 7.5 1 19.4 1-34.2 1-6.5 1 19.8 1 20 1-10 1-8.3 1 5.9 1 6.3 1-14.2 1-14.1 1 27.4 1-4.3 1-3.4 1 28.7 1-13.3 1-23.9 1 16.3 1-10.7 1-.6 1-9.5 1-7.7 1 6.8 1 18.8 1 14 1-21.2 1-6.6 1 20.6 1 3.9 1-16.2 1 2.4 1-11.2 1 14.4 1-2.5 1-18.4 1 30.9 1 7.4 1-20.7 1-6.5 1-1.7 1 1.8 1 10.2 1-1.4 1-18.8 1-19.4 1 26.5 1-1.2 1 6.1 1-2.2 1 13.2 1-19.3 1 12.9 1-19.7 1 11.4 1 30.1 1-38.5 1-9.8 1 1 1 .5 1-1.7 1 3 1 9.8 1 13.8 1-24.8 1-2.4 1 15 1-19.2 1 5 1-6 1-1.1 1 16.8 1-4.4 1 6.1 1-16.6 1 18.4 1-11.6 1 12.1 1 21.1 1-30.1 1-1.7 1-3.9 1-11.1 1 28.3 1-16.8 1 8.4 1-4.1 1-2.7 1-9.1 1 11.5 1-1.3 1-13.5 1-5.2 1 30.3 1-16.1 1-14.3 1 38.6 1-6.9 1-14.8 1-14.2 1 12.4 1-15 1 16.8 1-14.7 1-5.7 1 6.5 1 4.6 1 31.2 1-38.5 1 10.7 1 3.6 1-18.9 1 12.9 1-5.8 1 6.3 1 1 1 11.8 1-20.9 1 20.2 1-29.2 1 24 1-25.7 1 7.2 1 19.7 1-17.6 1 12.5 1-3.2 1 21.9 1-41.5 1 16 1 5 1 18.6 1-15.8 1-5.7 1-15.5 1 13.4 1-3.5 1-15.5 1 22.5 1-8.5 1-11.9 1 35 1 .6 1-36.7 1 48.1 1-14.9 1-2.5 1-2.2 1-1 1 .9 1-16.2 1-1.4 1 22.1 1-10.5 1 21.3 1-32 1 15.4 1-19.3 1 0 1-6.8 1 33.6 1-27.3 1 4 1-6.8 1 22.7 1-20.6 1 .1 1 1.2 1 9.8 1 19.4 1-43.2 1 31.5 1-.4 1 5.5 1-17.1 1-7.3 1 7.7 1 12.2 1-2.9 1-17.5 1 1 1 14 1 15.2 1-17.6 1 11.5 1-16 1 12.7 1-10.9 1 9.5 1-11.1 1 18.3 1 3.6 1-8.4 1-10.9 1 18.3 1 .7 1 2.9 1-4.4 1 12 1-27.9 1 21.8 1-6.6 1 14.8 1-12.8 1 3.6 1-5.7 1 7 1 10.3 1-2.6 1-13.9 1 7.3 1 9.5 1-20.7 1 24.8 1 7.5 1-29.6 1 6.9 1 13.5 1-17 1 12.2 1 7 1 15.9 1-12 1 11.9 1-15 1 8.5 1-1.1 1-8 1 4.4 1-1.4 1 9.7 1-18.3 1 7.1 1-9.3 1 25.2 1-10.5 1-27.2 1 47.4 1-22.2 1 2.7 1-8 1-7.9 1 3.8 1 14.1 1-19 1 27.1 1-39.4 1 33.8 1-17.4 1-12 1 18 1 1.5 1 .9 1-7.9 1 28.4 1-35 1-4 1 27.2 1-10.2 1-17.3 1-.8 1 31.3 1-13.5 1 8.6 1-24.3 1 24.6 1-7.7 1 2.4 1 3.1 1-10.8 1 9.7 1 3.5 1-28.3 1 26.1 1-5 1 23.3 1-17.5 1-10.5 1 9.7 1-.8 1-22.3 1 23.8 1-6.9 1 10.5 1-12 1-7.1 1-.1 1 1.6 1 6.8 1-2.3 1-2.8 1-3 1 19 1-8.5 1-26.9 1 13.6 1 7.8 1-14.7 1-1.2 1-13.9 1 28 1 10 1-6.8 1 21.5 1-11.4 1-32.4 1 21.6 1-28.5 1 23.3 1 27.6 1-14.4 1-13.7 1 3.4 1-3.3 1-.4 1-6.9 1 20.5 1 5.9 1-24.8 1 22.9 1 9.2 1-33.1 1 12.7 1-6.6 1-2.4 1 2.9 1 3.5 1 10.2 1-17 1 1.1 1-21.8 1 25.8 1 1.3 1-25.7 1 4.1 1 22.4 1-.1 1 7.7 1-39.1 1 32 1-10.1 1-3.9 1-2.6 1 18.8 1-7.7 1 7.1 1 2.3 1-3.6 1 1.2 1-4.6 1-5.2 1-5.5 1 .9 1 4.7 1 10.6 1-9.8 1 4.6 1 14.6 1-9.3 1-2.2 1 4.9 1 13.2 1-25.8 1 3 1 21.3 1-3.3 1-5.8 1-4.7 1 1.7 1-18.2 1 2.7 1 10.9 1-5.7 1 2 1 12.1 1-18.8 1 13.9 1-31.6 1 8.1 1 8.1 1-11.2 1 28 1-9.5 1 6.8 1-2.2 1-3.6 1 3 1-15.6 1 21.2 1-32.8 1 19.1 1-6.1 1-4.1 1 7.9 1-2.7 1-15.9 1 18.5 1-13.5 1 12.6 1-9.8 1-1.1 1 3.3 1-14.6 1-.9 1 5.5 1-17.9 1 24.9 1-11 1-8.6 1 6.8 1-7.2 1 5.3 1-6.2 1 10.9 1-15.4 1 10 1-12 1 13.9 1-6.8 1 .5 1-.7 1-15.4 1 3.7 1-10.5 1 5.1 1-10.5 1-6.8 1 4.2 1 1.4 1 .7 1 3 1-16.3 1-1 1-5.8 1-2.9 1-.3 1-5.8 1-10 1-4.8 1-2 1-7.4 1-.4 1-4.3 1-8 1-9.4 1 2.3 1-11 1 .3 1-10.4 1-5.6 1-1.1 1-9.9 1-7 1 4.9 1-18.1 1-4 1-8.1 1-7.4 1-2.2 1-4.7 1-9.1 1-2.5 1-11.5 1-9.6 1 2.9 1-4.5 1-13.9 1 .2 1-11.3 1 4.2 1-2.8 1-7.6 1-8.4 1-3.3 1-8.4 1 15.1 1-16.6 1 3.3 1 1.3 1-8.2 1-.3 1 11.3 1-9.3 1 7.5 1-11.2 1 10.4 1-6 1 18.5 1-4.8 1 3.1 1-2.7 1 15 1 6 1 3.5 1 5.5 1 .5 1 1.6 1 17.7 1-3.3 1 8.1 1 5.3 1 2.5 1 16.1 1-2.7 1 13.7 1 2.9 1-1.5 1 12.8 1-2.2 1 11.7 1 6.8 1 7.3 1 5.6 1 6.1 1 6.1 1 1.3 1 1.3 1 16.2 1-.1 1 6.4 1 11.7 1-1.6 1-.3 1 15.6 1-8.8 1 0 1 23.9 1-8.1 1 1.9 1 11.3 1 9 1-7.5 1-.9 1 18.2 1 4.4 1-8.4 1 10.3 1 0 1 4.6 1 5 1-.5 1 2.3 1-5.6 1-.1 1 8.3 1 10 1-1.9 1-11.5 1 9.1 1-4.9 1-.8 1 18.4 1 2.5 1 7.7 1-5.8 1-18.5 1 12.7 1-2.1 1 6.8 1-12.8 1 9.5 1 5.9 1 3.4 1-12.2 1 7.7 1 4.7 1-3.1 1-11.7 1 2.4 1 5.3 1 15.9 1-7.5 1-10.4 1-4.6 1 3.3 1 24.9 1-7.8 1-20.1 1 23.9 1-8.4 1 2 1-.4 1-8.3 1 29.4 1-19.5 1 23.4 1-3.8 1-8.2 1-23.2 1 3.9 1-2 1 8.7 1 30.5 1-32.9 1 21.6 1-19.8 1 1.7 1 .9 1 29.3 1-11.3 1-11.5 1 5.4 1-8.2 1 21.7 1-19.7 1 10 1 3.9 1-19.5 1 19.6 1-21.9 1 8.4 1 6.8 1 2.1 1-6.4 1 11.7 1-17.1 1-4.8 1 21.3 1-.9 1-17.9 1 23.7 1-1.7 1-5 1 2.7 1-8.9 1-11.6 1 10.5 1-8 1 11.9 1 5.3 1-18.9 1 11 1-8.4 1 4.3 1-3.6 1 14 1-7.7 1 1.4 1-17.7 1 23.4 1 9.3 1-22 1 5.5 1 5.2 1 5.2 1-15 1-.7 1 1.1 1 7.8 1 4.4 1-28.6 1 19.4 1-27.9 1 36.3 1 18.6 1-42 1 12.9 1 1.9 1-9.3 1 26.5 1-8.6 1-5.4 1 9.9 1-6 1-19.4 1 21 1-5.5 1-5.5 1-7.5 1 30.3 1 4.5 1-22.1 1 6.4 1-7.8 1 2.3 1 16.9 1-24.6 1-15.2 1 27.7 1-6.8 1 .2 1-3 1 15 1 20.6 1-28.6 1 3.3 1-3.3 1-2.6 1 19.6 1-18.8 1 12.8 1-7.9 1 18.9 1-28.5 1 18.2 1-7 1 1.1 1 .9 1-2.7 1 12.8 1-20.7 1 3.5 1-8.4 1 16.1 1-29.8 1 26.6 1-13 1 9.2 1 19.7 1-8.7 1-25 1 15.5 1-18.8 1 13.8 1-1.6 1-15 1 11.5 1-2.3 1 14.5 1-22.7 1 27.2 1-10.8 1-15.8 1 16.8 1 4.1 1 21.9 1-36.8 1 7.5 1 25.1 1-9.9 1-48.2 1 16.8 1 35.9 1 2.5 1-5.7 1-7.6 1 3.4 1 8.1 1-18.2 1 2 1-16.5 1-9.4 1 23.7 1 11.1 1-6.1 1-1.7 1-1.1 1-5.9 1 14.2 1-17 1-.1 1 4.9 1-10.1 1 10.1 1 7.7 1-7.7 1-5.3 1 2.5 1 5 1-13.7 1 1.4 1 3.6 1 20.9 1 6.5 1-26 1 10.3 1-9.7 1 11 1 10.8 1-11.7 1-7.1 1 4.9 1 .7 1-2.4 1 8.2 1-7.1 1 3.6 1-21.4 1 30.1 1-4 1-22 1 26.5 1-12.1 1 4.9 1 16.4 1-26.6 1 8.7 1 4.2 1-13.5 1 2.5 1 2.1 1 1.6 1 12.1 1-4.6 1-14.3 1-2.2 1 3.4 1-4.1 1 17.6 1-3.6 1 8.5 1-11.5 1 11.9 1-21.5 1 13.3 1-5.4 1-12.6 1 8.7 1 13.8 1 5.4 1-3.9 1-7.6 1-9.8 1-12.7 1 17.4 1 17.7 1-5.4 1 10.7 1-22.3 1-2.7 1 22.7 1-15.4 1 3.1 1-.5 1 10.3 1 4.4 1-27 1-1.9 1 11.6 1 20.9 1-10.6 1-10.2 1 3.6 1 8.3 1-22.4 1 .4 1 2.1 1 6.3 1-8.4 1 7 1 4.7 1-10.2 1 6.1 1 3.5 1-12.4 1-10.9 1 6.3 1 18.5 1-11.3 1 2.8 1 3.8 1-19.1 1-9.9 1 29.3 1-17 1 7.1 1-18.3 1 37.4 1-18.7 1-12.6 1-17.9 1 20.6 1 14.2 1-13.8 1 33.6 1-14 1-5.1 1 10.4 1-15.3 1 1.2 1 15.2 1-6 1-.2 1-5 1-1.3 1 13.9 1-16 1 8.5 1-4.8 1 8 1 16.3 1-29.8 1 5.5 1-3.9 1-10 1 32 1-.6 1-15.2 1 15 1-13.5 1 3.9 1-9.3 1-4.2 1 9.7 1-7.4 1 2.1 1 29.6 1-24.3 1-11.9 1-.5 1 9 1 12.3 1-28.4 1 18.8 1-.5 1-3.3 1-6.2 1 44.8 1-32.9 1-10.9 1 9.8 1 22.4 1-43.9 1 19.2 1 3.8 1 2.1 1 2.5 1-3.6 1 8.5 1-19.2 1 13.3 1-18.4 1 14.6 1-30.7 1 28 1-13.8 1-.6 1 34.2 1-28.8 1 17.1 1-14.3 1 6.1 1 14.4 1-22.9 1 8.4 1-2.2 1 28.2 1-28.9 1 11.9 1-4.3 1-3.5 1 4.8 1-4 1-14 1 21 1-6.8 1 .5 1 16.2 1-19.9 1 15 1-9.3 1 5.9 1-29.2 1 27.3 1 .4 1-.2 1 16.6 1-11.3 1 .7 1-12.3 1-7.9 1 19.3 1-9.5 1-10.5 1 10.7 1-22.9 1 33.9 1-1.7 1 11 1-23.4 1 33.5 1-34.9 1 5.3 1 27.7 1-23.3 1-5.5 1 2.9 1-6 1 23.6 1-5.8 1-15 1 6.7 1 1.7 1-20.4 1 13.1 1-21.5 1 40.1 1-9.7 1-13.2 1-4.7 1 19.8 1-.6 1 1.2 1-33.8 1 20.6 1 23.8 1-8.9 1-7.7 1-4.6 1-.3 1 1.9 1-1 1-1.5 1-1.9 1-9.1 1 1.2 1 13.6 1-15.1 1 28.2 1 2.9 1-21.4 1-15 1 9.1 1-4.7 1 15.5 1 5.3 1-36.8 1 25.2 1 1.2 1 3.4 1-12.2 1 8.2 1 8.3 1-2.7 1-7.5 1-1.1 1 8.5 1 9.7 1-24.4 1 6.1 1-2.2 1 6.6 1 3.7 1-17.3 1 11.4 1 1.9 1-25.6 1 21.7 1-6.3 1-19 1 19.2 1-2.2 1 9 1-9.3 1-12.1 1 .5 1-9.2 1 7.3 1 2.4 1 11.1 1-9.6 1-22.4 1 30.5 1-15.5 1 28.3 1-14.2 1 14.8 1-44.6 1 31 1 15.1 1-29.3 1-4.2 1 16.6 1 20.3 1-15.6 1-11.7 1 18.1 1-7.2 1-3.3 1 9.7 1-1.5 1 10 1-26.4 1 17.6 1 3.2 1 3.1 1 1.4 1-23.1 1 7.3 1 6.3 1 4.7 1 3.6 1-7 1 16.7 1-4.1 1-4.9 1 12.8 1-37 1 25.5 1-12.2 1 23.3 1-11.5 1 3.7 1-7.9 1 28.8 1-20 1-12.5 1 5.6 1-8.8 1 15.7 1-5.5 1 2.9 1 7.2 1-12.8 1 11.9 1 4.1 1-24.9 1 6 1 16.7 1-22.7 1 23.4 1-11.4 1-7.8 1-5.7 1 25.1 1-5.3 1 12.7 1-21.2 1-15 1 21.3 1-12.1 1 16.2 1-15.5 1 .7 1 13.5 1-22.9 1 34 1-37.7 1 18.2 1-11.8 1-3.9 1 9.7 1 30.9 1-26.5 1 14.8 1-25.1 1-3.8 1 28.1 1-16.9 1 8.7 1-3.5 1 20.7 1-7.9 1 .7 1-13.3 1-9.6 1-5.2 1 23.4 1-16.3 1 2.4 1-9 1 6.4 1 12 1 20.8 1-31.4 1 6.4 1 15.6 1-12.9 1-6.6 1 1.6 1-14.3 1 13.1 1 25.4 1-17 1-9.2 1 8.9 1-13.8 1 2.9 1 11.7 1-18.2 1 2.8 1 25.3 1-14.2 1-36.7 1 2.4 1 20.4 1 2.2 1-25.7 1 28.2 1-14.4 1 15 1 0 1-1 1-11.8 1 24.5 1-7.4 1-29 1 30.5 1 2.7 1 1.1 1-34 1 .1 1 14 1 20.5 1-27.2 1 18.5 1 2.6 1-7.8 1 5.8 1-2 1-8.6 1 9.4 1 17.3 1-6.2 1-15.8 1-17.7 1 32.4 1-16.9 1 11.9 1 2.9 1-23.8 1 22.9 1-.3 1 17.3 1-47.4 1 18.9 1-3.8 1 18.7 1-8.1 1-1.3 1-8.8 1-8.3 1 16.1 1-13.1 1-10.8 1 30.5 1-24.4 1 2.5 1 1.5 1 18.1 1 6.2 1-25.8 1 9.6 1 8.4 1-19.8 1 21.2 1-5 1 13.5 1-14.4 1-22.9 1 14.1 1 9.4 1-8.7 1 1.9 1 .5 1-4.7 1 16 1-16.2 1 9.1 1 7.9 1-15.4 1 25.3 1-13.9 1-11.3 1-6.5 1 16.8 1-9.5 1 6.7 1-6.8 1 1.8 1 3.5 1 5.4 1-3.8 1-4.6 1 21.1 1-1.6 1 23.2 1-53.8 1 21.3 1 8.2 1-29 1 26.3 1-6.8 1-7.3 1 8.8 1-8.3 1-5.9 1 16.2 1-5.3 1 14.2 1-22.6 1 12.7 1-3.7 1 8.6 1 21.2 1-24.3 1-10.2 1-.9 1 24.5 1 0 1-30.4 1 14 1 8.1 1-11 1 17.8 1-17.4 1 4.2 1-12.3 1-.5 1 5 1 13.5 1 7.8 1-5.1 1-.8 1 1.7 1-11.8 1-5.9 1 5.4 1 7.7 1-19.5 1-24.5 1 64.7 1-38.8 1 7.4 1 5.2 1 12.5 1-19.3 1-17.9 1 2.5 1 31.5 1-29.2 1-7.1 1 29.7 1-33.5 1 38.9 1-18 1-3.9 1 7.8 1 15.9 1-12.3 1-1.9 1-19 1 13.8 1-6.8 1 1.9 1 21.4 1-5.1 1 7.7 1-23.1 1-.1 1-6.3 1 3.9 1-13.5 1 6.6 1 16.8 1 17.1 1-16.5 1 3.3 1 11.7 1-20.4 1 7.5 1-16 1 2.3 1-.7 1 13.3 1 8.9 1-9.5 1-17.2 1 14.9 1 13.3 1-9.7 1-14.6 1 21.8 1-31.2 1 28.9 1-24.8 1 10.7 1 12.6 1 25.1 1-33 1-8.3 1 12.3 1 7.2 1-11.5 1 12 1-26.9 1 19.1 1-22.5 1 18.4 1 9 1-8.6 1-1.1 1-6.4 1 5.1 1 16.2 1-29.4 1-2.4 1-2.9 1 11.1 1 4.9 1-10.5 1 8.9 1-8.2 1-5.3 1 7.9 1-13.1 1 8.7 1-1.5 1-13 1 1.1 1-5 1-11.3 1 2.9 1-.6 1-9.7 1 9.5 1-2.6 1-11 1-12.1 1 18.9 1-11.9 1 .9 1-2.9 1-5.4 1-6.4 1 2.5 1-9.2 1 1.7 1-11.3 1 .4 1-12.5 1 2.5 1-.3 1-4 1-18.3 1 1 1-4.8 1 2.4 1-13.9 1 2.6 1-8.8 1 2.4 1-9 1-5.7 1 .2 1-1.2 1-19.1 1 7 1-7.8 1-1 1-3.4 1-2.8 1 1.4 1-2.2 1-9.8 1-.5 1-.3 1-.1 1-1.6 1 1.7 1-5.3 1 8 1-8.2 1 12.2 1-.1 1 7 1-.8 1 5.5 1 1.9 1 .9 1 4.5 1-2.9 1 10.8 1 3.3 1 1.6 1 13.5 1-.4 1-.5 1 7.1 1 .7 1 6.5 1 14.5 1-3.7 1 .1 1 5.9 1 8.1 1 1.9 1 2.9 1 7.7 1 4.8 1 .5 1 8.6 1 11.5 1-7.5 1-1.9 1 3 1 7.8 1 7.2 1 9.7 1-9.8 1 12.8 1 1.1 1-2.1 1-.1 1-11.9 1 25.9 1 3.7 1-18.4 1 6.2 1 10.9 1-5 1 9.1 1-4.5 1-11.7 1 7.7 1 4.8 1 .6 1-.5 1 10.3 1 16.5 1-24.9 1 17.1 1-11.5 1-13.5 1 26.6 1 1 1 5 1-21.3 1 24.1 1-21 1 15.8 1 13.6 1-18.2 1-9.3 1 17 1-22.9 1 9.3 1 27.2 1-12.9 1-10.3 1-7 1 31.3 1-32.5 1-.1 1-1.7 1 8.9 1-5 1 8.3 1 17.8 1-33.3 1 46.6 1-28 1 4.6 1 4.3 1-34.3 1 30.3 1 6.2 1-8.1 1 3.7 1 .2 1-5.8 1 16.4 1 15.8 1-44.4 1 7.3 1 4.1 1 28.5 1-35.2 1 35.5 1-20.8 1 19.5 1-8.4 1 15 1-44.9 1 13.6 1 4.9 1 7.6 1 19.2 1-12.8 1 2.1 1-6.3 1-5.4 1 11.8 1 5.7 1-18 1 2.9 1-4.4 1 12 1-3 1-6.9 1 9.3 1-5.3 1 .2 1 23.6 1-30.2 1-3.9 1 10.3 1-12.3 1 22.4 1-5.3 1-20.9 1 18.7 1-21.7 1 17.7 1 .6 1 17.8 1-12.6 1 .7 1-1.5 1-8.3 1 1.8 1 14.3 1-6.8 1-44.2 1 56.9 1-16.7 1 12.2 1-18.4 1-13.7 1 20 1-19.2 1-17.1 1 22.6 1 7.8 1 3.4 1 4.4 1-20.7 1 6.1 1-12.2 1 5 1 21.7 1 3.7 1-11.7 1-5.5 1-11.1 1 7.5 1 13.1 1-1.1 1 4.4 1-13.1 1 12.3 1 13.8 1-10.3 1-14.6 1-1.8 1-3.6 1 .5 1 16.8 1-20.6 1 26.4 1 4.7 1 3.1 1-2 1-25 1 4.5 1-2.3 1 8.5 1 1.1 1-6.8 1 18.4 1-20.9 1 26.4 1-30.7 1 9.1 1-12.4 1 9.1 1 20.4 1 15 1-2.4 1-18 1 9.2 1-20.7 1 11.6 1 1.6 1-3.5 1-9.2 1 19.9 1 23.7 1-14.5 1-23.4 1 4.1 1 20.2 1-26.5 1 23.6 1-14.2 1-.8 1 5.7 1-23.8 1 25.2 1-20.8 1-5.1 1 18.4 1 2.1 1-14.8 1 17.4 1-7.2 1-3.6 1-16.2 1 23 1-25.7 1 10.8 1 30.7 1-12.3 1-7 1 4.1 1 11.9 1-1.7 1 10 1-14.7 1-9.1 1-13.1 1 7.4 1 16.8 1-8.1 1 25.4 1-29.7 1-11.1 1-3.3 1 10.6 1-4.4 1 9.4 1 0 1 5.9 1-7.3 1 3.7 1 22.5 1-53.8 1 10.8 1 2.4 1 22.4 1-20.7 1 6 1 16.2 1-7.4 1-11.7 1 6.4 1 2.2 1 13.2 1-24.3 1 7.3 1 18.2 1 .1 1-.1 1-8.1 1 8.8 1-15.8 1 22.6 1-32.8 1 5.8 1 7.1 1-6.1 1 25.3 1 9.1 1-23.5 1 5.7 1 4.5 1-22.1 1 26.8 1-18.6 1 8.1 1-13.5 1 16.5 1 6.7 1 2.1 1-16.2 1-4 1 6.9 1-4.8 1 13.4 1-10.1 1 10.3 1-31 1 27 1-.2 1-7.3 1-19.7 1 20.9 1-8.6 1-11.1 1 8.2 1-.1 1 24 1-34.2 1 12.3 1 20.8 1-31 1 5.3 1 7.2 1-21.5 1 7.2 1 5.4 1-8.5 1 26.6 1-35.3 1 39.7 1-18.2 1 19.8 1-4.8 1-18.3 1-1.1 1-5.7 1 10.1 1-27.6 1 17.8 1 4.4 1 0 1 13.9 1-27 1 19.9 1 15.9 1-27 1 2.4 1-17 1 1.4 1 10.3 1 10.9 1-10.9 1 12.3 1-1.8 1-5.9 1 7.9 1-10.3 1-7 1 13.8 1 4.8 1-7.1 1-1.7 1 .5 1 16.6 1-28.6 1 8.2 1-2.2 1 13.7 1-11.6 1-9.1 1-5.8 1 16.5 1 .1 1-1.4 1 .9 1-18 1 19.1 1-18.6 1 31 1-11.8 1 22.1 1 .2 1-19.8 1-18.8 1 28.8"/>
</g>
<line x1="1240.1" y1="443.2" x2="1240.1" y2="1697" stroke="#000" stroke-width="8.8" stroke-dasharray="8.8 8.82"/>
<line x1="1449.5" y1="117.2" x2="1449.5" y2="1697" stroke="#000" stroke-width="8.8" stroke-dasharray="8.8 8.82"/>
<line x1="2072.0" y1="215.0" x2="2072.0" y2="1704" stroke="#000" stroke-width="8.8" stroke-dasharray="8.8 8.82"/>
<rect x="225.5" y="23.5" width="2097" height="1683.5" fill="none" stroke="#000" stroke-width="6.8"/>
<line x1="224.3" y1="1707" x2="224.3" y2="1723" stroke="#000" stroke-width="6.5"/>
<line x1="385.7" y1="1707" x2="385.7" y2="1740.5" stroke="#000" stroke-width="6.5"/>
<line x1="547.1" y1="1707" x2="547.1" y2="1723" stroke="#000" stroke-width="6.5"/>
<line x1="708.5" y1="1707" x2="708.5" y2="1740.5" stroke="#000" stroke-width="6.5"/>
<line x1="869.9" y1="1707" x2="869.9" y2="1723" stroke="#000" stroke-width="6.5"/>
<line x1="1031.3" y1="1707" x2="1031.3" y2="1740.5" stroke="#000" stroke-width="6.5"/>
<line x1="1192.7" y1="1707" x2="1192.7" y2="1723" stroke="#000" stroke-width="6.5"/>
<line x1="1354.1" y1="1707" x2="1354.1" y2="1740.5" stroke="#000" stroke-width="6.5"/>
<line x1="1515.5" y1="1707" x2="1515.5" y2="1723" stroke="#000" stroke-width="6.5"/>
<line x1="1676.9" y1="1707" x2="1676.9" y2="1740.5" stroke="#000" stroke-width="6.5"/>
<line x1="1838.3" y1="1707" x2="1838.3" y2="1723" stroke="#000" stroke-width="6.5"/>
<line x1="1999.7" y1="1707" x2="1999.7" y2="1740.5" stroke="#000" stroke-width="6.5"/>
<line x1="2161.1" y1="1707" x2="2161.1" y2="1723" stroke="#000" stroke-width="6.5"/>
<line x1="2322.5" y1="1707" x2="2322.5" y2="1740.5" stroke="#000" stroke-width="6.5"/>
<text transform="translate(386.0 1826) scale(0.95 1)" font-family="Liberation Sans, Arial, sans-serif" font-weight="bold" font-size="82" text-anchor="middle">10</text>
<text transform="translate(708.8 1826) scale(0.95 1)" font-family="Liberation Sans, Arial, sans-serif" font-weight="bold" font-size="82" text-anchor="middle">20</text>
<text transform="translate(1031.6 1826) scale(0.95 1)" font-family="Liberation Sans, Arial, sans-serif" font-weight="bold" font-size="82" text-anchor="middle">30</text>
<text transform="translate(1354.4 1826) scale(0.95 1)" font-family="Liberation Sans, Arial, sans-serif" font-weight="bold" font-size="82" text-anchor="middle">40</text>
<text transform="translate(1677.2 1826) scale(0.95 1)" font-family="Liberation Sans, Arial, sans-serif" font-weight="bold" font-size="82" text-anchor="middle">50</text>
<text transform="translate(2000.0 1826) scale(0.95 1)" font-family="Liberation Sans, Arial, sans-serif" font-weight="bold" font-size="82" text-anchor="middle">60</text>
<text transform="translate(2322.8 1826) scale(0.95 1)" font-family="Liberation Sans, Arial, sans-serif" font-weight="bold" font-size="82" text-anchor="middle">70</text>
<text transform="translate(1089 1970.5) scale(0.97 1)" font-family="Liberation Sans, Arial, sans-serif" font-weight="bold" font-size="90.5">2 theta, °</text>
<text transform="translate(90.8 808.75) rotate(-90) scale(0.946 1)" font-family="Liberation Sans, Arial, sans-serif" font-weight="bold" font-size="92.5" text-anchor="middle">Intensity, a.u.</text>
<text transform="translate(300.5 450) scale(0.965 1)" font-family="Liberation Sans, Arial, sans-serif" font-weight="bold" font-size="57.5">0.1% C</text>
<text transform="translate(300.5 694) scale(0.965 1)" font-family="Liberation Sans, Arial, sans-serif" font-weight="bold" font-size="57.5">0.5% C</text>
<text transform="translate(300.5 921) scale(0.965 1)" font-family="Liberation Sans, Arial, sans-serif" font-weight="bold" font-size="57.5">1.0% C</text>
<text transform="translate(300.5 1109) scale(0.965 1)" font-family="Liberation Sans, Arial, sans-serif" font-weight="bold" font-size="57.5">1.5% C</text>
<text transform="translate(300.5 1364) scale(0.965 1)" font-family="Liberation Sans, Arial, sans-serif" font-weight="bold" font-size="57.5">2.5% C</text>
<text transform="translate(300.5 1603) scale(0.965 1)" font-family="Liberation Sans, Arial, sans-serif" font-weight="bold" font-size="57.5">4.0% C</text>
<text x="1235.3" y="421" font-family="Liberation Sans, Arial, sans-serif" font-size="48" text-anchor="middle">(111)</text>
<text x="1447" y="95.5" font-family="Liberation Sans, Arial, sans-serif" font-size="48" text-anchor="middle">(200)</text>
<text x="2075" y="190" font-family="Liberation Sans, Arial, sans-serif" font-size="48" text-anchor="middle">(220)</text>
<rect x="243" y="93" width="7" height="60" fill="#000"/>
<text transform="translate(265 153.5) scale(0.965 1)" font-family="Liberation Sans, Arial, sans-serif" font-weight="bold" font-size="90">2.5</text>
</svg>
</body></html>
